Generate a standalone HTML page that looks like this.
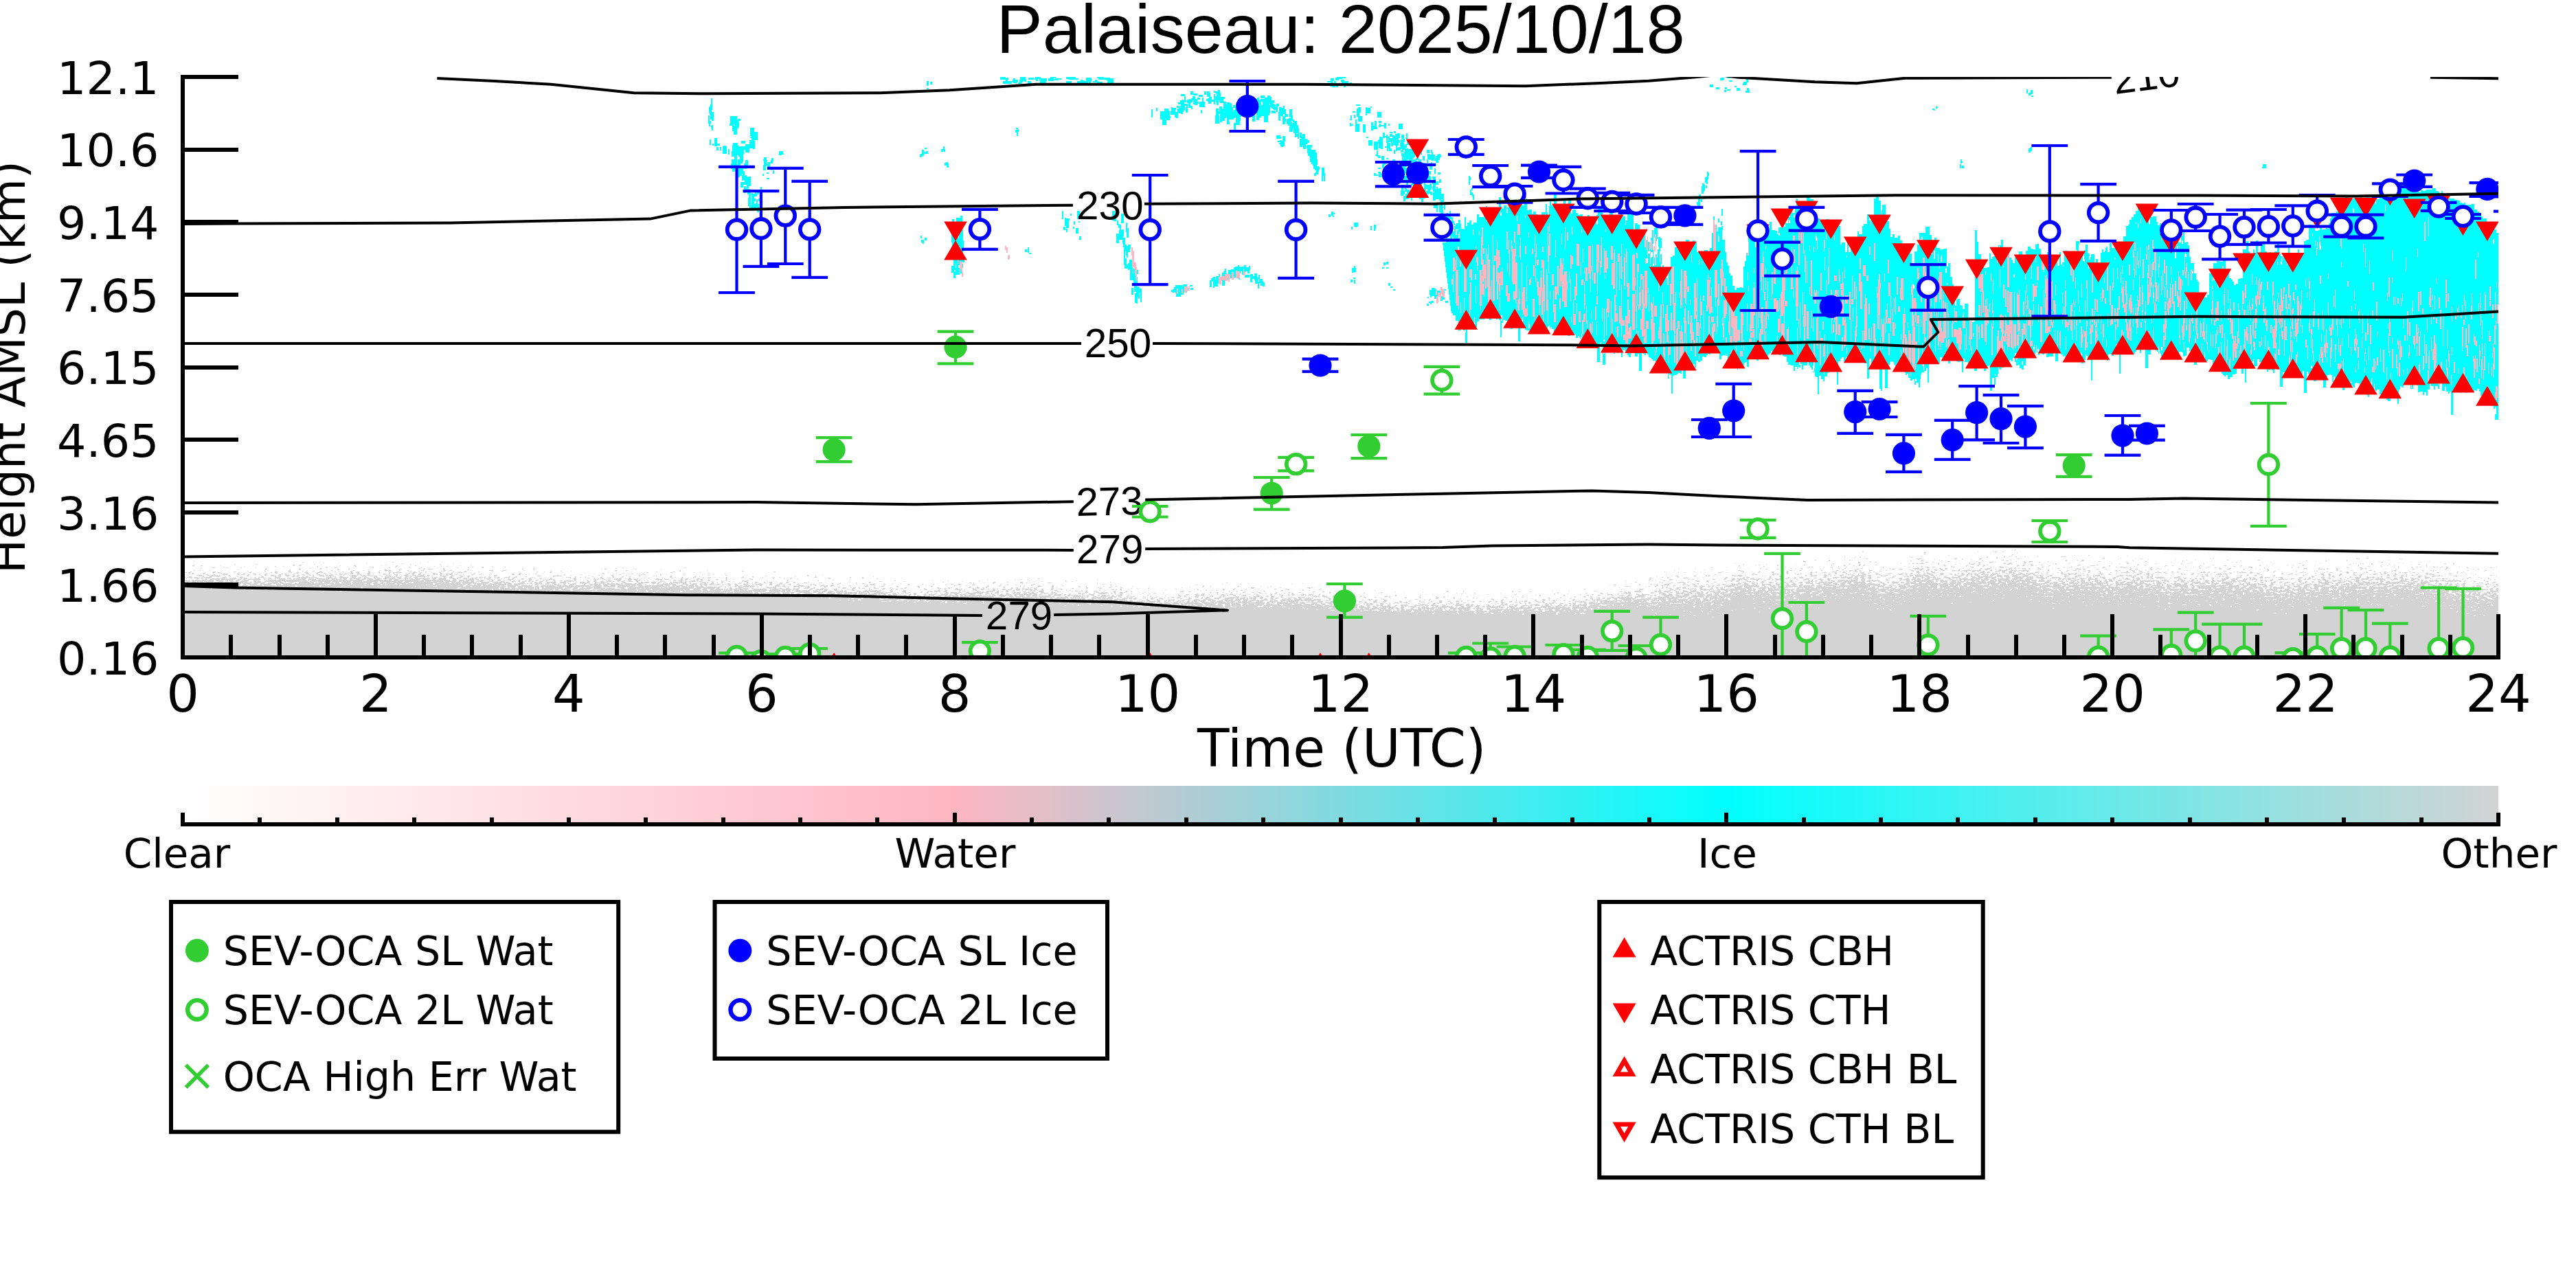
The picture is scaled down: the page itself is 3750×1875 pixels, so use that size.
<!DOCTYPE html><html><head><meta charset="utf-8"><title>Palaiseau: 2025/10/18</title>
<style>html,body{margin:0;padding:0;background:#fff}svg{display:block}text{font-family:"DejaVu Sans","Liberation Sans",sans-serif;fill:#000}.lib{font-family:"Liberation Sans","DejaVu Sans",sans-serif}</style></head><body>
<svg width="3750" height="1875" viewBox="0 0 3750 1875">
<defs>
<clipPath id="pc"><rect x="266" y="112" width="3371" height="845"/></clipPath>
<linearGradient id="cb" x1="0" x2="1" y1="0" y2="0"><stop offset="0" stop-color="#ffffff"/><stop offset="0.3333" stop-color="#ffb6c1"/><stop offset="0.6667" stop-color="#00ffff"/><stop offset="1" stop-color="#d3d3d3"/></linearGradient>
<filter id="gn" x="0" y="0" width="100%" height="100%" filterUnits="objectBoundingBox" color-interpolation-filters="sRGB"><feGaussianBlur in="SourceAlpha" stdDeviation="0 19" result="b0"/><feComponentTransfer in="b0" result="b"><feFuncA type="gamma" amplitude="1" exponent="0.6" offset="0"/></feComponentTransfer><feTurbulence type="fractalNoise" baseFrequency="0.2 0.4" numOctaves="2" seed="5" result="t"/><feColorMatrix in="t" type="matrix" values="0 0 0 0 0 0 0 0 0 0 0 0 0 0 0 2 0 0 0 -0.5" result="n0"/><feComponentTransfer in="n0" result="n"><feFuncA type="linear" slope="0.94" intercept="0"/></feComponentTransfer><feComposite in="b" in2="n" operator="arithmetic" k1="0" k2="1" k3="1" k4="-0.95" result="s"/><feComponentTransfer in="s" result="a"><feFuncA type="linear" slope="80" intercept="0"/></feComponentTransfer><feFlood flood-color="#d3d3d3"/><feComposite in2="a" operator="in"/></filter>
<filter id="gnL" x="0" y="0" width="100%" height="100%" filterUnits="objectBoundingBox" color-interpolation-filters="sRGB"><feGaussianBlur in="SourceAlpha" stdDeviation="0 12" result="b0"/><feComponentTransfer in="b0" result="b"><feFuncA type="gamma" amplitude="1" exponent="0.6" offset="0"/></feComponentTransfer><feTurbulence type="fractalNoise" baseFrequency="0.2 0.4" numOctaves="2" seed="9" result="t"/><feColorMatrix in="t" type="matrix" values="0 0 0 0 0 0 0 0 0 0 0 0 0 0 0 2 0 0 0 -0.5" result="n0"/><feComponentTransfer in="n0" result="n"><feFuncA type="linear" slope="0.94" intercept="0"/></feComponentTransfer><feComposite in="b" in2="n" operator="arithmetic" k1="0" k2="1" k3="1" k4="-0.95" result="s"/><feComponentTransfer in="s" result="a"><feFuncA type="linear" slope="80" intercept="0"/></feComponentTransfer><feFlood flood-color="#d3d3d3"/><feComposite in2="a" operator="in"/></filter>
<clipPath id="cc"><path d="M2100.1,353.2 2105.1,353.2 2105.1,334.5 2107.1,334.5 2107.1,347.3 2111.1,347.3 2111.1,338.9 2114.1,338.9 2114.1,336.7 2117.1,336.7 2117.1,328.8 2119.1,328.8 2119.1,338.5 2121.1,338.5 2121.1,335.3 2123.1,335.3 2123.1,320.1 2126.1,320.1 2126.1,336.1 2130.1,336.1 2130.1,334.8 2132.1,334.8 2132.1,315.6 2134.1,315.6 2134.1,329.1 2136.1,329.1 2136.1,323.9 2139.1,323.9 2139.1,320.7 2142.1,320.7 2142.1,326.9 2145.1,326.9 2145.1,324.2 2150.1,324.2 2150.1,311.6 2153.1,311.6 2153.1,316.3 2158.1,316.3 2158.1,316.2 2160.1,316.2 2160.1,301.5 2163.1,301.5 2163.1,299.5 2165.1,299.5 2165.1,305.2 2169.1,305.2 2169.1,309.9 2172.1,309.9 2172.1,308.1 2175.1,308.1 2175.1,303.2 2177.1,303.2 2177.1,302.2 2182.1,302.2 2182.1,286.7 2185.1,286.7 2185.1,301.6 2188.1,301.6 2188.1,299 2193.1,299 2193.1,301.5 2196.1,301.5 2196.1,287.6 2198.1,287.6 2198.1,285 2203.1,285 2203.1,282.3 2206.1,282.3 2206.1,281.3 2210.1,281.3 2210.1,294.4 2213.1,294.4 2213.1,293.5 2216.1,293.5 2216.1,298.6 2219.1,298.6 2219.1,296.3 2221.1,296.3 2221.1,288.5 2223.1,288.5 2223.1,306.3 2226.1,306.3 2226.1,304.8 2230.1,304.8 2230.1,310.8 2232.1,310.8 2232.1,307.7 2236.1,307.7 2236.1,312.2 2239.1,312.2 2239.1,314.5 2244.1,314.5 2244.1,308.6 2247.1,308.6 2247.1,309.3 2250.1,309.3 2250.1,296.7 2252.1,296.7 2252.1,299.7 2256.1,299.7 2256.1,291.2 2258.1,291.2 2258.1,299.2 2262.1,299.2 2262.1,282 2266.1,282 2266.1,302.5 2269.1,302.5 2269.1,297.9 2271.1,297.9 2271.1,302.5 2274.1,302.5 2274.1,301.7 2276.1,301.7 2276.1,291.6 2279.1,291.6 2279.1,306.7 2283.1,306.7 2283.1,287.8 2287.1,287.8 2287.1,310.7 2289.1,310.7 2289.1,304.6 2294.1,304.6 2294.1,310.2 2297.1,310.2 2297.1,313.2 2300.1,313.2 2300.1,311.5 2304.1,311.5 2304.1,314.7 2306.1,314.7 2306.1,316.3 2311.1,316.3 2311.1,313.4 2314.1,313.4 2314.1,315.8 2316.1,315.8 2316.1,315.1 2318.1,315.1 2318.1,318.7 2321.1,318.7 2321.1,316.4 2324.1,316.4 2324.1,313.2 2326.1,313.2 2326.1,304.4 2329.1,304.4 2329.1,302.1 2333.1,302.1 2333.1,313.9 2338.1,313.9 2338.1,319.9 2343.1,319.9 2343.1,306.7 2348.1,306.7 2348.1,315.9 2350.1,315.9 2350.1,321.4 2352.1,321.4 2352.1,320.4 2355.1,320.4 2355.1,322.9 2357.1,322.9 2357.1,314.6 2359.1,314.6 2359.1,306.4 2362.1,306.4 2362.1,315.1 2366.1,315.1 2366.1,320.5 2369.1,320.5 2369.1,310.4 2371.1,310.4 2371.1,306.6 2376.1,306.6 2376.1,312.2 2378.1,312.2 2378.1,335.2 2380.1,335.2 2380.1,324.8 2384.1,324.8 2384.1,327 2387.1,327 2387.1,346.1 2389.1,346.1 2389.1,345.9 2392.1,345.9 2392.1,355.1 2396.1,355.1 2396.1,382.5 2400.1,382.5 2400.1,376.4 2404.1,376.4 2404.1,374.3 2406.1,374.3 2406.1,386.6 2408.1,386.6 2408.1,375.4 2413.1,375.4 2413.1,382.1 2418.1,382.1 2418.1,389.2 2420.1,389.2 2420.1,385.9 2422.1,385.9 2422.1,396.4 2426.1,396.4 2426.1,390.7 2428.1,390.7 2428.1,393.2 2432.1,393.2 2432.1,373.9 2435.1,373.9 2435.1,371.5 2438.1,371.5 2438.1,359.7 2442.1,359.7 2442.1,362.9 2445.1,362.9 2445.1,360.8 2447.1,360.8 2447.1,353.6 2449.1,353.6 2449.1,357.9 2454.1,357.9 2454.1,349.4 2459.1,349.4 2459.1,360.3 2461.1,360.3 2461.1,362.4 2464.1,362.4 2464.1,349.7 2467.1,349.7 2467.1,351.8 2470.1,351.8 2470.1,366.9 2475.1,366.9 2475.1,367.9 2478.1,367.9 2478.1,370.5 2481.1,370.5 2481.1,363.9 2486.1,363.9 2486.1,371.3 2489.1,371.3 2489.1,361.1 2492.1,361.1 2492.1,332.7 2494.1,332.7 2494.1,314.9 2496.1,314.9 2496.1,326.7 2499.1,326.7 2499.1,337.1 2501.1,337.1 2501.1,330.9 2504.1,330.9 2504.1,331.3 2507.1,331.3 2507.1,349 2511.1,349 2511.1,367.1 2513.1,367.1 2513.1,382.3 2515.1,382.3 2515.1,386.9 2517.1,386.9 2517.1,397.8 2519.1,397.8 2519.1,401.4 2522.1,401.4 2522.1,415.6 2525.1,415.6 2525.1,422.4 2528.1,422.4 2528.1,419.4 2533.1,419.4 2533.1,417.7 2535.1,417.7 2535.1,418.8 2538.1,418.8 2538.1,387.6 2540.1,387.6 2540.1,375.9 2542.1,375.9 2542.1,368.3 2545.1,368.3 2545.1,342.7 2549.1,342.7 2549.1,336.4 2552.1,336.4 2552.1,326.9 2557.1,326.9 2557.1,331.2 2560.1,331.2 2560.1,333.4 2564.1,333.4 2564.1,333.9 2566.1,333.9 2566.1,339.8 2571.1,339.8 2571.1,332.6 2574.1,332.6 2574.1,339.6 2576.1,339.6 2576.1,323.2 2579.1,323.2 2579.1,335.3 2584.1,335.3 2584.1,335.8 2589.1,335.8 2589.1,331.3 2594.1,331.3 2594.1,331.5 2596.1,331.5 2596.1,325.4 2599.1,325.4 2599.1,324.8 2603.1,324.8 2603.1,315.5 2606.1,315.5 2606.1,304.7 2609.1,304.7 2609.1,310.4 2613.1,310.4 2613.1,302.9 2615.1,302.9 2615.1,288.8 2617.1,288.8 2617.1,300.6 2619.1,300.6 2619.1,303 2621.1,303 2621.1,295.8 2623.1,295.8 2623.1,295 2627.1,295 2627.1,295 2630.1,295 2630.1,284 2635.1,284 2635.1,290 2640.1,290 2640.1,312.2 2645.1,312.2 2645.1,318.4 2649.1,318.4 2649.1,321.7 2651.1,321.7 2651.1,322.3 2656.1,322.3 2656.1,324.4 2658.1,324.4 2658.1,318.9 2663.1,318.9 2663.1,325.4 2666.1,325.4 2666.1,327.1 2671.1,327.1 2671.1,334.3 2674.1,334.3 2674.1,328.9 2679.1,328.9 2679.1,356 2681.1,356 2681.1,353.4 2686.1,353.4 2686.1,367 2689.1,367 2689.1,349.3 2691.1,349.3 2691.1,367.4 2694.1,367.4 2694.1,359.4 2699.1,359.4 2699.1,351.9 2704.1,351.9 2704.1,336.9 2706.1,336.9 2706.1,341 2711.1,341 2711.1,329.1 2713.1,329.1 2713.1,325.9 2718.1,325.9 2718.1,312.1 2721.1,312.1 2721.1,320.8 2724.1,320.8 2724.1,320.8 2728.1,320.8 2728.1,289.4 2731.1,289.4 2731.1,284.7 2735.1,284.7 2735.1,292.2 2738.1,292.2 2738.1,305.9 2740.1,305.9 2740.1,297.5 2745.1,297.5 2745.1,317.2 2747.1,317.2 2747.1,321.6 2750.1,321.6 2750.1,332.7 2752.1,332.7 2752.1,345.1 2755.1,345.1 2755.1,340.8 2758.1,340.8 2758.1,346.4 2763.1,346.4 2763.1,342.8 2766.1,342.8 2766.1,349.7 2769.1,349.7 2769.1,367.1 2771.1,367.1 2771.1,366.5 2773.1,366.5 2773.1,371.3 2776.1,371.3 2776.1,369.1 2780.1,369.1 2780.1,369 2783.1,369 2783.1,387.2 2785.1,387.2 2785.1,382.6 2787.1,382.6 2787.1,365.7 2791.1,365.7 2791.1,356 2794.1,356 2794.1,338.7 2799.1,338.7 2799.1,338.8 2803.1,338.8 2803.1,330 2805.1,330 2805.1,329.9 2809.1,329.9 2809.1,341.6 2812.1,341.6 2812.1,355 2816.1,355 2816.1,345.6 2819.1,345.6 2819.1,360.8 2824.1,360.8 2824.1,362.7 2829.1,362.7 2829.1,362.1 2834.1,362.1 2834.1,388.2 2836.1,388.2 2836.1,383.3 2839.1,383.3 2839.1,403.4 2842.1,403.4 2842.1,413.9 2844.1,413.9 2844.1,419.2 2846.1,419.2 2846.1,426.5 2848.1,426.5 2848.1,435.8 2850.1,435.8 2850.1,434.9 2853.1,434.9 2853.1,444.3 2855.1,444.3 2855.1,444.7 2857.1,444.7 2857.1,450.3 2860.1,450.3 2860.1,441.7 2865.1,441.7 2865.1,464.5 2867.1,464.5 2867.1,466.9 2870.1,466.9 2870.1,468.9 2873.1,468.9 2873.1,468.3 2875.1,468.3 2875.1,334.9 2878.1,334.9 2878.1,352.3 2880.1,352.3 2880.1,369.8 2884.1,369.8 2884.1,393.4 2886.1,393.4 2886.1,387.3 2888.1,387.3 2888.1,390 2893.1,390 2893.1,388.8 2896.1,388.8 2896.1,368.6 2898.1,368.6 2898.1,376.8 2900.1,376.8 2900.1,374.3 2902.1,374.3 2902.1,373.1 2905.1,373.1 2905.1,362.7 2907.1,362.7 2907.1,368 2909.1,368 2909.1,356.9 2913.1,356.9 2913.1,349.3 2916.1,349.3 2916.1,366.2 2918.1,366.2 2918.1,368.1 2920.1,368.1 2920.1,359.9 2925.1,359.9 2925.1,375.3 2928.1,375.3 2928.1,378.4 2930.1,378.4 2930.1,383.4 2933.1,383.4 2933.1,374.8 2936.1,374.8 2936.1,379.4 2939.1,379.4 2939.1,366.4 2944.1,366.4 2944.1,372.3 2947.1,372.3 2947.1,371.7 2949.1,371.7 2949.1,365 2952.1,365 2952.1,358.7 2956.1,358.7 2956.1,361.6 2959.1,361.6 2959.1,363.3 2963.1,363.3 2963.1,356.2 2965.1,356.2 2965.1,354.5 2968.1,354.5 2968.1,362.4 2971.1,362.4 2971.1,374.4 2974.1,374.4 2974.1,373.7 2976.1,373.7 2976.1,371.6 2980.1,371.6 2980.1,367.2 2985.1,367.2 2985.1,375.1 2988.1,375.1 2988.1,375.7 2990.1,375.7 2990.1,379.2 2992.1,379.2 2992.1,380.1 2995.1,380.1 2995.1,387 2998.1,387 2998.1,367 3000.1,367 3000.1,385.2 3002.1,385.2 3002.1,382.2 3005.1,382.2 3005.1,364.9 3010.1,364.9 3010.1,366.7 3012.1,366.7 3012.1,375.7 3014.1,375.7 3014.1,374.1 3018.1,374.1 3018.1,368 3022.1,368 3022.1,350.6 3027.1,350.6 3027.1,366.3 3029.1,366.3 3029.1,365.8 3034.1,365.8 3034.1,364.1 3036.1,364.1 3036.1,356 3039.1,356 3039.1,369.2 3042.1,369.2 3042.1,374.1 3044.1,374.1 3044.1,370 3049.1,370 3049.1,381.9 3051.1,381.9 3051.1,377.4 3054.1,377.4 3054.1,388.7 3058.1,388.7 3058.1,367.7 3060.1,367.7 3060.1,363.4 3062.1,363.4 3062.1,366.5 3064.1,366.5 3064.1,361 3066.1,361 3066.1,358.9 3068.1,358.9 3068.1,366.5 3071.1,366.5 3071.1,353.5 3074.1,353.5 3074.1,361 3079.1,361 3079.1,361.5 3081.1,361.5 3081.1,356.6 3084.1,356.6 3084.1,355.6 3089.1,355.6 3089.1,357.4 3091.1,357.4 3091.1,344.3 3095.1,344.3 3095.1,329.4 3098.1,329.4 3098.1,326.9 3100.1,326.9 3100.1,320.4 3103.1,320.4 3103.1,315.6 3106.1,315.6 3106.1,311.9 3109.1,311.9 3109.1,306.6 3112.1,306.6 3112.1,303.4 3116.1,303.4 3116.1,305.7 3118.1,305.7 3118.1,311.4 3121.1,311.4 3121.1,307.5 3126.1,307.5 3126.1,303.6 3130.1,303.6 3130.1,311.3 3132.1,311.3 3132.1,316.4 3134.1,316.4 3134.1,314.5 3139.1,314.5 3139.1,323.2 3141.1,323.2 3141.1,327.8 3144.1,327.8 3144.1,325.3 3146.1,325.3 3146.1,326.1 3149.1,326.1 3149.1,335.2 3152.1,335.2 3152.1,340.4 3156.1,340.4 3156.1,339.9 3161.1,339.9 3161.1,357.1 3166.1,357.1 3166.1,357.3 3169.1,357.3 3169.1,350.8 3172.1,350.8 3172.1,352.6 3175.1,352.6 3175.1,342.8 3178.1,342.8 3178.1,338 3180.1,338 3180.1,352.6 3183.1,352.6 3183.1,352.1 3185.1,352.1 3185.1,357.2 3187.1,357.2 3187.1,373.8 3189.1,373.8 3189.1,382.6 3194.1,382.6 3194.1,398 3197.1,398 3197.1,407.2 3199.1,407.2 3199.1,409.8 3201.1,409.8 3201.1,432.8 3203.1,432.8 3203.1,430.2 3205.1,430.2 3205.1,431.4 3207.1,431.4 3207.1,431.3 3209.1,431.3 3209.1,433.2 3213.1,433.2 3213.1,429 3216.1,429 3216.1,397.6 3219.1,397.6 3219.1,392.4 3222.1,392.4 3222.1,382.8 3227.1,382.8 3227.1,379.8 3231.1,379.8 3231.1,380.9 3236.1,380.9 3236.1,377.7 3240.1,377.7 3240.1,392.1 3243.1,392.1 3243.1,391.3 3245.1,391.3 3245.1,405 3248.1,405 3248.1,406.8 3250.1,406.8 3250.1,409.7 3252.1,409.7 3252.1,415.2 3255.1,415.2 3255.1,413.3 3258.1,413.3 3258.1,405.9 3261.1,405.9 3261.1,405.3 3265.1,405.3 3265.1,363.2 3270.1,363.2 3270.1,351.4 3273.1,351.4 3273.1,366.4 3275.1,366.4 3275.1,369.3 3280.1,369.3 3280.1,362.9 3282.1,362.9 3282.1,367.5 3284.1,367.5 3284.1,349.7 3287.1,349.7 3287.1,371.8 3289.1,371.8 3289.1,366.9 3291.1,366.9 3291.1,357.1 3294.1,357.1 3294.1,350.9 3297.1,350.9 3297.1,365.7 3300.1,365.7 3300.1,369.8 3302.1,369.8 3302.1,367.7 3304.1,367.7 3304.1,367.3 3306.1,367.3 3306.1,372.4 3309.1,372.4 3309.1,370.8 3311.1,370.8 3311.1,366.1 3315.1,366.1 3315.1,354.2 3318.1,354.2 3318.1,369.5 3320.1,369.5 3320.1,373.4 3323.1,373.4 3323.1,368.5 3326.1,368.5 3326.1,370.2 3329.1,370.2 3329.1,369.9 3331.1,369.9 3331.1,356 3333.1,356 3333.1,372.9 3336.1,372.9 3336.1,372.2 3340.1,372.2 3340.1,371 3345.1,371 3345.1,362.8 3347.1,362.8 3347.1,372 3350.1,372 3350.1,369.8 3352.1,369.8 3352.1,367.6 3354.1,367.6 3354.1,351.4 3357.1,351.4 3357.1,348.8 3361.1,348.8 3361.1,327.1 3365.1,327.1 3365.1,328.7 3368.1,328.7 3368.1,332.1 3370.1,332.1 3370.1,335.6 3372.1,335.6 3372.1,336.3 3375.1,336.3 3375.1,335.3 3377.1,335.3 3377.1,329.5 3380.1,329.5 3380.1,334.1 3384.1,334.1 3384.1,334 3386.1,334 3386.1,331.6 3388.1,331.6 3388.1,332.5 3390.1,332.5 3390.1,325.4 3392.1,325.4 3392.1,317.6 3394.1,317.6 3394.1,309.6 3398.1,309.6 3398.1,310 3401.1,310 3401.1,307.8 3404.1,307.8 3404.1,303.9 3409.1,303.9 3409.1,299 3411.1,299 3411.1,294.8 3414.1,294.8 3414.1,284.8 3416.1,284.8 3416.1,287 3418.1,287 3418.1,287.8 3423.1,287.8 3423.1,289.9 3426.1,289.9 3426.1,288 3430.1,288 3430.1,289 3434.1,289 3434.1,287.8 3436.1,287.8 3436.1,284.8 3438.1,284.8 3438.1,289 3443.1,289 3443.1,286.1 3446.1,286.1 3446.1,285.1 3450.1,285.1 3450.1,282.8 3455.1,282.8 3455.1,289.2 3459.1,289.2 3459.1,290.1 3464.1,290.1 3464.1,286.1 3469.1,286.1 3469.1,281 3471.1,281 3471.1,286 3475.1,286 3475.1,280 3477.1,280 3477.1,276.5 3479.1,276.5 3479.1,280.3 3481.1,280.3 3481.1,277.5 3486.1,277.5 3486.1,278.7 3491.1,278.7 3491.1,271.9 3494.1,271.9 3494.1,270.7 3498.1,270.7 3498.1,273.8 3503.1,273.8 3503.1,274.8 3505.1,274.8 3505.1,274.7 3510.1,274.7 3510.1,272.7 3515.1,272.7 3515.1,278.2 3517.1,278.2 3517.1,278.2 3520.1,278.2 3520.1,278.8 3522.1,278.8 3522.1,280.1 3524.1,280.1 3524.1,277 3527.1,277 3527.1,277.5 3530.1,277.5 3530.1,277.4 3532.1,277.4 3532.1,275.6 3536.1,275.6 3536.1,276.2 3541.1,276.2 3541.1,273.9 3546.1,273.9 3546.1,277.9 3549.1,277.9 3549.1,278.6 3551.1,278.6 3551.1,282.6 3553.1,282.6 3553.1,277.7 3556.1,277.7 3556.1,283.5 3559.1,283.5 3559.1,285.3 3563.1,285.3 3563.1,288.5 3566.1,288.5 3566.1,288.5 3568.1,288.5 3568.1,288.5 3573.1,288.5 3573.1,290.5 3578.1,290.5 3578.1,291.7 3581.1,291.7 3581.1,295.1 3584.1,295.1 3584.1,295.9 3587.1,295.9 3587.1,295 3589.1,295 3589.1,298.4 3593.1,298.4 3593.1,298.4 3598.1,298.4 3598.1,297.4 3602.1,297.4 3602.1,304.6 3606.1,304.6 3606.1,307.6 3609.1,307.6 3609.1,312.1 3612.1,312.1 3612.1,314.7 3614.1,314.7 3614.1,318 3617.1,318 3617.1,318.1 3620.1,318.1 3620.1,322.9 3624.1,322.9 3624.1,324 3629.1,324 3629.1,334 3634.1,334 3634.1,338.8 3637.1,338.8 3640,338.8 3640,611.4 3635.9,611.4 3631.9,611.4 3631.9,594.6 3629.9,594.6 3629.9,590.7 3626.9,590.7 3626.9,587 3623.9,587 3623.9,585.6 3620.9,585.6 3620.9,581.9 3616.9,581.9 3616.9,582.1 3614.9,582.1 3614.9,579.9 3612.9,579.9 3612.9,575.7 3610.9,575.7 3610.9,570.2 3608.9,570.2 3608.9,566 3605.9,566 3605.9,568.8 3603.9,568.8 3603.9,567.8 3601.9,567.8 3601.9,569.6 3599.9,569.6 3599.9,566.2 3596.9,566.2 3596.9,569 3594.9,569 3594.9,567.2 3592.9,567.2 3592.9,567.9 3590.9,567.9 3590.9,571.6 3588.9,571.6 3588.9,568.8 3584.9,568.8 3584.9,568 3582.9,568 3582.9,571.8 3580.9,571.8 3580.9,569.1 3578.9,569.1 3578.9,566.1 3574.9,566.1 3574.9,567.3 3572.9,567.3 3572.9,566.9 3570.9,566.9 3570.9,603.9 3567.9,603.9 3567.9,570.3 3565.9,570.3 3565.9,572.7 3563.9,572.7 3563.9,569.7 3560.9,569.7 3560.9,562.7 3558.9,562.7 3558.9,568.6 3554.9,568.6 3554.9,557.4 3550.9,557.4 3550.9,565.5 3548.9,565.5 3548.9,561.7 3544.9,561.7 3544.9,566.5 3542.9,566.5 3542.9,561.8 3538.9,561.8 3538.9,559.3 3536.9,559.3 3536.9,567.3 3533.9,567.3 3533.9,576.1 3531.9,576.1 3531.9,571.3 3528.9,571.3 3528.9,575.1 3526.9,575.1 3526.9,569.8 3522.9,569.8 3522.9,571.2 3519.9,571.2 3519.9,561 3517.9,561 3517.9,559 3515.9,559 3515.9,559.9 3512.9,559.9 3512.9,566.4 3508.9,566.4 3508.9,560 3506.9,560 3506.9,559.6 3504.9,559.6 3504.9,560.1 3502.9,560.1 3502.9,559.1 3500.9,559.1 3500.9,559.8 3498.9,559.8 3498.9,563.7 3495.9,563.7 3495.9,562 3493.9,562 3493.9,566.6 3491.9,566.6 3491.9,587.8 3489.9,587.8 3489.9,570.1 3486.9,570.1 3486.9,575.6 3482.9,575.6 3482.9,580 3479.9,580 3479.9,583.5 3475.9,583.5 3475.9,581.7 3473.9,581.7 3473.9,575.1 3470.9,575.1 3470.9,573.8 3467.9,573.8 3467.9,573.8 3463.9,573.8 3463.9,566.9 3459.9,566.9 3459.9,568.7 3457.9,568.7 3457.9,567.5 3454.9,567.5 3454.9,570.8 3452.9,570.8 3452.9,568.7 3450.9,568.7 3450.9,572.8 3448.9,572.8 3448.9,578.3 3446.9,578.3 3446.9,574.7 3444.9,574.7 3444.9,567.7 3442.9,567.7 3442.9,568 3439.9,568 3439.9,566 3436.9,566 3436.9,565.2 3434.9,565.2 3434.9,558.2 3431.9,558.2 3431.9,556.9 3429.9,556.9 3429.9,558.2 3427.9,558.2 3427.9,563.6 3424.9,563.6 3424.9,560.6 3421.9,560.6 3421.9,559.9 3419.9,559.9 3419.9,564.4 3416.9,564.4 3416.9,563.5 3412.9,563.5 3412.9,567.7 3409.9,567.7 3409.9,559.9 3405.9,559.9 3405.9,556.5 3402.9,556.5 3402.9,550.5 3398.9,550.5 3398.9,548 3396.9,548 3396.9,556 3394.9,556 3394.9,545.5 3392.9,545.5 3392.9,545.1 3390.9,545.1 3390.9,546.1 3387.9,546.1 3387.9,548.6 3385.9,548.6 3385.9,564.2 3381.9,564.2 3381.9,550.1 3377.9,550.1 3377.9,551.5 3375.9,551.5 3375.9,550.7 3373.9,550.7 3373.9,551 3371.9,551 3371.9,554.9 3367.9,554.9 3367.9,549.2 3364.9,549.2 3364.9,547.7 3362.9,547.7 3362.9,543.7 3359.9,543.7 3359.9,540.6 3357.9,540.6 3357.9,571.6 3353.9,571.6 3353.9,540.1 3351.9,540.1 3351.9,545 3349.9,545 3349.9,543.3 3347.9,543.3 3347.9,547 3345.9,547 3345.9,547.6 3342.9,547.6 3342.9,544.1 3339.9,544.1 3339.9,547.5 3337.9,547.5 3337.9,545.8 3335.9,545.8 3335.9,542.7 3332.9,542.7 3332.9,544.3 3330.9,544.3 3330.9,543.7 3328.9,543.7 3328.9,543.2 3325.9,543.2 3325.9,541.8 3322.9,541.8 3322.9,562.7 3318.9,562.7 3318.9,536.4 3316.9,536.4 3316.9,537.9 3314.9,537.9 3314.9,536.5 3312.9,536.5 3312.9,536.1 3310.9,536.1 3310.9,543.2 3308.9,543.2 3308.9,539.2 3306.9,539.2 3306.9,539.1 3303.9,539.1 3303.9,537.7 3301.9,537.7 3301.9,540.8 3299.9,540.8 3299.9,531.5 3297.9,531.5 3297.9,531.1 3293.9,531.1 3293.9,528.2 3291.9,528.2 3291.9,527 3288.9,527 3288.9,522.7 3285.9,522.7 3285.9,532.7 3281.9,532.7 3281.9,532.9 3278.9,532.9 3278.9,527.3 3276.9,527.3 3276.9,535.7 3273.9,535.7 3273.9,536.1 3271.9,536.1 3271.9,537.1 3269.9,537.1 3269.9,557.2 3267.9,557.2 3267.9,533 3265.9,533 3265.9,543.9 3262.9,543.9 3262.9,535 3258.9,535 3258.9,535.4 3255.9,535.4 3255.9,543.5 3253.9,543.5 3253.9,545.1 3249.9,545.1 3249.9,548.6 3245.9,548.6 3245.9,551.7 3242.9,551.7 3242.9,545.6 3239.9,545.6 3239.9,547.8 3237.9,547.8 3237.9,546.3 3235.9,546.3 3235.9,544.1 3233.9,544.1 3233.9,539.7 3229.9,539.7 3229.9,535.2 3227.9,535.2 3227.9,528.1 3223.9,528.1 3223.9,529.5 3220.9,529.5 3220.9,524.4 3217.9,524.4 3217.9,522.6 3213.9,522.6 3213.9,525.5 3209.9,525.5 3209.9,523.3 3206.9,523.3 3206.9,522.5 3203.9,522.5 3203.9,527 3201.9,527 3201.9,526 3197.9,526 3197.9,530.7 3193.9,530.7 3193.9,517.8 3191.9,517.8 3191.9,515.2 3189.9,515.2 3189.9,511.2 3186.9,511.2 3186.9,505.6 3182.9,505.6 3182.9,518.3 3179.9,518.3 3179.9,519.2 3177.9,519.2 3177.9,512.8 3175.9,512.8 3175.9,511.5 3171.9,511.5 3171.9,516.5 3168.9,516.5 3168.9,514.9 3165.9,514.9 3165.9,516.5 3163.9,516.5 3163.9,515.4 3160.9,515.4 3160.9,518.5 3158.9,518.5 3158.9,517.7 3155.9,517.7 3155.9,518.4 3151.9,518.4 3151.9,523 3149.9,523 3149.9,517.5 3147.9,517.5 3147.9,519.1 3145.9,519.1 3145.9,515.1 3141.9,515.1 3141.9,511.5 3139.9,511.5 3139.9,509.9 3137.9,509.9 3137.9,508.6 3133.9,508.6 3133.9,508.8 3130.9,508.8 3130.9,516.4 3128.9,516.4 3128.9,515.6 3126.9,515.6 3126.9,535.9 3122.9,535.9 3122.9,508 3120.9,508 3120.9,508.9 3118.9,508.9 3118.9,504.6 3116.9,504.6 3116.9,514.1 3114.9,514.1 3114.9,505.9 3111.9,505.9 3111.9,505.8 3109.9,505.8 3109.9,512.2 3107.9,512.2 3107.9,514.6 3103.9,514.6 3103.9,516.4 3100.9,516.4 3100.9,510.7 3097.9,510.7 3097.9,515.6 3093.9,515.6 3093.9,514.3 3091.9,514.3 3091.9,514.8 3088.9,514.8 3088.9,510.9 3086.9,510.9 3086.9,543.9 3084.9,543.9 3084.9,516.4 3080.9,516.4 3080.9,514.2 3078.9,514.2 3078.9,513.8 3076.9,513.8 3076.9,517.9 3073.9,517.9 3073.9,515.3 3070.9,515.3 3070.9,516 3068.9,516 3068.9,525.4 3066.9,525.4 3066.9,521.7 3063.9,521.7 3063.9,521.3 3061.9,521.3 3061.9,520.5 3057.9,520.5 3057.9,523.2 3055.9,523.2 3055.9,519.2 3051.9,519.2 3051.9,522 3048.9,522 3048.9,523.4 3045.9,523.4 3045.9,554 3043.9,554 3043.9,523.9 3041.9,523.9 3041.9,522.8 3038.9,522.8 3038.9,517.7 3035.9,517.7 3035.9,524.3 3032.9,524.3 3032.9,529.3 3029.9,529.3 3029.9,520.1 3025.9,520.1 3025.9,524.7 3023.9,524.7 3023.9,525.3 3020.9,525.3 3020.9,526.2 3018.9,526.2 3018.9,523.1 3015.9,523.1 3015.9,525.1 3013.9,525.1 3013.9,526.5 3010.9,526.5 3010.9,520.1 3008.9,520.1 3008.9,520 3006.9,520 3006.9,518.8 3002.9,518.8 3002.9,515.5 2999.9,515.5 2999.9,514.4 2997.9,514.4 2997.9,513.2 2995.9,513.2 2995.9,526.1 2991.9,526.1 2991.9,511.5 2988.9,511.5 2988.9,518.5 2984.9,518.5 2984.9,518.7 2981.9,518.7 2981.9,520.3 2978.9,520.3 2978.9,513 2975.9,513 2975.9,515.8 2972.9,515.8 2972.9,511.7 2970.9,511.7 2970.9,513 2968.9,513 2968.9,516.8 2966.9,516.8 2966.9,513.1 2964.9,513.1 2964.9,516 2961.9,516 2961.9,515 2958.9,515 2958.9,516.4 2956.9,516.4 2956.9,517.9 2952.9,517.9 2952.9,519 2950.9,519 2950.9,519.5 2948.9,519.5 2948.9,532.3 2945.9,532.3 2945.9,537.7 2942.9,537.7 2942.9,535.9 2939.9,535.9 2939.9,530.7 2937.9,530.7 2937.9,532.4 2934.9,532.4 2934.9,527.4 2932.9,527.4 2932.9,521 2929.9,521 2929.9,526.1 2927.9,526.1 2927.9,523.7 2925.9,523.7 2925.9,525.1 2922.9,525.1 2922.9,528 2919.9,528 2919.9,532.8 2916.9,532.8 2916.9,534.7 2912.9,534.7 2912.9,538.4 2909.9,538.4 2909.9,544.4 2907.9,544.4 2907.9,549.4 2904.9,549.4 2904.9,559.5 2902.9,559.5 2902.9,550.3 2899.9,550.3 2899.9,568.5 2896.9,568.5 2896.9,532.4 2894.9,532.4 2894.9,532.7 2890.9,532.7 2890.9,539.5 2887.9,539.5 2887.9,531.5 2884.9,531.5 2884.9,534.3 2881.9,534.3 2881.9,533.4 2877.9,533.4 2877.9,539.5 2873.9,539.5 2873.9,531.7 2870.9,531.7 2870.9,528.6 2867.9,528.6 2867.9,534.1 2864.9,534.1 2864.9,527.4 2861.9,527.4 2861.9,527.1 2859.9,527.1 2859.9,522.1 2857.9,522.1 2857.9,541.7 2855.9,541.7 2855.9,525.6 2852.9,525.6 2852.9,526.6 2849.9,526.6 2849.9,525.5 2847.9,525.5 2847.9,524.4 2844.9,524.4 2844.9,524.7 2842.9,524.7 2842.9,524.6 2838.9,524.6 2838.9,529.1 2835.9,529.1 2835.9,522 2831.9,522 2831.9,525.4 2828.9,525.4 2828.9,520.7 2826.9,520.7 2826.9,520 2823.9,520 2823.9,528 2820.9,528 2820.9,527.5 2818.9,527.5 2818.9,527.1 2816.9,527.1 2816.9,528.1 2814.9,528.1 2814.9,529.4 2811.9,529.4 2811.9,529.5 2807.9,529.5 2807.9,557.4 2805.9,557.4 2805.9,535.9 2803.9,535.9 2803.9,540.3 2800.9,540.3 2800.9,541.6 2797.9,541.6 2797.9,552.4 2794.9,552.4 2794.9,564 2792.9,564 2792.9,556.9 2788.9,556.9 2788.9,559.5 2786.9,559.5 2786.9,552 2783.9,552 2783.9,553.8 2780.9,553.8 2780.9,550 2777.9,550 2777.9,544.1 2775.9,544.1 2775.9,546 2773.9,546 2773.9,541.7 2771.9,541.7 2771.9,538.3 2768.9,538.3 2768.9,540.2 2766.9,540.2 2766.9,540.2 2762.9,540.2 2762.9,531.8 2760.9,531.8 2760.9,534.8 2758.9,534.8 2758.9,531.2 2756.9,531.2 2756.9,526.6 2754.9,526.6 2754.9,525.5 2752.9,525.5 2752.9,527 2750.9,527 2750.9,531.1 2747.9,531.1 2747.9,564.7 2743.9,564.7 2743.9,534.6 2741.9,534.6 2741.9,532 2739.9,532 2739.9,569.4 2737.9,569.4 2737.9,566.2 2735.9,566.2 2735.9,533.8 2732.9,533.8 2732.9,529.8 2730.9,529.8 2730.9,532.5 2727.9,532.5 2727.9,535.2 2725.9,535.2 2725.9,530.3 2723.9,530.3 2723.9,522.4 2720.9,522.4 2720.9,551.1 2717.9,551.1 2717.9,529.4 2715.9,529.4 2715.9,529 2713.9,529 2713.9,528.3 2710.9,528.3 2710.9,527 2707.9,527 2707.9,524.5 2705.9,524.5 2705.9,528 2703.9,528 2703.9,527.8 2699.9,527.8 2699.9,520.5 2697.9,520.5 2697.9,522 2693.9,522 2693.9,517.4 2691.9,517.4 2691.9,519.3 2688.9,519.3 2688.9,519.6 2686.9,519.6 2686.9,526.9 2683.9,526.9 2683.9,519.7 2680.9,519.7 2680.9,521.8 2678.9,521.8 2678.9,526.4 2675.9,526.4 2675.9,559.9 2673.9,559.9 2673.9,532.9 2669.9,532.9 2669.9,538.5 2665.9,538.5 2665.9,539.6 2663.9,539.6 2663.9,541.8 2661.9,541.8 2661.9,542.7 2659.9,542.7 2659.9,547.6 2657.9,547.6 2657.9,547.9 2655.9,547.9 2655.9,554.6 2653.9,554.6 2653.9,552.3 2650.9,552.3 2650.9,546.5 2647.9,546.5 2647.9,573.7 2645.9,573.7 2645.9,549.1 2643.9,549.1 2643.9,548 2641.9,548 2641.9,542.2 2638.9,542.2 2638.9,538 2636.9,538 2636.9,534.5 2634.9,534.5 2634.9,531.8 2632.9,531.8 2632.9,527.4 2630.9,527.4 2630.9,532.3 2628.9,532.3 2628.9,531.8 2624.9,531.8 2624.9,537.6 2622.9,537.6 2622.9,529.7 2620.9,529.7 2620.9,535.1 2617.9,535.1 2617.9,537 2615.9,537 2615.9,534 2612.9,534 2612.9,539.5 2610.9,539.5 2610.9,532.4 2606.9,532.4 2606.9,531 2604.9,531 2604.9,530.9 2602.9,530.9 2602.9,527.1 2600.9,527.1 2600.9,518.6 2596.9,518.6 2596.9,517.7 2594.9,517.7 2594.9,512.2 2591.9,512.2 2591.9,516.9 2589.9,516.9 2589.9,512.5 2585.9,512.5 2585.9,512 2583.9,512 2583.9,514.2 2579.9,514.2 2579.9,510.6 2577.9,510.6 2577.9,514 2575.9,514 2575.9,516.4 2573.9,516.4 2573.9,518.1 2570.9,518.1 2570.9,514.1 2568.9,514.1 2568.9,517.1 2566.9,517.1 2566.9,521.9 2564.9,521.9 2564.9,523.4 2561.9,523.4 2561.9,520.1 2559.9,520.1 2559.9,525 2556.9,525 2556.9,520.8 2554.9,520.8 2554.9,523 2551.9,523 2551.9,521.9 2549.9,521.9 2549.9,523 2545.9,523 2545.9,533.5 2542.9,533.5 2542.9,526.6 2540.9,526.6 2540.9,527.5 2538.9,527.5 2538.9,531.9 2534.9,531.9 2534.9,527.9 2532.9,527.9 2532.9,531.2 2529.9,531.2 2529.9,537.5 2527.9,537.5 2527.9,532 2525.9,532 2525.9,533.6 2523.9,533.6 2523.9,535.3 2521.9,535.3 2521.9,531.9 2517.9,531.9 2517.9,522.6 2514.9,522.6 2514.9,518.1 2510.9,518.1 2510.9,516.9 2507.9,516.9 2507.9,517.6 2505.9,517.6 2505.9,522.6 2502.9,522.6 2502.9,512.2 2499.9,512.2 2499.9,512.1 2497.9,512.1 2497.9,510.9 2495.9,510.9 2495.9,511.9 2492.9,511.9 2492.9,514.2 2489.9,514.2 2489.9,516.1 2487.9,516.1 2487.9,515.3 2485.9,515.3 2485.9,516.8 2483.9,516.8 2483.9,519.6 2480.9,519.6 2480.9,519.3 2477.9,519.3 2477.9,524.5 2474.9,524.5 2474.9,526.6 2471.9,526.6 2471.9,525.1 2468.9,525.1 2468.9,535.4 2466.9,535.4 2466.9,529.8 2464.9,529.8 2464.9,536.4 2461.9,536.4 2461.9,536.3 2458.9,536.3 2458.9,537.1 2456.9,537.1 2456.9,538.6 2453.9,538.6 2453.9,551 2449.9,551 2449.9,537.7 2447.9,537.7 2447.9,543.8 2445.9,543.8 2445.9,542.7 2442.9,542.7 2442.9,544.4 2440.9,544.4 2440.9,546 2436.9,546 2436.9,546.8 2434.9,546.8 2434.9,573.2 2432.9,573.2 2432.9,546.4 2429.9,546.4 2429.9,550.6 2427.9,550.6 2427.9,538.2 2423.9,538.2 2423.9,543.2 2421.9,543.2 2421.9,536.6 2418.9,536.6 2418.9,536.4 2415.9,536.4 2415.9,532.5 2411.9,532.5 2411.9,529.3 2409.9,529.3 2409.9,524.6 2405.9,524.6 2405.9,522.9 2403.9,522.9 2403.9,521.3 2401.9,521.3 2401.9,520.3 2399.9,520.3 2399.9,515.7 2397.9,515.7 2397.9,514.4 2395.9,514.4 2395.9,517 2393.9,517 2393.9,515.1 2391.9,515.1 2391.9,512.6 2389.9,512.6 2389.9,540.1 2385.9,540.1 2385.9,514.5 2383.9,514.5 2383.9,518.9 2379.9,518.9 2379.9,513.6 2376.9,513.6 2376.9,513.8 2373.9,513.8 2373.9,519.8 2370.9,519.8 2370.9,516.7 2368.9,516.7 2368.9,512.3 2365.9,512.3 2365.9,509.8 2361.9,509.8 2361.9,520.1 2359.9,520.1 2359.9,510.9 2357.9,510.9 2357.9,512.7 2355.9,512.7 2355.9,513.7 2353.9,513.7 2353.9,510.5 2350.9,510.5 2350.9,514.6 2348.9,514.6 2348.9,509.6 2345.9,509.6 2345.9,511.5 2343.9,511.5 2343.9,507.2 2340.9,507.2 2340.9,507.8 2336.9,507.8 2336.9,531.3 2332.9,531.3 2332.9,501.9 2330.9,501.9 2330.9,504.2 2328.9,504.2 2328.9,526.9 2324.9,526.9 2324.9,505.4 2320.9,505.4 2320.9,504 2318.9,504 2318.9,501 2315.9,501 2315.9,501.6 2311.9,501.6 2311.9,497.3 2309.9,497.3 2309.9,501.1 2306.9,501.1 2306.9,493.9 2303.9,493.9 2303.9,494.3 2300.9,494.3 2300.9,491 2298.9,491 2298.9,488.9 2296.9,488.9 2296.9,492 2293.9,492 2293.9,486.9 2289.9,486.9 2289.9,488.3 2285.9,488.3 2285.9,488.9 2281.9,488.9 2281.9,484.5 2277.9,484.5 2277.9,483.7 2274.9,483.7 2274.9,483 2271.9,483 2271.9,481.9 2269.9,481.9 2269.9,486.1 2267.9,486.1 2267.9,480.2 2265.9,480.2 2265.9,479.6 2263.9,479.6 2263.9,484.8 2261.9,484.8 2261.9,478.6 2258.9,478.6 2258.9,476.3 2256.9,476.3 2256.9,482.5 2253.9,482.5 2253.9,481.8 2249.9,481.8 2249.9,482.5 2245.9,482.5 2245.9,483.7 2242.9,483.7 2242.9,484.7 2240.9,484.7 2240.9,483.5 2237.9,483.5 2237.9,479.8 2234.9,479.8 2234.9,481.1 2231.9,481.1 2231.9,481 2229.9,481 2229.9,479.7 2226.9,479.7 2226.9,481.1 2224.9,481.1 2224.9,480.5 2221.9,480.5 2221.9,480.2 2219.9,480.2 2219.9,475.3 2215.9,475.3 2215.9,477.6 2212.9,477.6 2212.9,497.3 2209.9,497.3 2209.9,475.2 2207.9,475.2 2207.9,474.8 2205.9,474.8 2205.9,476.7 2201.9,476.7 2201.9,478.8 2198.9,478.8 2198.9,470.9 2195.9,470.9 2195.9,471.3 2193.9,471.3 2193.9,467.4 2190.9,467.4 2190.9,465.6 2187.9,465.6 2187.9,470 2185.9,470 2185.9,490.6 2183.9,490.6 2183.9,465.8 2181.9,465.8 2181.9,464.1 2179.9,464.1 2179.9,465.4 2177.9,465.4 2177.9,460.5 2174.9,460.5 2174.9,460.8 2171.9,460.8 2171.9,466.3 2167.9,466.3 2167.9,463.5 2164.9,463.5 2164.9,462.3 2162.9,462.3 2162.9,461.2 2160.9,461.2 2160.9,465 2156.9,465 2156.9,464.9 2152.9,464.9 2152.9,467.5 2149.9,467.5 2149.9,476.2 2145.9,476.2 2145.9,471.6 2141.9,471.6 2141.9,470.8 2139.9,470.8 2139.9,476.8 2135.9,476.8 2135.9,498.9 2132.9,498.9 2132.9,481.3 2129.9,481.3 2129.9,477.1 2127.9,477.1 2127.9,481.6 2124.9,481.6 2124.9,481.3 2122.9,481.3 2122.9,467 2118.9,467 2118.9,459.1 2114.9,459.1 2114.9,456.1 2112.9,456.1Z"/></clipPath>
</defs>
<rect width="3750" height="1875" fill="#fff"/>
<g clip-path="url(#pc)" shape-rendering="crispEdges">
<g filter="url(#gnL)"><path d="M266,1010 L266,850.6 L278,850.5 L290,848.6 L302,847.2 L314,847.6 L326,848.8 L338,849.8 L350,850.8 L362,851 L374,850.4 L386,851.3 L398,849.8 L410,848 L422,848.2 L434,846.6 L446,846.8 L458,846.6 L470,846.7 L482,847.7 L494,847.3 L506,847.6 L518,845.8 L530,847.3 L542,847 L554,848.7 L566,845 L578,845.3 L590,847.1 L602,844.4 L614,845.5 L626,847.2 L638,848.5 L650,847.2 L662,848.8 L674,850 L686,849.2 L698,851.4 L710,851.9 L722,852.4 L734,852.2 L746,853.5 L758,854 L770,856 L782,856.6 L794,855.4 L806,855.1 L818,856.7 L830,856 L842,856.6 L854,857.3 L866,856.8 L878,853 L890,853.9 L902,854.7 L914,855.3 L926,854.3 L938,856.7 L950,856.6 L962,855.7 L974,854.8 L986,855.9 L998,854.4 L1010,853.4 L1022,857.4 L1034,859.6 L1046,861 L1058,862.6 L1070,862.8 L1082,859.3 L1094,861.1 L1106,862.9 L1118,863.5 L1130,860.2 L1142,862.7 L1154,865.1 L1166,864.2 L1178,864.5 L1190,866 L1202,865.9 L1214,867.9 L1226,868 L1238,869.1 L1250,869.2 L1262,866.6 L1274,865.2 L1286,870.8 L1298,870.8 L1310,872.6 L1322,873.7 L1334,875.7 L1346,875.5 L1358,873.5 L1370,873 L1382,869.4 L1394,869.4 L1406,871.1 L1418,867.7 L1430,868.7 L1442,870.6 L1454,873 L1466,871.5 L1478,870.6 L1490,868.1 L1502,867.4 L1514,869.3 L1526,873.3 L1538,871.6 L1550,874.2 L1562,874.8 L1574,874 L1586,877.6 L1598,873 L1610,873.2 L1622,873.9 L1634,877.6 L1646,880.1 L1658,883 L1670,881.9 L1682,882.4 L1694,883.5 L1706,883.1 L1718,882.6 L1730,881.3 L1742,879.9 L1754,877.5 L1766,880.6 L1778,879.4 L1790,875.8 L1802,876.7 L1814,877 L1826,877.6 L1838,880.7 L1850,880.3 L1862,879.7 L1874,878.5 L1886,878.7 L1898,878.2 L1910,878.9 L1922,884.2 L1934,884.2 L1946,882.2 L1958,885.2 L1970,886.1 L1982,886.8 L1994,887.3 L2006,888 L2018,888.3 L2030,889.9 L2042,890.6 L2054,891.8 L2066,889.9 L2078,889.2 L2090,887.6 L2102,888.9 L2114,889.6 L2126,888.1 L2138,888.6 L2150,892.2 L2162,893 L2174,889.9 L2186,889 L2198,889.4 L2210,888.7 L2222,888.8 L2234,890.2 L2246,890 L2258,887.5 L2270,888.4 L2282,887.9 L2294,887.7 L2306,886.1 L2318,883 L2330,880.4 L2342,879.7 L2354,877.7 L2366,873.3 L2378,875.8 L2390,873.9 L2400,879 L2400,1010Z" fill="#d3d3d3"/><rect x="266" y="700" width="1" height="1" fill="#d3d3d3" fill-opacity="0"/></g>
<g filter="url(#gn)"><path d="M2400,1010 L2400,879.7 L2412,880.6 L2424,871.7 L2436,876.2 L2448,872.9 L2460,874.6 L2472,872.1 L2484,872.4 L2496,871.7 L2508,870.7 L2520,863.7 L2532,859.1 L2544,859.7 L2556,864.7 L2568,862.4 L2580,863.7 L2592,863.4 L2604,864 L2616,866 L2628,859.4 L2640,859.6 L2652,858.2 L2664,857.3 L2676,854.7 L2688,852.9 L2700,850.6 L2712,848.4 L2724,858.3 L2736,863.7 L2748,862.8 L2760,864.3 L2772,860 L2784,850.7 L2796,846.1 L2808,848.7 L2820,854.9 L2832,855.3 L2844,852.5 L2856,852.6 L2868,850.3 L2880,847.1 L2892,848.2 L2904,848.5 L2916,847.5 L2928,846.3 L2940,845.3 L2952,848.1 L2964,854.2 L2976,854 L2988,861.7 L3000,855.6 L3012,856.9 L3024,853.4 L3036,853.7 L3048,854.9 L3060,857.3 L3072,861.2 L3084,859 L3096,855 L3108,855.2 L3120,856.8 L3132,855.1 L3144,858.8 L3156,864.4 L3168,859 L3180,860.4 L3192,863.6 L3204,856.9 L3216,858.2 L3228,857.9 L3240,853.9 L3252,859.4 L3264,860.5 L3276,859.1 L3288,861 L3300,863.2 L3312,865.5 L3324,866.9 L3336,867.5 L3348,863 L3360,861.8 L3372,862.6 L3384,854 L3396,862.8 L3408,861.9 L3420,859.1 L3432,854.4 L3444,857.2 L3456,858.9 L3468,858.3 L3480,858.5 L3492,857.1 L3504,856.5 L3516,858.1 L3528,857.8 L3540,861.8 L3552,862.5 L3564,864 L3576,866.2 L3588,870.8 L3600,872.4 L3612,872.7 L3624,871.7 L3636,868.8 L3640,869 L3640,1010Z" fill="#d3d3d3"/><rect x="2400" y="700" width="1" height="1" fill="#d3d3d3" fill-opacity="0"/></g>
<path d="M266,1010 L266,859 L700,863 L1100,867 L1250,875 L1500,881 L1953,889 L2100,894 L2300,895 L2400,889 L2400,1010Z" fill="#d3d3d3"/>
<path d="M2100.1,353.2 2105.1,353.2 2105.1,334.5 2107.1,334.5 2107.1,347.3 2111.1,347.3 2111.1,338.9 2114.1,338.9 2114.1,336.7 2117.1,336.7 2117.1,328.8 2119.1,328.8 2119.1,338.5 2121.1,338.5 2121.1,335.3 2123.1,335.3 2123.1,320.1 2126.1,320.1 2126.1,336.1 2130.1,336.1 2130.1,334.8 2132.1,334.8 2132.1,315.6 2134.1,315.6 2134.1,329.1 2136.1,329.1 2136.1,323.9 2139.1,323.9 2139.1,320.7 2142.1,320.7 2142.1,326.9 2145.1,326.9 2145.1,324.2 2150.1,324.2 2150.1,311.6 2153.1,311.6 2153.1,316.3 2158.1,316.3 2158.1,316.2 2160.1,316.2 2160.1,301.5 2163.1,301.5 2163.1,299.5 2165.1,299.5 2165.1,305.2 2169.1,305.2 2169.1,309.9 2172.1,309.9 2172.1,308.1 2175.1,308.1 2175.1,303.2 2177.1,303.2 2177.1,302.2 2182.1,302.2 2182.1,286.7 2185.1,286.7 2185.1,301.6 2188.1,301.6 2188.1,299 2193.1,299 2193.1,301.5 2196.1,301.5 2196.1,287.6 2198.1,287.6 2198.1,285 2203.1,285 2203.1,282.3 2206.1,282.3 2206.1,281.3 2210.1,281.3 2210.1,294.4 2213.1,294.4 2213.1,293.5 2216.1,293.5 2216.1,298.6 2219.1,298.6 2219.1,296.3 2221.1,296.3 2221.1,288.5 2223.1,288.5 2223.1,306.3 2226.1,306.3 2226.1,304.8 2230.1,304.8 2230.1,310.8 2232.1,310.8 2232.1,307.7 2236.1,307.7 2236.1,312.2 2239.1,312.2 2239.1,314.5 2244.1,314.5 2244.1,308.6 2247.1,308.6 2247.1,309.3 2250.1,309.3 2250.1,296.7 2252.1,296.7 2252.1,299.7 2256.1,299.7 2256.1,291.2 2258.1,291.2 2258.1,299.2 2262.1,299.2 2262.1,282 2266.1,282 2266.1,302.5 2269.1,302.5 2269.1,297.9 2271.1,297.9 2271.1,302.5 2274.1,302.5 2274.1,301.7 2276.1,301.7 2276.1,291.6 2279.1,291.6 2279.1,306.7 2283.1,306.7 2283.1,287.8 2287.1,287.8 2287.1,310.7 2289.1,310.7 2289.1,304.6 2294.1,304.6 2294.1,310.2 2297.1,310.2 2297.1,313.2 2300.1,313.2 2300.1,311.5 2304.1,311.5 2304.1,314.7 2306.1,314.7 2306.1,316.3 2311.1,316.3 2311.1,313.4 2314.1,313.4 2314.1,315.8 2316.1,315.8 2316.1,315.1 2318.1,315.1 2318.1,318.7 2321.1,318.7 2321.1,316.4 2324.1,316.4 2324.1,313.2 2326.1,313.2 2326.1,304.4 2329.1,304.4 2329.1,302.1 2333.1,302.1 2333.1,313.9 2338.1,313.9 2338.1,319.9 2343.1,319.9 2343.1,306.7 2348.1,306.7 2348.1,315.9 2350.1,315.9 2350.1,321.4 2352.1,321.4 2352.1,320.4 2355.1,320.4 2355.1,322.9 2357.1,322.9 2357.1,314.6 2359.1,314.6 2359.1,306.4 2362.1,306.4 2362.1,315.1 2366.1,315.1 2366.1,320.5 2369.1,320.5 2369.1,310.4 2371.1,310.4 2371.1,306.6 2376.1,306.6 2376.1,312.2 2378.1,312.2 2378.1,335.2 2380.1,335.2 2380.1,324.8 2384.1,324.8 2384.1,327 2387.1,327 2387.1,346.1 2389.1,346.1 2389.1,345.9 2392.1,345.9 2392.1,355.1 2396.1,355.1 2396.1,382.5 2400.1,382.5 2400.1,376.4 2404.1,376.4 2404.1,374.3 2406.1,374.3 2406.1,386.6 2408.1,386.6 2408.1,375.4 2413.1,375.4 2413.1,382.1 2418.1,382.1 2418.1,389.2 2420.1,389.2 2420.1,385.9 2422.1,385.9 2422.1,396.4 2426.1,396.4 2426.1,390.7 2428.1,390.7 2428.1,393.2 2432.1,393.2 2432.1,373.9 2435.1,373.9 2435.1,371.5 2438.1,371.5 2438.1,359.7 2442.1,359.7 2442.1,362.9 2445.1,362.9 2445.1,360.8 2447.1,360.8 2447.1,353.6 2449.1,353.6 2449.1,357.9 2454.1,357.9 2454.1,349.4 2459.1,349.4 2459.1,360.3 2461.1,360.3 2461.1,362.4 2464.1,362.4 2464.1,349.7 2467.1,349.7 2467.1,351.8 2470.1,351.8 2470.1,366.9 2475.1,366.9 2475.1,367.9 2478.1,367.9 2478.1,370.5 2481.1,370.5 2481.1,363.9 2486.1,363.9 2486.1,371.3 2489.1,371.3 2489.1,361.1 2492.1,361.1 2492.1,332.7 2494.1,332.7 2494.1,314.9 2496.1,314.9 2496.1,326.7 2499.1,326.7 2499.1,337.1 2501.1,337.1 2501.1,330.9 2504.1,330.9 2504.1,331.3 2507.1,331.3 2507.1,349 2511.1,349 2511.1,367.1 2513.1,367.1 2513.1,382.3 2515.1,382.3 2515.1,386.9 2517.1,386.9 2517.1,397.8 2519.1,397.8 2519.1,401.4 2522.1,401.4 2522.1,415.6 2525.1,415.6 2525.1,422.4 2528.1,422.4 2528.1,419.4 2533.1,419.4 2533.1,417.7 2535.1,417.7 2535.1,418.8 2538.1,418.8 2538.1,387.6 2540.1,387.6 2540.1,375.9 2542.1,375.9 2542.1,368.3 2545.1,368.3 2545.1,342.7 2549.1,342.7 2549.1,336.4 2552.1,336.4 2552.1,326.9 2557.1,326.9 2557.1,331.2 2560.1,331.2 2560.1,333.4 2564.1,333.4 2564.1,333.9 2566.1,333.9 2566.1,339.8 2571.1,339.8 2571.1,332.6 2574.1,332.6 2574.1,339.6 2576.1,339.6 2576.1,323.2 2579.1,323.2 2579.1,335.3 2584.1,335.3 2584.1,335.8 2589.1,335.8 2589.1,331.3 2594.1,331.3 2594.1,331.5 2596.1,331.5 2596.1,325.4 2599.1,325.4 2599.1,324.8 2603.1,324.8 2603.1,315.5 2606.1,315.5 2606.1,304.7 2609.1,304.7 2609.1,310.4 2613.1,310.4 2613.1,302.9 2615.1,302.9 2615.1,288.8 2617.1,288.8 2617.1,300.6 2619.1,300.6 2619.1,303 2621.1,303 2621.1,295.8 2623.1,295.8 2623.1,295 2627.1,295 2627.1,295 2630.1,295 2630.1,284 2635.1,284 2635.1,290 2640.1,290 2640.1,312.2 2645.1,312.2 2645.1,318.4 2649.1,318.4 2649.1,321.7 2651.1,321.7 2651.1,322.3 2656.1,322.3 2656.1,324.4 2658.1,324.4 2658.1,318.9 2663.1,318.9 2663.1,325.4 2666.1,325.4 2666.1,327.1 2671.1,327.1 2671.1,334.3 2674.1,334.3 2674.1,328.9 2679.1,328.9 2679.1,356 2681.1,356 2681.1,353.4 2686.1,353.4 2686.1,367 2689.1,367 2689.1,349.3 2691.1,349.3 2691.1,367.4 2694.1,367.4 2694.1,359.4 2699.1,359.4 2699.1,351.9 2704.1,351.9 2704.1,336.9 2706.1,336.9 2706.1,341 2711.1,341 2711.1,329.1 2713.1,329.1 2713.1,325.9 2718.1,325.9 2718.1,312.1 2721.1,312.1 2721.1,320.8 2724.1,320.8 2724.1,320.8 2728.1,320.8 2728.1,289.4 2731.1,289.4 2731.1,284.7 2735.1,284.7 2735.1,292.2 2738.1,292.2 2738.1,305.9 2740.1,305.9 2740.1,297.5 2745.1,297.5 2745.1,317.2 2747.1,317.2 2747.1,321.6 2750.1,321.6 2750.1,332.7 2752.1,332.7 2752.1,345.1 2755.1,345.1 2755.1,340.8 2758.1,340.8 2758.1,346.4 2763.1,346.4 2763.1,342.8 2766.1,342.8 2766.1,349.7 2769.1,349.7 2769.1,367.1 2771.1,367.1 2771.1,366.5 2773.1,366.5 2773.1,371.3 2776.1,371.3 2776.1,369.1 2780.1,369.1 2780.1,369 2783.1,369 2783.1,387.2 2785.1,387.2 2785.1,382.6 2787.1,382.6 2787.1,365.7 2791.1,365.7 2791.1,356 2794.1,356 2794.1,338.7 2799.1,338.7 2799.1,338.8 2803.1,338.8 2803.1,330 2805.1,330 2805.1,329.9 2809.1,329.9 2809.1,341.6 2812.1,341.6 2812.1,355 2816.1,355 2816.1,345.6 2819.1,345.6 2819.1,360.8 2824.1,360.8 2824.1,362.7 2829.1,362.7 2829.1,362.1 2834.1,362.1 2834.1,388.2 2836.1,388.2 2836.1,383.3 2839.1,383.3 2839.1,403.4 2842.1,403.4 2842.1,413.9 2844.1,413.9 2844.1,419.2 2846.1,419.2 2846.1,426.5 2848.1,426.5 2848.1,435.8 2850.1,435.8 2850.1,434.9 2853.1,434.9 2853.1,444.3 2855.1,444.3 2855.1,444.7 2857.1,444.7 2857.1,450.3 2860.1,450.3 2860.1,441.7 2865.1,441.7 2865.1,464.5 2867.1,464.5 2867.1,466.9 2870.1,466.9 2870.1,468.9 2873.1,468.9 2873.1,468.3 2875.1,468.3 2875.1,334.9 2878.1,334.9 2878.1,352.3 2880.1,352.3 2880.1,369.8 2884.1,369.8 2884.1,393.4 2886.1,393.4 2886.1,387.3 2888.1,387.3 2888.1,390 2893.1,390 2893.1,388.8 2896.1,388.8 2896.1,368.6 2898.1,368.6 2898.1,376.8 2900.1,376.8 2900.1,374.3 2902.1,374.3 2902.1,373.1 2905.1,373.1 2905.1,362.7 2907.1,362.7 2907.1,368 2909.1,368 2909.1,356.9 2913.1,356.9 2913.1,349.3 2916.1,349.3 2916.1,366.2 2918.1,366.2 2918.1,368.1 2920.1,368.1 2920.1,359.9 2925.1,359.9 2925.1,375.3 2928.1,375.3 2928.1,378.4 2930.1,378.4 2930.1,383.4 2933.1,383.4 2933.1,374.8 2936.1,374.8 2936.1,379.4 2939.1,379.4 2939.1,366.4 2944.1,366.4 2944.1,372.3 2947.1,372.3 2947.1,371.7 2949.1,371.7 2949.1,365 2952.1,365 2952.1,358.7 2956.1,358.7 2956.1,361.6 2959.1,361.6 2959.1,363.3 2963.1,363.3 2963.1,356.2 2965.1,356.2 2965.1,354.5 2968.1,354.5 2968.1,362.4 2971.1,362.4 2971.1,374.4 2974.1,374.4 2974.1,373.7 2976.1,373.7 2976.1,371.6 2980.1,371.6 2980.1,367.2 2985.1,367.2 2985.1,375.1 2988.1,375.1 2988.1,375.7 2990.1,375.7 2990.1,379.2 2992.1,379.2 2992.1,380.1 2995.1,380.1 2995.1,387 2998.1,387 2998.1,367 3000.1,367 3000.1,385.2 3002.1,385.2 3002.1,382.2 3005.1,382.2 3005.1,364.9 3010.1,364.9 3010.1,366.7 3012.1,366.7 3012.1,375.7 3014.1,375.7 3014.1,374.1 3018.1,374.1 3018.1,368 3022.1,368 3022.1,350.6 3027.1,350.6 3027.1,366.3 3029.1,366.3 3029.1,365.8 3034.1,365.8 3034.1,364.1 3036.1,364.1 3036.1,356 3039.1,356 3039.1,369.2 3042.1,369.2 3042.1,374.1 3044.1,374.1 3044.1,370 3049.1,370 3049.1,381.9 3051.1,381.9 3051.1,377.4 3054.1,377.4 3054.1,388.7 3058.1,388.7 3058.1,367.7 3060.1,367.7 3060.1,363.4 3062.1,363.4 3062.1,366.5 3064.1,366.5 3064.1,361 3066.1,361 3066.1,358.9 3068.1,358.9 3068.1,366.5 3071.1,366.5 3071.1,353.5 3074.1,353.5 3074.1,361 3079.1,361 3079.1,361.5 3081.1,361.5 3081.1,356.6 3084.1,356.6 3084.1,355.6 3089.1,355.6 3089.1,357.4 3091.1,357.4 3091.1,344.3 3095.1,344.3 3095.1,329.4 3098.1,329.4 3098.1,326.9 3100.1,326.9 3100.1,320.4 3103.1,320.4 3103.1,315.6 3106.1,315.6 3106.1,311.9 3109.1,311.9 3109.1,306.6 3112.1,306.6 3112.1,303.4 3116.1,303.4 3116.1,305.7 3118.1,305.7 3118.1,311.4 3121.1,311.4 3121.1,307.5 3126.1,307.5 3126.1,303.6 3130.1,303.6 3130.1,311.3 3132.1,311.3 3132.1,316.4 3134.1,316.4 3134.1,314.5 3139.1,314.5 3139.1,323.2 3141.1,323.2 3141.1,327.8 3144.1,327.8 3144.1,325.3 3146.1,325.3 3146.1,326.1 3149.1,326.1 3149.1,335.2 3152.1,335.2 3152.1,340.4 3156.1,340.4 3156.1,339.9 3161.1,339.9 3161.1,357.1 3166.1,357.1 3166.1,357.3 3169.1,357.3 3169.1,350.8 3172.1,350.8 3172.1,352.6 3175.1,352.6 3175.1,342.8 3178.1,342.8 3178.1,338 3180.1,338 3180.1,352.6 3183.1,352.6 3183.1,352.1 3185.1,352.1 3185.1,357.2 3187.1,357.2 3187.1,373.8 3189.1,373.8 3189.1,382.6 3194.1,382.6 3194.1,398 3197.1,398 3197.1,407.2 3199.1,407.2 3199.1,409.8 3201.1,409.8 3201.1,432.8 3203.1,432.8 3203.1,430.2 3205.1,430.2 3205.1,431.4 3207.1,431.4 3207.1,431.3 3209.1,431.3 3209.1,433.2 3213.1,433.2 3213.1,429 3216.1,429 3216.1,397.6 3219.1,397.6 3219.1,392.4 3222.1,392.4 3222.1,382.8 3227.1,382.8 3227.1,379.8 3231.1,379.8 3231.1,380.9 3236.1,380.9 3236.1,377.7 3240.1,377.7 3240.1,392.1 3243.1,392.1 3243.1,391.3 3245.1,391.3 3245.1,405 3248.1,405 3248.1,406.8 3250.1,406.8 3250.1,409.7 3252.1,409.7 3252.1,415.2 3255.1,415.2 3255.1,413.3 3258.1,413.3 3258.1,405.9 3261.1,405.9 3261.1,405.3 3265.1,405.3 3265.1,363.2 3270.1,363.2 3270.1,351.4 3273.1,351.4 3273.1,366.4 3275.1,366.4 3275.1,369.3 3280.1,369.3 3280.1,362.9 3282.1,362.9 3282.1,367.5 3284.1,367.5 3284.1,349.7 3287.1,349.7 3287.1,371.8 3289.1,371.8 3289.1,366.9 3291.1,366.9 3291.1,357.1 3294.1,357.1 3294.1,350.9 3297.1,350.9 3297.1,365.7 3300.1,365.7 3300.1,369.8 3302.1,369.8 3302.1,367.7 3304.1,367.7 3304.1,367.3 3306.1,367.3 3306.1,372.4 3309.1,372.4 3309.1,370.8 3311.1,370.8 3311.1,366.1 3315.1,366.1 3315.1,354.2 3318.1,354.2 3318.1,369.5 3320.1,369.5 3320.1,373.4 3323.1,373.4 3323.1,368.5 3326.1,368.5 3326.1,370.2 3329.1,370.2 3329.1,369.9 3331.1,369.9 3331.1,356 3333.1,356 3333.1,372.9 3336.1,372.9 3336.1,372.2 3340.1,372.2 3340.1,371 3345.1,371 3345.1,362.8 3347.1,362.8 3347.1,372 3350.1,372 3350.1,369.8 3352.1,369.8 3352.1,367.6 3354.1,367.6 3354.1,351.4 3357.1,351.4 3357.1,348.8 3361.1,348.8 3361.1,327.1 3365.1,327.1 3365.1,328.7 3368.1,328.7 3368.1,332.1 3370.1,332.1 3370.1,335.6 3372.1,335.6 3372.1,336.3 3375.1,336.3 3375.1,335.3 3377.1,335.3 3377.1,329.5 3380.1,329.5 3380.1,334.1 3384.1,334.1 3384.1,334 3386.1,334 3386.1,331.6 3388.1,331.6 3388.1,332.5 3390.1,332.5 3390.1,325.4 3392.1,325.4 3392.1,317.6 3394.1,317.6 3394.1,309.6 3398.1,309.6 3398.1,310 3401.1,310 3401.1,307.8 3404.1,307.8 3404.1,303.9 3409.1,303.9 3409.1,299 3411.1,299 3411.1,294.8 3414.1,294.8 3414.1,284.8 3416.1,284.8 3416.1,287 3418.1,287 3418.1,287.8 3423.1,287.8 3423.1,289.9 3426.1,289.9 3426.1,288 3430.1,288 3430.1,289 3434.1,289 3434.1,287.8 3436.1,287.8 3436.1,284.8 3438.1,284.8 3438.1,289 3443.1,289 3443.1,286.1 3446.1,286.1 3446.1,285.1 3450.1,285.1 3450.1,282.8 3455.1,282.8 3455.1,289.2 3459.1,289.2 3459.1,290.1 3464.1,290.1 3464.1,286.1 3469.1,286.1 3469.1,281 3471.1,281 3471.1,286 3475.1,286 3475.1,280 3477.1,280 3477.1,276.5 3479.1,276.5 3479.1,280.3 3481.1,280.3 3481.1,277.5 3486.1,277.5 3486.1,278.7 3491.1,278.7 3491.1,271.9 3494.1,271.9 3494.1,270.7 3498.1,270.7 3498.1,273.8 3503.1,273.8 3503.1,274.8 3505.1,274.8 3505.1,274.7 3510.1,274.7 3510.1,272.7 3515.1,272.7 3515.1,278.2 3517.1,278.2 3517.1,278.2 3520.1,278.2 3520.1,278.8 3522.1,278.8 3522.1,280.1 3524.1,280.1 3524.1,277 3527.1,277 3527.1,277.5 3530.1,277.5 3530.1,277.4 3532.1,277.4 3532.1,275.6 3536.1,275.6 3536.1,276.2 3541.1,276.2 3541.1,273.9 3546.1,273.9 3546.1,277.9 3549.1,277.9 3549.1,278.6 3551.1,278.6 3551.1,282.6 3553.1,282.6 3553.1,277.7 3556.1,277.7 3556.1,283.5 3559.1,283.5 3559.1,285.3 3563.1,285.3 3563.1,288.5 3566.1,288.5 3566.1,288.5 3568.1,288.5 3568.1,288.5 3573.1,288.5 3573.1,290.5 3578.1,290.5 3578.1,291.7 3581.1,291.7 3581.1,295.1 3584.1,295.1 3584.1,295.9 3587.1,295.9 3587.1,295 3589.1,295 3589.1,298.4 3593.1,298.4 3593.1,298.4 3598.1,298.4 3598.1,297.4 3602.1,297.4 3602.1,304.6 3606.1,304.6 3606.1,307.6 3609.1,307.6 3609.1,312.1 3612.1,312.1 3612.1,314.7 3614.1,314.7 3614.1,318 3617.1,318 3617.1,318.1 3620.1,318.1 3620.1,322.9 3624.1,322.9 3624.1,324 3629.1,324 3629.1,334 3634.1,334 3634.1,338.8 3637.1,338.8 3640,338.8 3640,611.4 3635.9,611.4 3631.9,611.4 3631.9,594.6 3629.9,594.6 3629.9,590.7 3626.9,590.7 3626.9,587 3623.9,587 3623.9,585.6 3620.9,585.6 3620.9,581.9 3616.9,581.9 3616.9,582.1 3614.9,582.1 3614.9,579.9 3612.9,579.9 3612.9,575.7 3610.9,575.7 3610.9,570.2 3608.9,570.2 3608.9,566 3605.9,566 3605.9,568.8 3603.9,568.8 3603.9,567.8 3601.9,567.8 3601.9,569.6 3599.9,569.6 3599.9,566.2 3596.9,566.2 3596.9,569 3594.9,569 3594.9,567.2 3592.9,567.2 3592.9,567.9 3590.9,567.9 3590.9,571.6 3588.9,571.6 3588.9,568.8 3584.9,568.8 3584.9,568 3582.9,568 3582.9,571.8 3580.9,571.8 3580.9,569.1 3578.9,569.1 3578.9,566.1 3574.9,566.1 3574.9,567.3 3572.9,567.3 3572.9,566.9 3570.9,566.9 3570.9,603.9 3567.9,603.9 3567.9,570.3 3565.9,570.3 3565.9,572.7 3563.9,572.7 3563.9,569.7 3560.9,569.7 3560.9,562.7 3558.9,562.7 3558.9,568.6 3554.9,568.6 3554.9,557.4 3550.9,557.4 3550.9,565.5 3548.9,565.5 3548.9,561.7 3544.9,561.7 3544.9,566.5 3542.9,566.5 3542.9,561.8 3538.9,561.8 3538.9,559.3 3536.9,559.3 3536.9,567.3 3533.9,567.3 3533.9,576.1 3531.9,576.1 3531.9,571.3 3528.9,571.3 3528.9,575.1 3526.9,575.1 3526.9,569.8 3522.9,569.8 3522.9,571.2 3519.9,571.2 3519.9,561 3517.9,561 3517.9,559 3515.9,559 3515.9,559.9 3512.9,559.9 3512.9,566.4 3508.9,566.4 3508.9,560 3506.9,560 3506.9,559.6 3504.9,559.6 3504.9,560.1 3502.9,560.1 3502.9,559.1 3500.9,559.1 3500.9,559.8 3498.9,559.8 3498.9,563.7 3495.9,563.7 3495.9,562 3493.9,562 3493.9,566.6 3491.9,566.6 3491.9,587.8 3489.9,587.8 3489.9,570.1 3486.9,570.1 3486.9,575.6 3482.9,575.6 3482.9,580 3479.9,580 3479.9,583.5 3475.9,583.5 3475.9,581.7 3473.9,581.7 3473.9,575.1 3470.9,575.1 3470.9,573.8 3467.9,573.8 3467.9,573.8 3463.9,573.8 3463.9,566.9 3459.9,566.9 3459.9,568.7 3457.9,568.7 3457.9,567.5 3454.9,567.5 3454.9,570.8 3452.9,570.8 3452.9,568.7 3450.9,568.7 3450.9,572.8 3448.9,572.8 3448.9,578.3 3446.9,578.3 3446.9,574.7 3444.9,574.7 3444.9,567.7 3442.9,567.7 3442.9,568 3439.9,568 3439.9,566 3436.9,566 3436.9,565.2 3434.9,565.2 3434.9,558.2 3431.9,558.2 3431.9,556.9 3429.9,556.9 3429.9,558.2 3427.9,558.2 3427.9,563.6 3424.9,563.6 3424.9,560.6 3421.9,560.6 3421.9,559.9 3419.9,559.9 3419.9,564.4 3416.9,564.4 3416.9,563.5 3412.9,563.5 3412.9,567.7 3409.9,567.7 3409.9,559.9 3405.9,559.9 3405.9,556.5 3402.9,556.5 3402.9,550.5 3398.9,550.5 3398.9,548 3396.9,548 3396.9,556 3394.9,556 3394.9,545.5 3392.9,545.5 3392.9,545.1 3390.9,545.1 3390.9,546.1 3387.9,546.1 3387.9,548.6 3385.9,548.6 3385.9,564.2 3381.9,564.2 3381.9,550.1 3377.9,550.1 3377.9,551.5 3375.9,551.5 3375.9,550.7 3373.9,550.7 3373.9,551 3371.9,551 3371.9,554.9 3367.9,554.9 3367.9,549.2 3364.9,549.2 3364.9,547.7 3362.9,547.7 3362.9,543.7 3359.9,543.7 3359.9,540.6 3357.9,540.6 3357.9,571.6 3353.9,571.6 3353.9,540.1 3351.9,540.1 3351.9,545 3349.9,545 3349.9,543.3 3347.9,543.3 3347.9,547 3345.9,547 3345.9,547.6 3342.9,547.6 3342.9,544.1 3339.9,544.1 3339.9,547.5 3337.9,547.5 3337.9,545.8 3335.9,545.8 3335.9,542.7 3332.9,542.7 3332.9,544.3 3330.9,544.3 3330.9,543.7 3328.9,543.7 3328.9,543.2 3325.9,543.2 3325.9,541.8 3322.9,541.8 3322.9,562.7 3318.9,562.7 3318.9,536.4 3316.9,536.4 3316.9,537.9 3314.9,537.9 3314.9,536.5 3312.9,536.5 3312.9,536.1 3310.9,536.1 3310.9,543.2 3308.9,543.2 3308.9,539.2 3306.9,539.2 3306.9,539.1 3303.9,539.1 3303.9,537.7 3301.9,537.7 3301.9,540.8 3299.9,540.8 3299.9,531.5 3297.9,531.5 3297.9,531.1 3293.9,531.1 3293.9,528.2 3291.9,528.2 3291.9,527 3288.9,527 3288.9,522.7 3285.9,522.7 3285.9,532.7 3281.9,532.7 3281.9,532.9 3278.9,532.9 3278.9,527.3 3276.9,527.3 3276.9,535.7 3273.9,535.7 3273.9,536.1 3271.9,536.1 3271.9,537.1 3269.9,537.1 3269.9,557.2 3267.9,557.2 3267.9,533 3265.9,533 3265.9,543.9 3262.9,543.9 3262.9,535 3258.9,535 3258.9,535.4 3255.9,535.4 3255.9,543.5 3253.9,543.5 3253.9,545.1 3249.9,545.1 3249.9,548.6 3245.9,548.6 3245.9,551.7 3242.9,551.7 3242.9,545.6 3239.9,545.6 3239.9,547.8 3237.9,547.8 3237.9,546.3 3235.9,546.3 3235.9,544.1 3233.9,544.1 3233.9,539.7 3229.9,539.7 3229.9,535.2 3227.9,535.2 3227.9,528.1 3223.9,528.1 3223.9,529.5 3220.9,529.5 3220.9,524.4 3217.9,524.4 3217.9,522.6 3213.9,522.6 3213.9,525.5 3209.9,525.5 3209.9,523.3 3206.9,523.3 3206.9,522.5 3203.9,522.5 3203.9,527 3201.9,527 3201.9,526 3197.9,526 3197.9,530.7 3193.9,530.7 3193.9,517.8 3191.9,517.8 3191.9,515.2 3189.9,515.2 3189.9,511.2 3186.9,511.2 3186.9,505.6 3182.9,505.6 3182.9,518.3 3179.9,518.3 3179.9,519.2 3177.9,519.2 3177.9,512.8 3175.9,512.8 3175.9,511.5 3171.9,511.5 3171.9,516.5 3168.9,516.5 3168.9,514.9 3165.9,514.9 3165.9,516.5 3163.9,516.5 3163.9,515.4 3160.9,515.4 3160.9,518.5 3158.9,518.5 3158.9,517.7 3155.9,517.7 3155.9,518.4 3151.9,518.4 3151.9,523 3149.9,523 3149.9,517.5 3147.9,517.5 3147.9,519.1 3145.9,519.1 3145.9,515.1 3141.9,515.1 3141.9,511.5 3139.9,511.5 3139.9,509.9 3137.9,509.9 3137.9,508.6 3133.9,508.6 3133.9,508.8 3130.9,508.8 3130.9,516.4 3128.9,516.4 3128.9,515.6 3126.9,515.6 3126.9,535.9 3122.9,535.9 3122.9,508 3120.9,508 3120.9,508.9 3118.9,508.9 3118.9,504.6 3116.9,504.6 3116.9,514.1 3114.9,514.1 3114.9,505.9 3111.9,505.9 3111.9,505.8 3109.9,505.8 3109.9,512.2 3107.9,512.2 3107.9,514.6 3103.9,514.6 3103.9,516.4 3100.9,516.4 3100.9,510.7 3097.9,510.7 3097.9,515.6 3093.9,515.6 3093.9,514.3 3091.9,514.3 3091.9,514.8 3088.9,514.8 3088.9,510.9 3086.9,510.9 3086.9,543.9 3084.9,543.9 3084.9,516.4 3080.9,516.4 3080.9,514.2 3078.9,514.2 3078.9,513.8 3076.9,513.8 3076.9,517.9 3073.9,517.9 3073.9,515.3 3070.9,515.3 3070.9,516 3068.9,516 3068.9,525.4 3066.9,525.4 3066.9,521.7 3063.9,521.7 3063.9,521.3 3061.9,521.3 3061.9,520.5 3057.9,520.5 3057.9,523.2 3055.9,523.2 3055.9,519.2 3051.9,519.2 3051.9,522 3048.9,522 3048.9,523.4 3045.9,523.4 3045.9,554 3043.9,554 3043.9,523.9 3041.9,523.9 3041.9,522.8 3038.9,522.8 3038.9,517.7 3035.9,517.7 3035.9,524.3 3032.9,524.3 3032.9,529.3 3029.9,529.3 3029.9,520.1 3025.9,520.1 3025.9,524.7 3023.9,524.7 3023.9,525.3 3020.9,525.3 3020.9,526.2 3018.9,526.2 3018.9,523.1 3015.9,523.1 3015.9,525.1 3013.9,525.1 3013.9,526.5 3010.9,526.5 3010.9,520.1 3008.9,520.1 3008.9,520 3006.9,520 3006.9,518.8 3002.9,518.8 3002.9,515.5 2999.9,515.5 2999.9,514.4 2997.9,514.4 2997.9,513.2 2995.9,513.2 2995.9,526.1 2991.9,526.1 2991.9,511.5 2988.9,511.5 2988.9,518.5 2984.9,518.5 2984.9,518.7 2981.9,518.7 2981.9,520.3 2978.9,520.3 2978.9,513 2975.9,513 2975.9,515.8 2972.9,515.8 2972.9,511.7 2970.9,511.7 2970.9,513 2968.9,513 2968.9,516.8 2966.9,516.8 2966.9,513.1 2964.9,513.1 2964.9,516 2961.9,516 2961.9,515 2958.9,515 2958.9,516.4 2956.9,516.4 2956.9,517.9 2952.9,517.9 2952.9,519 2950.9,519 2950.9,519.5 2948.9,519.5 2948.9,532.3 2945.9,532.3 2945.9,537.7 2942.9,537.7 2942.9,535.9 2939.9,535.9 2939.9,530.7 2937.9,530.7 2937.9,532.4 2934.9,532.4 2934.9,527.4 2932.9,527.4 2932.9,521 2929.9,521 2929.9,526.1 2927.9,526.1 2927.9,523.7 2925.9,523.7 2925.9,525.1 2922.9,525.1 2922.9,528 2919.9,528 2919.9,532.8 2916.9,532.8 2916.9,534.7 2912.9,534.7 2912.9,538.4 2909.9,538.4 2909.9,544.4 2907.9,544.4 2907.9,549.4 2904.9,549.4 2904.9,559.5 2902.9,559.5 2902.9,550.3 2899.9,550.3 2899.9,568.5 2896.9,568.5 2896.9,532.4 2894.9,532.4 2894.9,532.7 2890.9,532.7 2890.9,539.5 2887.9,539.5 2887.9,531.5 2884.9,531.5 2884.9,534.3 2881.9,534.3 2881.9,533.4 2877.9,533.4 2877.9,539.5 2873.9,539.5 2873.9,531.7 2870.9,531.7 2870.9,528.6 2867.9,528.6 2867.9,534.1 2864.9,534.1 2864.9,527.4 2861.9,527.4 2861.9,527.1 2859.9,527.1 2859.9,522.1 2857.9,522.1 2857.9,541.7 2855.9,541.7 2855.9,525.6 2852.9,525.6 2852.9,526.6 2849.9,526.6 2849.9,525.5 2847.9,525.5 2847.9,524.4 2844.9,524.4 2844.9,524.7 2842.9,524.7 2842.9,524.6 2838.9,524.6 2838.9,529.1 2835.9,529.1 2835.9,522 2831.9,522 2831.9,525.4 2828.9,525.4 2828.9,520.7 2826.9,520.7 2826.9,520 2823.9,520 2823.9,528 2820.9,528 2820.9,527.5 2818.9,527.5 2818.9,527.1 2816.9,527.1 2816.9,528.1 2814.9,528.1 2814.9,529.4 2811.9,529.4 2811.9,529.5 2807.9,529.5 2807.9,557.4 2805.9,557.4 2805.9,535.9 2803.9,535.9 2803.9,540.3 2800.9,540.3 2800.9,541.6 2797.9,541.6 2797.9,552.4 2794.9,552.4 2794.9,564 2792.9,564 2792.9,556.9 2788.9,556.9 2788.9,559.5 2786.9,559.5 2786.9,552 2783.9,552 2783.9,553.8 2780.9,553.8 2780.9,550 2777.9,550 2777.9,544.1 2775.9,544.1 2775.9,546 2773.9,546 2773.9,541.7 2771.9,541.7 2771.9,538.3 2768.9,538.3 2768.9,540.2 2766.9,540.2 2766.9,540.2 2762.9,540.2 2762.9,531.8 2760.9,531.8 2760.9,534.8 2758.9,534.8 2758.9,531.2 2756.9,531.2 2756.9,526.6 2754.9,526.6 2754.9,525.5 2752.9,525.5 2752.9,527 2750.9,527 2750.9,531.1 2747.9,531.1 2747.9,564.7 2743.9,564.7 2743.9,534.6 2741.9,534.6 2741.9,532 2739.9,532 2739.9,569.4 2737.9,569.4 2737.9,566.2 2735.9,566.2 2735.9,533.8 2732.9,533.8 2732.9,529.8 2730.9,529.8 2730.9,532.5 2727.9,532.5 2727.9,535.2 2725.9,535.2 2725.9,530.3 2723.9,530.3 2723.9,522.4 2720.9,522.4 2720.9,551.1 2717.9,551.1 2717.9,529.4 2715.9,529.4 2715.9,529 2713.9,529 2713.9,528.3 2710.9,528.3 2710.9,527 2707.9,527 2707.9,524.5 2705.9,524.5 2705.9,528 2703.9,528 2703.9,527.8 2699.9,527.8 2699.9,520.5 2697.9,520.5 2697.9,522 2693.9,522 2693.9,517.4 2691.9,517.4 2691.9,519.3 2688.9,519.3 2688.9,519.6 2686.9,519.6 2686.9,526.9 2683.9,526.9 2683.9,519.7 2680.9,519.7 2680.9,521.8 2678.9,521.8 2678.9,526.4 2675.9,526.4 2675.9,559.9 2673.9,559.9 2673.9,532.9 2669.9,532.9 2669.9,538.5 2665.9,538.5 2665.9,539.6 2663.9,539.6 2663.9,541.8 2661.9,541.8 2661.9,542.7 2659.9,542.7 2659.9,547.6 2657.9,547.6 2657.9,547.9 2655.9,547.9 2655.9,554.6 2653.9,554.6 2653.9,552.3 2650.9,552.3 2650.9,546.5 2647.9,546.5 2647.9,573.7 2645.9,573.7 2645.9,549.1 2643.9,549.1 2643.9,548 2641.9,548 2641.9,542.2 2638.9,542.2 2638.9,538 2636.9,538 2636.9,534.5 2634.9,534.5 2634.9,531.8 2632.9,531.8 2632.9,527.4 2630.9,527.4 2630.9,532.3 2628.9,532.3 2628.9,531.8 2624.9,531.8 2624.9,537.6 2622.9,537.6 2622.9,529.7 2620.9,529.7 2620.9,535.1 2617.9,535.1 2617.9,537 2615.9,537 2615.9,534 2612.9,534 2612.9,539.5 2610.9,539.5 2610.9,532.4 2606.9,532.4 2606.9,531 2604.9,531 2604.9,530.9 2602.9,530.9 2602.9,527.1 2600.9,527.1 2600.9,518.6 2596.9,518.6 2596.9,517.7 2594.9,517.7 2594.9,512.2 2591.9,512.2 2591.9,516.9 2589.9,516.9 2589.9,512.5 2585.9,512.5 2585.9,512 2583.9,512 2583.9,514.2 2579.9,514.2 2579.9,510.6 2577.9,510.6 2577.9,514 2575.9,514 2575.9,516.4 2573.9,516.4 2573.9,518.1 2570.9,518.1 2570.9,514.1 2568.9,514.1 2568.9,517.1 2566.9,517.1 2566.9,521.9 2564.9,521.9 2564.9,523.4 2561.9,523.4 2561.9,520.1 2559.9,520.1 2559.9,525 2556.9,525 2556.9,520.8 2554.9,520.8 2554.9,523 2551.9,523 2551.9,521.9 2549.9,521.9 2549.9,523 2545.9,523 2545.9,533.5 2542.9,533.5 2542.9,526.6 2540.9,526.6 2540.9,527.5 2538.9,527.5 2538.9,531.9 2534.9,531.9 2534.9,527.9 2532.9,527.9 2532.9,531.2 2529.9,531.2 2529.9,537.5 2527.9,537.5 2527.9,532 2525.9,532 2525.9,533.6 2523.9,533.6 2523.9,535.3 2521.9,535.3 2521.9,531.9 2517.9,531.9 2517.9,522.6 2514.9,522.6 2514.9,518.1 2510.9,518.1 2510.9,516.9 2507.9,516.9 2507.9,517.6 2505.9,517.6 2505.9,522.6 2502.9,522.6 2502.9,512.2 2499.9,512.2 2499.9,512.1 2497.9,512.1 2497.9,510.9 2495.9,510.9 2495.9,511.9 2492.9,511.9 2492.9,514.2 2489.9,514.2 2489.9,516.1 2487.9,516.1 2487.9,515.3 2485.9,515.3 2485.9,516.8 2483.9,516.8 2483.9,519.6 2480.9,519.6 2480.9,519.3 2477.9,519.3 2477.9,524.5 2474.9,524.5 2474.9,526.6 2471.9,526.6 2471.9,525.1 2468.9,525.1 2468.9,535.4 2466.9,535.4 2466.9,529.8 2464.9,529.8 2464.9,536.4 2461.9,536.4 2461.9,536.3 2458.9,536.3 2458.9,537.1 2456.9,537.1 2456.9,538.6 2453.9,538.6 2453.9,551 2449.9,551 2449.9,537.7 2447.9,537.7 2447.9,543.8 2445.9,543.8 2445.9,542.7 2442.9,542.7 2442.9,544.4 2440.9,544.4 2440.9,546 2436.9,546 2436.9,546.8 2434.9,546.8 2434.9,573.2 2432.9,573.2 2432.9,546.4 2429.9,546.4 2429.9,550.6 2427.9,550.6 2427.9,538.2 2423.9,538.2 2423.9,543.2 2421.9,543.2 2421.9,536.6 2418.9,536.6 2418.9,536.4 2415.9,536.4 2415.9,532.5 2411.9,532.5 2411.9,529.3 2409.9,529.3 2409.9,524.6 2405.9,524.6 2405.9,522.9 2403.9,522.9 2403.9,521.3 2401.9,521.3 2401.9,520.3 2399.9,520.3 2399.9,515.7 2397.9,515.7 2397.9,514.4 2395.9,514.4 2395.9,517 2393.9,517 2393.9,515.1 2391.9,515.1 2391.9,512.6 2389.9,512.6 2389.9,540.1 2385.9,540.1 2385.9,514.5 2383.9,514.5 2383.9,518.9 2379.9,518.9 2379.9,513.6 2376.9,513.6 2376.9,513.8 2373.9,513.8 2373.9,519.8 2370.9,519.8 2370.9,516.7 2368.9,516.7 2368.9,512.3 2365.9,512.3 2365.9,509.8 2361.9,509.8 2361.9,520.1 2359.9,520.1 2359.9,510.9 2357.9,510.9 2357.9,512.7 2355.9,512.7 2355.9,513.7 2353.9,513.7 2353.9,510.5 2350.9,510.5 2350.9,514.6 2348.9,514.6 2348.9,509.6 2345.9,509.6 2345.9,511.5 2343.9,511.5 2343.9,507.2 2340.9,507.2 2340.9,507.8 2336.9,507.8 2336.9,531.3 2332.9,531.3 2332.9,501.9 2330.9,501.9 2330.9,504.2 2328.9,504.2 2328.9,526.9 2324.9,526.9 2324.9,505.4 2320.9,505.4 2320.9,504 2318.9,504 2318.9,501 2315.9,501 2315.9,501.6 2311.9,501.6 2311.9,497.3 2309.9,497.3 2309.9,501.1 2306.9,501.1 2306.9,493.9 2303.9,493.9 2303.9,494.3 2300.9,494.3 2300.9,491 2298.9,491 2298.9,488.9 2296.9,488.9 2296.9,492 2293.9,492 2293.9,486.9 2289.9,486.9 2289.9,488.3 2285.9,488.3 2285.9,488.9 2281.9,488.9 2281.9,484.5 2277.9,484.5 2277.9,483.7 2274.9,483.7 2274.9,483 2271.9,483 2271.9,481.9 2269.9,481.9 2269.9,486.1 2267.9,486.1 2267.9,480.2 2265.9,480.2 2265.9,479.6 2263.9,479.6 2263.9,484.8 2261.9,484.8 2261.9,478.6 2258.9,478.6 2258.9,476.3 2256.9,476.3 2256.9,482.5 2253.9,482.5 2253.9,481.8 2249.9,481.8 2249.9,482.5 2245.9,482.5 2245.9,483.7 2242.9,483.7 2242.9,484.7 2240.9,484.7 2240.9,483.5 2237.9,483.5 2237.9,479.8 2234.9,479.8 2234.9,481.1 2231.9,481.1 2231.9,481 2229.9,481 2229.9,479.7 2226.9,479.7 2226.9,481.1 2224.9,481.1 2224.9,480.5 2221.9,480.5 2221.9,480.2 2219.9,480.2 2219.9,475.3 2215.9,475.3 2215.9,477.6 2212.9,477.6 2212.9,497.3 2209.9,497.3 2209.9,475.2 2207.9,475.2 2207.9,474.8 2205.9,474.8 2205.9,476.7 2201.9,476.7 2201.9,478.8 2198.9,478.8 2198.9,470.9 2195.9,470.9 2195.9,471.3 2193.9,471.3 2193.9,467.4 2190.9,467.4 2190.9,465.6 2187.9,465.6 2187.9,470 2185.9,470 2185.9,490.6 2183.9,490.6 2183.9,465.8 2181.9,465.8 2181.9,464.1 2179.9,464.1 2179.9,465.4 2177.9,465.4 2177.9,460.5 2174.9,460.5 2174.9,460.8 2171.9,460.8 2171.9,466.3 2167.9,466.3 2167.9,463.5 2164.9,463.5 2164.9,462.3 2162.9,462.3 2162.9,461.2 2160.9,461.2 2160.9,465 2156.9,465 2156.9,464.9 2152.9,464.9 2152.9,467.5 2149.9,467.5 2149.9,476.2 2145.9,476.2 2145.9,471.6 2141.9,471.6 2141.9,470.8 2139.9,470.8 2139.9,476.8 2135.9,476.8 2135.9,498.9 2132.9,498.9 2132.9,481.3 2129.9,481.3 2129.9,477.1 2127.9,477.1 2127.9,481.6 2124.9,481.6 2124.9,481.3 2122.9,481.3 2122.9,467 2118.9,467 2118.9,459.1 2114.9,459.1 2114.9,456.1 2112.9,456.1Z" fill="#00ffff"/>
<path clip-path="url(#cc)" d="M2598,370.1v52h1v-52zM2546.4,492.8v8h4v-8zM3346.2,439v28h1v-28zM2672.3,468.7v32h1v-32zM3088.3,480.1v20h2v-20zM2114.6,374.6v20h3v-20zM2218.6,448.7v12h4v-12zM3257.8,492.4v8h2v-8zM2945.9,496.6v16h3v-16zM3440.2,354.9v12h1v-12zM2522.2,446.1v32h3v-32zM3420.1,458.2v20h1v-20zM3332.6,521.4v12h1v-12zM2925.1,425.4v52h4v-52zM3186.5,464v28h2v-28zM2724,475.9v20h1v-20zM2766.6,486.1v8h1v-8zM3137.4,389.6v28h1v-28zM2255,325.3v12h1v-12zM3112.7,379v12h1v-12zM3325.3,490.2v28h1v-28zM2547.4,472.4v12h1v-12zM3219.3,464.1v8h1v-8zM3110.6,365.7v20h1v-20zM2997.5,483.2v20h1v-20zM3280.1,496.6v8h2v-8zM2480.2,484v16h1v-16zM2348,413.9v8h1v-8zM2990.3,443.4v16h3v-16zM2642.4,425.5v16h2v-16zM3547.2,404.7v8h1v-8zM2279.9,409.6v12h2v-12zM2535.7,481.5v16h1v-16zM2922,423.2v12h1v-12zM2182.5,431.8v20h1v-20zM2363.3,487.4v8h3v-8zM2896.3,442v12h1v-12zM2434.5,431.1v8h1v-8zM2618.4,334.9v20h1v-20zM3143.3,372.6v16h1v-16zM3189.1,392.2v16h2v-16zM3255,500.1v8h2v-8zM2498.6,460.3v26h1v-26zM3379.5,511.5v16h2v-16zM3249.7,499.6v12h1v-12zM2469,468.7v20h4v-20zM3534.4,538.5v16h2v-16zM3369.2,435.8v28h1v-28zM3489.7,434.4v8h2v-8zM3561.7,534.5v20h1v-20zM2324.1,431.2v12h2v-12zM2640.3,496.6v40h2v-40zM3569,460.3v8h1v-8zM3613.2,517.6v20h1v-20zM2865.6,491v8h1v-8zM3511,447.6v12h1v-12zM2547.5,441.6v40h3v-40zM3337.1,497.1v16h1v-16zM2633.7,356.7v8h1v-8zM3294.4,440.9v12h2v-12zM3523,482v8h1v-8zM2523.3,456.7v40h2v-40zM2286.1,406v8h1v-8zM3173,403.8v28h1v-28zM2355,369.1v12h3v-12zM3545.3,499v16h1v-16zM3429.5,493.3v12h1v-12zM2427.5,487.6v40h1v-40zM3409.4,492.2v12h1v-12zM2332.3,447.6v20h1v-20zM3481.5,507.7v28h2v-28zM3477.6,510.8v8h1v-8zM2652.9,468.3v12h2v-12zM2313.3,387.3v8h4v-8zM3015.5,373.5v16h1v-16zM2915.7,413.9v20h2v-20zM3343,469.5v28h1v-28zM2512,433.6v26h1v-26zM2715,427.8v40h1v-40zM2984.7,424.9v52h1v-52zM2391.9,426.2v26h1v-26zM3427.3,494v16h2v-16zM3623.9,437.6v8h2v-8zM3336.5,463.7v16h1v-16zM3295,458v12h2v-12zM3406.4,464.9v8h1v-8zM2413.5,481.1v12h2v-12zM2960.1,443.2v20h1v-20zM3163.7,438.7v20h2v-20zM2196.4,348.8v20h1v-20zM3311.2,512.6v8h1v-8zM2954.9,450.5v40h2v-40zM2819.2,451.6v12h1v-12zM3340.5,414.3v8h2v-8zM3045.4,449.2v20h2v-20zM2521.1,451.8v26h1v-26zM2985.7,428.6v20h1v-20zM2166.9,416.7v20h3v-20zM3386.8,499.4v8h2v-8zM2488.3,414.5v32h1v-32zM2245.6,381.1v52h2v-52zM2483.9,445.2v8h2v-8zM3321.3,468.6v20h1v-20zM3063.7,434.2v8h2v-8zM3099,437.4v16h1v-16zM2773.2,491.2v26h3v-26zM3238.1,419.1v8h1v-8zM2273.5,400.3v26h4v-26zM2253.8,357.6v40h1v-40zM2377.6,369.4v12h1v-12zM3102.5,439.4v16h1v-16zM3233,452.3v16h1v-16zM2193.3,336.5v26h2v-26zM2467.5,439.3v8h1v-8zM2186,389.7v32h1v-32zM2833.7,441.4v52h1v-52zM2796.3,419.5v20h2v-20zM3096.6,477.3v8h1v-8zM2201.2,357.5v52h1v-52zM2801.8,387.2v32h1v-32zM2627.4,467.3v8h2v-8zM2466.5,502.8v16h2v-16zM2830.2,453v40h1v-40zM3359.4,503v20h1v-20zM2208.4,435.8v16h1v-16zM2913.7,509.4v12h4v-12zM3111.5,437.4v16h2v-16zM2976.6,400.8v26h1v-26zM3329,366v20h1v-20zM3307.6,414.9v28h1v-28zM3182.7,430v20h1v-20zM2922.1,484.1v26h1v-26zM2366.2,466.3v8h1v-8zM2507.5,471.1v20h1v-20zM2636.3,378.6v52h2v-52zM3389.4,440.1v20h1v-20zM2244.8,419v20h4v-20zM3316.2,425.7v8h1v-8zM2396.2,467.1v12h4v-12zM2497.4,415.4v32h1v-32zM2447.8,497.7v26h3v-26zM2369.4,450.6v20h4v-20zM2592.7,470.8v32h4v-32zM2889.3,444.9v52h3v-52zM2671.3,433.1v32h1v-32zM2800.5,470.5v26h1v-26zM3608,551.4v8h2v-8zM3172,463.5v28h1v-28zM3275.7,446.8v20h1v-20zM3266.2,450.9v8h2v-8zM3433.2,452.7v12h2v-12zM3600.5,485.6v12h1v-12zM2563.5,446.8v40h3v-40zM3349.6,428.5v12h1v-12zM2468.6,490.8v8h2v-8zM2365.4,398.6v16h1v-16zM2654.7,349.4v12h2v-12zM2139.3,391.9v12h4v-12zM2405,446.1v40h2v-40zM2262.7,417.4v12h4v-12zM2382.5,394.5v32h1v-32zM3244.8,523v12h2v-12zM2685,466.1v40h1v-40zM3624.1,488.7v8h2v-8zM3127.4,356.2v8h2v-8zM3533.4,463.8v20h1v-20zM2309.4,445.1v26h1v-26zM2888.8,467.4v12h1v-12zM2752.3,431.4v52h1v-52zM2348.9,377.7v12h1v-12zM2585.4,437.5v16h3v-16zM2824.6,408.1v16h1v-16zM2640.7,427v12h3v-12zM3228.2,439v28h2v-28zM3405.7,502v16h2v-16zM2340.5,454.3v8h1v-8zM3141.9,412.4v28h1v-28zM2948.3,470.8v26h1v-26zM3037.1,467.1v8h2v-8zM2542.6,441.9v40h1v-40zM2422.3,504.4v16h1v-16zM3441.7,513.2v12h1v-12zM2403.5,441.5v20h2v-20zM3417.2,408.7v8h2v-8zM3184.9,395.8v20h1v-20zM2914.9,489v8h4v-8zM3118.6,393.1v12h2v-12zM3264.4,423.4v20h2v-20zM3563.3,535.9v12h1v-12zM3534.6,315.8v28h1v-28zM2779,503.6v26h1v-26zM2416.1,461.3v40h2v-40zM3427.3,422v16h1v-16zM2678.7,413v8h4v-8zM2233.5,459.2v8h1v-8zM2820.9,476.9v26h2v-26zM2444,426.1v8h1v-8zM3631.9,442.6v12h2v-12zM2456.6,451.9v20h2v-20zM3151.1,451.7v20h2v-20zM3005.9,408.4v12h1v-12zM3284.2,429.5v16h2v-16zM3074.5,453.7v16h1v-16zM2550.5,479.2v12h3v-12zM2950.2,414.4v12h1v-12zM2120.1,373.3v16h1v-16zM3172.3,432.9v8h1v-8zM2349.9,362.6v12h1v-12zM3252.8,507.6v12h1v-12zM2609.7,342.9v12h3v-12zM3002.3,455.9v16h1v-16zM2173.4,395.5v20h3v-20zM3129.2,418v8h2v-8zM3178.4,467.3v16h2v-16zM3627.6,442.6v20h2v-20zM3158.1,436.5v12h2v-12zM3535.4,517.8v20h2v-20zM2295.3,440.9v16h1v-16zM3168.9,424v12h2v-12zM2240.6,439.4v20h1v-20zM2165,370.3v26h2v-26zM3251.1,488.9v20h1v-20zM2743.7,469.1v16h1v-16zM3375.7,344v20h1v-20zM3190.1,455.8v12h1v-12zM3611.4,445.6v28h1v-28zM2906.6,488.5v26h1v-26zM2825.8,483.4v16h4v-16zM3404.7,529.6v12h1v-12zM2882.7,399v26h4v-26zM2275.3,376.1v16h1v-16zM3407.1,343.2v16h2v-16zM2749.2,411.3v20h3v-20zM2898.8,474.5v26h2v-26zM3197.4,474.9v12h2v-12zM3020.7,403.9v16h1v-16zM3266.2,501v8h1v-8zM2360.1,413.9v52h1v-52zM3612.8,499.9v16h1v-16zM3118.2,451.6v12h1v-12zM3314.2,458.8v16h1v-16zM3148.7,472v12h2v-12zM2203.7,337.3v16h2v-16zM2921.1,490.3v12h1v-12zM2562.7,383.3v20h4v-20zM2591.5,357v32h4v-32zM3363.7,478.7v28h1v-28zM3177.8,461.7v28h2v-28zM3323.2,431.6v16h1v-16zM2438.8,424.8v20h1v-20zM2665.9,434.4v52h1v-52zM3277.3,495.9v20h1v-20zM3225.4,485.6v20h1v-20zM3511.8,436.8v16h1v-16zM2286.3,370.7v20h2v-20zM3327.6,427.7v16h1v-16zM3133.2,348.5v12h2v-12zM2253.3,435.6v20h1v-20zM2926.5,434.6v52h1v-52zM3101.2,428.8v28h2v-28zM3249.8,504.7v20h2v-20zM2120.4,427v16h1v-16zM2301.3,380.8v20h1v-20zM3109.4,443v28h1v-28zM3017.9,436.2v8h1v-8zM3315.2,434.7v16h1v-16zM2138.7,428.4v32h1v-32zM3078.6,475.8v20h1v-20zM3586.7,428.5v16h1v-16zM2954.8,496.2v8h4v-8zM2328.5,379.7v20h1v-20zM2776,511.6v12h1v-12zM2949.6,470.2v12h1v-12zM3589.2,437.2v28h1v-28zM2979.4,406.6v26h4v-26zM2307.4,427.8v16h1v-16zM3331.2,412.8v20h2v-20zM3153.1,386.6v28h2v-28zM3542.6,512.9v28h1v-28zM2666.3,501.8v16h1v-16zM2339.3,434.5v20h4v-20zM2811.4,424.6v16h1v-16zM3612.1,522.5v28h1v-28zM3540.7,507.7v16h2v-16zM3514,489.5v12h1v-12zM3631.9,477.3v12h1v-12zM2465.5,411.5v52h3v-52zM3092.3,443.4v12h2v-12zM3411.4,521.7v28h1v-28zM2681.8,411.1v40h2v-40zM3573.6,457.3v8h2v-8zM2865.5,495v8h1v-8zM2821.8,482.9v26h1v-26zM2747.5,463v8h4v-8zM2480.4,452.4v40h1v-40zM3270,476.1v20h2v-20zM3504.1,453v28h2v-28zM3588.9,489.4v8h2v-8zM2147.5,415.9v26h1v-26zM3386.8,502.2v12h1v-12zM2368.9,436.3v26h2v-26zM2516.1,467.8v12h1v-12zM3384,488.3v20h1v-20zM2305.6,389.7v8h1v-8zM3544.1,517.7v8h1v-8zM3150.5,466.8v28h2v-28zM2382,446v32h1v-32zM3171.6,464.1v16h1v-16zM2596.5,456.2v52h1v-52zM2242.7,394.3v16h1v-16zM2743.4,397.6v12h1v-12zM2783,414.1v52h2v-52zM3543.8,429.6v20h1v-20zM2258.5,399.4v16h3v-16zM3452.9,534.1v8h2v-8zM3519,483.8v16h1v-16zM2785.5,457.7v52h1v-52zM2490.3,447v8h3v-8zM3326.8,429.3v20h1v-20zM3256.6,482v8h1v-8zM3117.5,454.9v12h1v-12zM2205.8,382.1v52h3v-52zM2976.7,464.5v20h3v-20zM2965.4,411v8h1v-8zM3483.7,431.6v12h1v-12zM3159.2,426.7v16h2v-16zM3105.7,372.5v20h1v-20zM3061.4,422.2v12h2v-12zM2344.9,460.9v32h1v-32zM3105.3,407.4v16h1v-16zM2918.4,480.8v12h2v-12zM3052.1,436.2v16h2v-16zM2563.4,389.9v20h2v-20zM3073.8,460v8h2v-8zM3305.1,473.3v12h2v-12zM2601.3,479.2v26h2v-26zM3274.5,472.8v28h2v-28zM2247.4,380.4v20h1v-20zM2607.4,400.8v20h3v-20zM2626,469.6v26h2v-26zM2376.2,370.8v52h4v-52zM2908.4,508.8v8h2v-8zM3057.6,427v12h1v-12zM3461.1,483v8h1v-8zM2402.9,463.8v16h4v-16zM2294.5,355.3v32h4v-32zM2835.7,494.1v20h2v-20zM2855.3,481.4v20h1v-20zM2330,356.8v32h2v-32zM2562.9,451.6v8h1v-8zM3520,425v28h2v-28zM3237,427.7v16h2v-16zM2301.6,406.8v8h3v-8zM3392.9,492v20h2v-20zM2368.9,462.7v40h1v-40zM3407.8,462v16h1v-16zM2455.6,416.5v8h3v-8zM2242.3,404.2v20h3v-20zM3220.6,423.2v28h1v-28zM3366.9,510.6v16h1v-16zM3096.1,478.5v8h2v-8zM2557.2,441.4v52h1v-52zM2275.3,406.2v16h1v-16zM2695.5,401.4v32h1v-32zM3356.4,494.2v12h2v-12zM3004.6,445.8v16h2v-16zM3398.9,500.8v8h2v-8zM2270.3,390.6v16h2v-16zM2788.5,440.2v20h1v-20zM3151,439v12h2v-12zM3358.2,425v8h1v-8zM2907.5,481.4v40h2v-40zM2206,353.1v20h1v-20zM2945.4,438.6v20h2v-20zM3310,491.4v12h1v-12zM2851.3,477.2v32h4v-32zM2254.9,339.9v32h2v-32zM3037.7,410.2v28h1v-28zM2387,426.4v26h1v-26zM2367.6,365.8v52h1v-52zM3099.4,480.5v16h1v-16zM2552.4,498.6v12h1v-12zM2728,353.9v26h2v-26zM2790.2,459.1v16h1v-16zM2308.3,388.9v20h3v-20zM3312.1,463.1v28h2v-28zM3310.5,475.1v16h1v-16zM2595,422.2v12h1v-12zM3540.3,428.6v8h1v-8zM2671.1,422v16h4v-16zM3348.2,442.4v16h1v-16zM3193.2,474v8h1v-8zM3331,441.5v8h2v-8zM2956.6,385.7v20h1v-20zM2779.5,499.5v8h1v-8zM2116.4,377.6v16h3v-16zM3284,403.3v12h1v-12zM3145.8,400.8v28h1v-28zM2792.6,465.7v32h1v-32zM3591.2,503v16h2v-16zM3095.3,426.6v16h2v-16zM3123.9,369.8v8h1v-8zM2716.8,400.5v8h3v-8zM3135.6,440.2v16h2v-16zM2667.5,472v12h2v-12zM2643,422.1v12h2v-12zM3402.9,528.5v8h2v-8zM2431.5,454.5v26h2v-26zM3264.1,443.7v8h1v-8zM3240.7,508.1v28h1v-28zM3051.9,462.7v28h1v-28zM2925.5,470.1v16h4v-16zM2727.5,493.4v26h3v-26zM3148.6,492.3v12h2v-12zM2505,395.1v12h4v-12zM2215.3,431.1v12h1v-12zM3324,418v8h2v-8zM2212.6,346.3v32h1v-32zM3139.2,416.4v20h2v-20zM3629,499.5v12h1v-12zM3102.4,487v8h1v-8zM2209.2,326v16h4v-16zM3529.1,487.3v28h1v-28zM2600.1,378.1v20h2v-20zM3384.4,499v20h2v-20zM3428.2,442v8h1v-8zM3313.3,498.7v28h1v-28zM3374.5,463.5v16h1v-16zM3033.9,482.4v8h1v-8zM3279.2,434v16h1v-16zM2163.1,361.6v40h1v-40zM2174.9,427v8h1v-8zM2364.5,369.3v52h1v-52zM2435,417.9v26h2v-26zM3227.9,475.9v12h1v-12zM2504.6,408v16h1v-16zM2574.4,456.6v8h1v-8zM2825.1,457.4v52h1v-52zM2870.1,504.4v12h1v-12zM3050.2,473.6v28h1v-28zM3429.2,533.9v8h1v-8zM2499.7,435.7v40h1v-40zM2731.6,417v16h1v-16zM2527.2,495.8v16h1v-16zM2590.8,459v20h1v-20zM3537.4,418.7v28h2v-28zM3268.1,414.4v20h2v-20zM2439.9,479.2v52h3v-52zM2512.4,417.4v40h2v-40zM3427.5,492.5v8h2v-8zM3104.5,366.6v8h2v-8zM2620,439.5v52h1v-52zM2232.2,385.7v16h2v-16zM2593,425.3v8h1v-8zM2416.9,443.1v40h2v-40zM3584.3,444v12h1v-12zM2921.3,473.2v12h2v-12zM3088.3,414.5v12h1v-12zM2844.7,447.7v12h1v-12zM3622.5,481.3v16h1v-16zM2856.5,466.3v12h4v-12zM3013.9,373.4v28h2v-28zM2791.6,420.2v12h1v-12zM3307.6,409.9v20h2v-20zM2246,431.5v40h1v-40zM3448.7,378.9v20h1v-20zM2900.6,405.2v8h1v-8zM2250.6,399.6v52h2v-52zM3014.4,461.2v20h1v-20zM2981.9,413.1v12h1v-12zM3478.3,469.3v20h2v-20zM3285,462.4v8h1v-8zM3238.1,436v28h1v-28zM3617.3,498.7v28h1v-28zM2827.5,487.2v8h2v-8zM3020.7,498.5v12h1v-12zM2883.9,472.1v20h3v-20zM2867.8,483.8v26h1v-26zM2504.5,390.5v40h2v-40zM2237.1,404.6v12h1v-12zM2494.3,320.3v52h4v-52zM2820.7,450.3v26h1v-26zM3539.9,445.4v8h1v-8zM3058.4,461.9v8h1v-8zM2701.5,417.2v40h1v-40zM3521.3,530.5v16h2v-16zM3136.5,365.6v28h2v-28zM3504.2,536v8h1v-8zM3308.4,476.1v16h1v-16zM3182.2,389.3v16h1v-16zM3191,458.6v12h2v-12zM2346.4,383.3v32h3v-32zM3560.4,435.1v12h2v-12zM3119.1,376.9v28h2v-28zM3108.3,455.9v8h2v-8zM3104.9,362.8v12h1v-12zM3029.8,487.2v12h2v-12zM2491.2,418.4v32h1v-32zM2978.4,407.4v40h4v-40zM2650,492.2v8h4v-8zM3392.4,506.3v16h2v-16zM2525.1,486.9v12h1v-12zM2214.6,382.2v52h1v-52zM3561.8,480.4v28h1v-28zM3310.2,437.9v28h2v-28zM2121.7,420.8v20h1v-20zM2889.8,471.5v16h2v-16zM2949.9,456v52h1v-52zM3492,527.8v20h2v-20zM2266.8,386.5v40h2v-40zM2900.4,436.4v20h1v-20zM3518.6,362.2v12h1v-12zM2561.3,421.3v32h1v-32zM3129.2,404.1v28h2v-28zM2644.2,463.4v40h3v-40zM2272.5,339.7v16h1v-16zM3258.6,451.3v12h2v-12zM3176.9,474.9v20h2v-20zM3432,504.5v16h2v-16zM2671.8,447.4v26h1v-26zM3443,483.8v12h2v-12zM3126.2,416.3v28h2v-28zM2994.7,480.7v26h1v-26zM2421.2,485.4v32h1v-32zM2848.1,479.8v20h3v-20zM2569.5,481.5v20h1v-20zM2183,421.7v8h1v-8zM2350.1,443.5v8h3v-8zM2352.3,455.9v12h3v-12zM2165.4,377.7v40h4v-40zM3474.1,535v8h1v-8zM3560,407v20h2v-20zM2470,472.6v16h1v-16zM3227.7,410.4v8h1v-8zM3298.2,447.2v28h1v-28zM2241.9,415.5v16h2v-16zM3340.6,461.5v28h2v-28zM3117.7,414.7v28h1v-28zM2544.1,395.7v12h1v-12zM2335.1,476.9v16h1v-16zM3340.4,434.7v8h1v-8zM3171,394.7v16h1v-16zM2781.8,416.8v12h1v-12zM2199.7,350v16h1v-16zM2289.7,436.2v32h1v-32zM3279.9,462v28h1v-28zM2562.2,483.2v8h1v-8zM2938.3,484.3v32h1v-32zM2832.9,492.7v12h1v-12zM3005.7,422.5v16h2v-16zM3576.8,449.2v12h2v-12zM2567.8,459.4v40h1v-40zM2980.9,474.6v8h4v-8zM2771.5,448.2v8h1v-8zM2798.7,375v26h3v-26zM3609.6,426.5v20h1v-20zM2262.5,446.7v20h1v-20zM3161.5,414.4v28h2v-28zM2791.4,390v16h2v-16zM3321.4,437.1v16h2v-16zM3469.2,509.1v28h2v-28zM3577.5,536.1v8h1v-8zM2926.8,453.5v52h2v-52zM3482,492.4v8h1v-8zM3489.7,535.3v12h1v-12zM2165.6,431.3v20h2v-20zM2716.4,434.1v12h2v-12zM3506.8,501.6v16h1v-16zM3133.5,381v12h2v-12zM2947.9,422.6v20h1v-20zM2701.6,474.3v16h1v-16zM3181.9,473v8h2v-8zM2812.9,403.1v26h2v-26zM3404.2,492.4v20h1v-20zM3269.4,451.3v12h1v-12zM2408.4,444.7v16h4v-16zM3195.9,488.8v16h1v-16zM2484,444.1v8h1v-8zM2179.3,349.3v40h1v-40zM3090.5,482.9v8h1v-8zM2160.4,405.6v12h1v-12zM2203,423.8v12h3v-12zM2564,495.7v8h2v-8zM2405.6,432.1v20h1v-20zM2165.9,395.6v52h1v-52zM3327.3,475.4v20h2v-20zM3281.7,457.9v12h2v-12zM2615.1,413.6v20h2v-20zM2431.2,495.7v20h1v-20zM2432.8,387.9v40h4v-40zM3036.5,471.9v20h1v-20zM2567.7,425.3v12h2v-12zM2120.4,428.8v12h2v-12zM3126.7,482.3v16h2v-16zM2909.8,506.4v16h1v-16zM2319.6,396.8v16h3v-16zM2560.7,442.9v20h1v-20zM2394.6,409.9v8h1v-8zM2681.9,461.8v12h3v-12zM2262.2,442.5v26h3v-26zM2686,476.1v20h1v-20zM2124.5,371.9v16h2v-16zM3234.5,387.2v8h2v-8zM2788.4,530.2v8h1v-8zM3096.2,472v20h2v-20zM3032,480.4v12h1v-12zM2460.2,469.8v16h4v-16zM3445.6,470.7v16h2v-16zM3516.9,478v8h2v-8zM2656.4,505v26h1v-26zM2460.3,435.6v8h1v-8zM3627.9,446.2v16h2v-16zM2119.9,393.2v52h3v-52zM2210.7,420.3v32h1v-32zM3536,431.9v12h1v-12zM3316,507.7v8h1v-8zM2177.7,390.2v20h1v-20zM2473.6,486.8v16h1v-16zM3603.2,378.2v28h2v-28zM3408.3,381v8h1v-8zM2263.1,420.4v16h3v-16zM3334.3,437.8v28h1v-28zM2959.3,412.6v26h2v-26zM3050.3,490v12h2v-12zM2649.4,492.4v40h2v-40zM3128,364.8v20h1v-20zM3629.3,529.4v20h1v-20zM3603.9,495.6v8h2v-8zM2709.4,501.2v8h1v-8zM2829,437.7v52h1v-52zM2951.4,429.7v20h1v-20zM2440.9,477.7v32h1v-32zM2625.8,443.3v32h3v-32zM3048.4,452.2v20h1v-20zM2206.4,426v16h1v-16zM3253,489v28h2v-28zM2270.1,397.4v20h2v-20zM2988.5,437.3v16h3v-16zM3629.9,525.5v12h2v-12zM2318.2,356.3v52h1v-52zM3088.6,386.9v12h1v-12zM2244.1,432.3v26h2v-26zM2748.7,484.5v32h2v-32zM3185.6,484.5v12h1v-12zM3377.7,505.3v16h2v-16zM2830.9,439.9v52h2v-52zM2423.4,486.2v40h1v-40zM3545,500.6v28h2v-28zM3448.3,504.4v20h1v-20zM3336.8,461.6v12h1v-12zM3285.4,439v16h1v-16zM3386.6,520.4v8h1v-8zM2700.1,481.2v20h2v-20zM3124.9,358v20h1v-20zM3488.3,516v20h2v-20zM3225.1,489.3v12h1v-12zM2392.2,463.1v20h1v-20zM2217.3,417.9v40h3v-40zM3588.7,477.9v28h2v-28zM3311.8,515.2v8h1v-8zM2157.4,330.5v26h2v-26zM2364.3,384.3v32h1v-32zM2643.8,485.4v16h2v-16zM2991,479.7v16h1v-16zM2615.7,387.9v16h1v-16zM3527.4,517.9v20h2v-20zM2474.4,470.8v20h1v-20zM3141.7,383.6v20h1v-20zM3531.3,500.9v28h2v-28zM2390,450.4v40h4v-40zM2503.9,396.5v8h1v-8zM2655.4,354.2v12h1v-12zM2593.9,443.6v12h4v-12zM3529,323v28h2v-28zM2453.7,403.5v16h1v-16zM2955.3,479.5v20h1v-20zM3512.9,489v12h1v-12zM3421.8,504.7v12h1v-12zM3022.3,466.1v8h2v-8zM2148.2,358.1v16h1v-16zM3243.2,449.9v16h2v-16zM3016.3,466.8v28h1v-28zM3121.6,453.8v16h1v-16zM2358.9,447.9v26h2v-26zM3014,443.8v28h2v-28zM3088.6,420.4v20h1v-20zM2877.1,384.4v12h1v-12zM3203.1,467.3v20h1v-20zM3151.9,452.9v12h2v-12zM2662.4,361v52h1v-52zM2936.2,445.6v8h1v-8zM3269.1,483v8h2v-8zM3005.9,457.1v20h2v-20zM3196.2,464.1v16h2v-16zM2402.8,439.6v12h2v-12zM2972.1,377.3v16h4v-16zM2913,508.9v12h3v-12zM3261,502.5v12h2v-12zM2900.5,412.1v16h1v-16zM2173.1,386v52h3v-52zM3131.5,459v12h1v-12zM2951.6,437.2v12h1v-12zM2527.2,460.6v26h1v-26zM3017.2,389.8v20h2v-20zM2740.2,472.1v26h2v-26zM2246,413.8v20h3v-20zM2410.1,500v8h2v-8zM3450.1,472.5v28h2v-28zM2466.2,417.5v40h2v-40zM3217.8,483.2v20h1v-20zM3165.8,410.7v20h2v-20zM3455.2,521.6v20h2v-20zM2516.7,435.7v52h2v-52zM2263.5,348.6v26h1v-26zM3059.5,418.6v20h1v-20zM2510.4,404.9v20h2v-20zM2700.6,475.2v8h1v-8zM2273.3,384.6v32h2v-32zM2630.1,452.9v40h3v-40zM2460.7,458.8v52h2v-52zM2624.3,439.3v20h1v-20zM2667.2,453.3v12h1v-12zM3568.4,545.3v16h1v-16zM3014,449.2v20h1v-20zM3034.5,438.2v8h1v-8zM2784.1,462.6v52h2v-52zM2243.9,377.9v12h3v-12zM2821.8,404.1v8h1v-8zM3071.8,465.8v8h2v-8zM2228.3,404v8h1v-8zM2733.7,406.9v52h3v-52zM2126.1,440.4v16h1v-16zM3176.2,471.6v12h1v-12zM3224.9,447.8v20h2v-20zM2469.9,448.4v20h1v-20zM2172.5,407.7v12h1v-12zM2194.2,426.8v12h4v-12zM2426.1,443.7v20h2v-20zM2520.9,449.6v52h1v-52zM3159,419.3v28h2v-28zM3237.8,484.5v8h1v-8zM3523.3,423.8v20h2v-20zM3477.2,485.2v28h1v-28zM3207.4,468.6v20h1v-20zM2952,466.4v8h4v-8zM3586.2,535.2v16h2v-16zM3282.5,449.6v20h2v-20zM3197,446.3v28h2v-28zM2475.3,429.6v16h1v-16zM2553.3,482.3v16h1v-16zM2454,423.8v20h1v-20zM2393.8,393.6v52h4v-52zM2464.7,494.6v8h3v-8zM2726.9,470.5v26h3v-26zM2427.3,382.8v32h2v-32zM2757.3,434v20h1v-20zM3334.3,500.1v12h1v-12zM3034.5,437.3v28h1v-28zM2771.6,458.7v20h1v-20zM2284.1,396.1v16h1v-16zM2336.9,374.9v16h4v-16zM2611.2,362.9v20h2v-20zM2192.1,414.6v16h3v-16zM3265.9,426.1v16h1v-16zM2365.5,467.7v32h3v-32zM2852,498.8v12h1v-12zM3034.8,482.1v28h2v-28zM2705.6,398.2v26h3v-26zM2931.3,489.9v20h1v-20zM3043.3,472.6v28h2v-28zM3287,407.9v28h1v-28zM3257.8,461.7v28h1v-28zM3309.3,479v28h2v-28zM2146.8,399v8h2v-8zM2242.4,417.8v8h1v-8zM2616.4,390.1v12h1v-12zM3500.2,488.3v8h2v-8zM3315.5,440.9v16h1v-16zM3334.1,474.6v28h1v-28zM2620.6,333.9v20h3v-20zM3051.1,468.3v8h1v-8zM3099.4,465.7v16h2v-16zM2670,455.2v12h1v-12zM2533.6,453v32h3v-32zM3351.3,472.5v12h1v-12zM2237.2,378.2v8h3v-8zM2285.8,412.7v26h1v-26zM2669.6,400.6v8h4v-8zM2588,464v20h4v-20zM2229.9,361.7v8h2v-8zM2323.5,356.2v20h2v-20zM3335.9,450.8v28h1v-28zM3037.3,483.7v16h1v-16zM2841.4,471.1v20h2v-20zM3100.7,475.7v20h2v-20zM3191.4,427.1v8h2v-8zM3137.6,411v28h2v-28zM3521.2,489.8v28h2v-28zM2676.6,392.4v20h1v-20zM2460.6,486.2v20h2v-20zM3430.3,486.5v8h1v-8zM3066.9,410.2v12h2v-12zM2594.1,398.4v40h4v-40zM2536.5,456.6v16h1v-16zM3156,438.2v12h1v-12zM2648.8,481.5v20h1v-20zM3444.2,523.7v8h1v-8zM2450.7,462.1v8h1v-8zM3068.3,457v12h1v-12zM2231,435.2v26h3v-26zM3495.2,503.8v16h2v-16zM3238.3,492.7v28h1v-28zM3029,486.2v20h2v-20zM3007.6,468.2v8h2v-8zM3583.5,502.5v8h1v-8zM3249.1,471.3v20h1v-20zM3266.5,479.4v28h2v-28zM3586.1,464.8v8h2v-8zM2624.7,460.3v16h1v-16zM3459,438.7v28h2v-28zM3427.7,479.2v16h1v-16zM2692.3,425v40h2v-40zM2711.8,385.9v16h4v-16zM3123.4,466.9v20h1v-20zM2809.4,454.3v40h4v-40zM2823.3,423.6v16h1v-16zM3179.4,450.4v12h2v-12zM2447.8,483.4v40h2v-40zM2626.9,364.4v32h1v-32zM3498.4,537.7v8h1v-8zM3335.4,482.5v8h1v-8zM3433.9,449.8v20h1v-20zM2237.7,409.9v20h2v-20zM3519.5,476.8v8h1v-8zM3081.9,390.3v16h1v-16zM2922.6,473.2v32h3v-32zM2892,434.2v40h1v-40zM3535.9,510v28h1v-28zM2783.2,444.5v20h1v-20zM3597.3,445.1v20h2v-20zM3207.5,460.9v28h1v-28zM3133.7,358.7v8h2v-8zM2436.5,470.3v40h1v-40zM2349.8,428.8v40h2v-40zM3206.4,482.2v8h1v-8zM3106.5,391.8v12h1v-12zM3157.2,434v12h2v-12zM2430.7,412.6v32h2v-32zM2913.2,490.2v20h1v-20zM2552.9,389.6v8h1v-8zM2312.4,369.7v16h4v-16zM2222.7,443.5v16h1v-16zM2305.3,456.5v12h2v-12zM2805.5,461.1v32h1v-32zM3136.1,366.3v16h1v-16zM3052.3,446.4v8h2v-8zM2607.6,360.3v52h1v-52zM3076.4,390.6v28h1v-28zM3227.2,437.8v28h1v-28zM3562.7,427.3v12h2v-12zM2404.9,474.5v32h1v-32zM2914.1,460.4v26h3v-26zM3607.4,366.8v8h1v-8zM3041.5,477.9v8h1v-8zM3393,496.2v20h1v-20zM3245.7,448.9v20h2v-20zM2762.6,446.2v8h3v-8zM3338.3,425v12h2v-12zM3173.3,488.4v8h1v-8zM2760.7,402.6v26h2v-26zM3288.7,414.1v20h2v-20zM3168.6,357.5v8h2v-8zM2487.3,430.6v16h4v-16zM2315,471.2v16h2v-16zM3616.2,519.1v20h2v-20zM3344.3,511.5v8h1v-8zM3608.5,510.5v8h2v-8zM3106.7,353.4v12h2v-12zM2394.7,433v16h2v-16zM2210.3,435.7v16h2v-16zM2310.4,466.3v12h1v-12zM3497.5,462.4v16h1v-16zM2280.6,337.9v12h2v-12zM3015.1,454v28h1v-28zM2270.8,382.5v26h3v-26zM2115.1,399.4v26h1v-26zM3101.4,430.7v12h1v-12zM2675.9,422.4v20h1v-20zM2330.7,345.3v20h1v-20zM3048.8,435.1v16h2v-16zM3111.3,448.6v28h2v-28zM3391.8,476.9v12h2v-12zM3543,488.2v28h2v-28zM2366.4,459.5v12h3v-12zM2984.6,452.6v20h2v-20zM2570.2,389.5v32h1v-32zM2565.5,365.8v16h1v-16zM3037.4,407.9v12h2v-12zM2791.9,396.6v8h2v-8zM2517.4,440.3v12h3v-12zM2657.9,408.2v20h1v-20zM2519.5,449.2v26h2v-26zM3607.6,441.1v16h1v-16zM2113.1,406.3v8h3v-8zM3318.1,443.6v28h2v-28zM2235.4,390.4v20h1v-20zM2557.9,501.5v12h3v-12zM3269.1,507.4v16h1v-16zM2735.6,427.9v52h1v-52zM2659.6,498.5v26h1v-26zM3148.1,394.2v28h1v-28zM2912.8,471.4v12h4v-12zM2419.8,425.3v20h1v-20zM3074.5,411.2v12h1v-12zM2835.9,456v20h1v-20zM2594.9,429.6v20h2v-20zM3010.7,460.9v12h2v-12zM2734.9,410.4v16h1v-16zM2405.4,469.8v26h4v-26zM2165.1,387.8v16h1v-16zM3324.7,483.2v12h2v-12zM3139.2,443.1v12h1v-12zM3334.5,494.7v28h1v-28zM3221.2,486.5v20h1v-20zM2983.1,451.4v16h2v-16zM2123.1,431.4v20h1v-20zM2970.4,455v16h2v-16zM2552.7,410.7v16h1v-16zM2641.9,514.9v12h1v-12zM3274.3,435.6v16h1v-16zM3539.4,459.7v12h1v-12zM2387.6,464v16h3v-16zM2618.1,346v40h2v-40zM2645.3,347.4v16h1v-16zM2638.9,463.2v20h1v-20zM2414.5,475.7v8h3v-8zM2878.2,381.3v16h1v-16zM2656.3,434.1v20h3v-20zM2493.1,471v12h4v-12zM3241.2,503.5v20h2v-20zM2551.8,418.8v40h3v-40zM2800.1,396.1v16h4v-16zM2118.6,388.5v52h1v-52zM2347.2,464v26h1v-26zM2598.3,411.3v12h1v-12zM2438.1,473.6v12h1v-12zM2444.8,504.7v26h4v-26zM3342.1,516.3v12h2v-12zM3251.7,495.7v16h1v-16zM3549.9,432.9v16h2v-16zM3312.9,449.3v20h1v-20zM2881.3,474.2v20h1v-20zM2336.4,397.8v8h1v-8zM2862.3,476.6v32h1v-32zM3134.4,476.2v16h1v-16zM3632.7,466.5v12h1v-12zM2153.9,392.6v52h3v-52zM3323,456.7v8h1v-8zM2957.8,452.4v16h1v-16zM2788.2,453.1v16h1v-16zM2841.8,462.7v8h2v-8zM3494.6,434.4v12h1v-12zM3203.1,470.5v20h2v-20zM3179.4,437.5v20h2v-20zM2596.3,360.2v16h2v-16zM2334.5,361.1v32h1v-32zM2630.1,457.7v20h1v-20zM3159.2,413.2v20h1v-20zM3476.5,404.1v28h2v-28zM3134.1,413.8v28h1v-28zM2461.6,369.9v12h1v-12zM3319.1,450.2v12h2v-12zM3027.2,445.9v8h1v-8zM3283.3,431.2v12h2v-12zM2713.6,442.7v52h4v-52zM3176.9,407.9v8h1v-8zM3376.7,401v12h2v-12zM3496.7,427.4v12h1v-12zM2598.2,437.9v8h4v-8zM2559.1,451.7v26h1v-26zM3464.8,506.9v20h1v-20zM2672.9,447.1v40h2v-40zM2178.5,395.5v40h2v-40zM3079.2,472.4v8h2v-8zM2447.7,395.9v52h1v-52zM2660.6,388.9v26h1v-26zM2360.3,469.7v20h1v-20zM2776.9,469.4v8h1v-8zM2504.1,391.4v12h1v-12zM2587.4,487.8v8h1v-8zM2880.2,400.3v20h4v-20zM3546,462.9v8h2v-8zM3006,430.1v16h2v-16zM3356.1,405.2v12h1v-12zM3392.3,507.2v28h1v-28zM3182.8,382.5v12h1v-12zM2922,423v32h2v-32zM3093.9,409.3v20h2v-20zM2492.1,475.5v26h3v-26zM2442.2,466.7v12h3v-12zM3282.5,465.8v12h2v-12zM2335.3,365.1v32h4v-32zM2867.3,454.3v40h4v-40zM2370,480.5v12h3v-12zM3408.2,350v12h1v-12zM3207.4,478.3v16h2v-16zM3620.8,562.4v8h1v-8zM2640.9,421.7v20h1v-20zM2372.8,474.9v16h2v-16zM2602.3,501.1v12h1v-12zM2324.9,392.6v32h1v-32zM2159.6,385v20h4v-20zM2452.4,448.8v40h1v-40zM2428.5,504.7v12h2v-12zM3139.8,421v8h1v-8zM3099.6,433.7v16h2v-16zM2348.7,368v52h2v-52zM3278.6,467.9v20h1v-20zM3561.3,523.3v16h1v-16zM2758.5,471.1v8h1v-8zM2219.9,358v12h2v-12zM2594.7,408.2v8h1v-8zM3438.7,456.9v28h1v-28zM3258.4,440.8v12h1v-12zM3181.2,396.4v8h1v-8zM2315.7,451.8v12h1v-12zM2172.6,373.6v32h1v-32zM3198,484.6v8h2v-8zM3301.4,496.2v16h1v-16zM2939.8,470.2v20h1v-20zM3016.1,440.9v12h1v-12zM3186.2,471.5v16h1v-16zM3280.4,464.2v28h1v-28zM2468.6,458.2v40h1v-40zM2722,491.8v20h1v-20zM3178.8,498.1v12h1v-12zM3602,490.3v12h2v-12zM3089.8,435.9v12h2v-12zM2741.8,460.4v26h1v-26zM3052.6,486.7v8h1v-8zM3227.8,446.6v12h2v-12zM2815.7,434.5v26h1v-26zM3127.3,384.9v20h2v-20zM2653.6,502.8v16h3v-16zM2910.1,499.3v8h1v-8zM3612.5,465.8v28h1v-28zM3166.3,409.1v12h2v-12zM2491.1,460.9v8h4v-8zM2179.6,396.5v8h4v-8zM2317.9,468.1v16h1v-16zM2518.2,489v12h4v-12zM2381.6,478.8v12h1v-12zM3482,364.2v16h1v-16zM3481.7,403.8v8h1v-8zM3302,505.2v8h2v-8zM2445.5,408.9v40h1v-40zM2324.3,376.5v20h3v-20zM2675.9,472v16h3v-16zM2778.1,480.8v52h2v-52zM2436.8,487.8v40h2v-40zM3253.8,508.5v12h2v-12zM2592.4,495.2v8h1v-8zM3405.6,528.3v8h1v-8zM2278.1,330.6v32h1v-32zM3468.9,520.8v20h2v-20zM3076.1,408.6v8h1v-8zM2815,485.9v8h2v-8zM2716.3,470.4v12h1v-12zM3110.6,429.5v8h1v-8zM2150.1,374v20h1v-20zM3130.6,383.6v28h1v-28zM2720.2,441.8v16h2v-16zM2911,458.3v20h4v-20zM2294.2,398.1v32h2v-32zM2238.1,458.6v12h4v-12zM2806,429.7v26h3v-26zM3123.3,437.9v20h1v-20zM2392.6,442.2v32h1v-32zM2359.2,373v32h1v-32zM2784.6,434v20h4v-20zM2674.7,450.6v8h1v-8zM2469.9,405.2v32h1v-32zM2563.1,451.2v20h4v-20zM3007.4,488.8v20h1v-20zM2313.6,389.5v16h1v-16zM3592.7,472.1v28h2v-28zM3620.2,561.4v16h1v-16zM2685.5,462.8v26h1v-26zM3322.2,481.9v12h2v-12zM2397.3,431v12h1v-12zM2253.2,328.5v52h1v-52zM3633.9,563.1v16h2v-16zM2151.2,375.1v12h1v-12zM3322.7,436.2v16h1v-16zM3506.8,468.8v20h2v-20zM2140.6,392.2v16h2v-16zM3323.7,423.3v12h1v-12zM2545.3,415.7v8h1v-8zM2366.7,361.6v20h1v-20zM2980.8,443.7v8h2v-8zM2826.1,420.5v32h1v-32zM3560.2,427.5v20h2v-20zM2267.8,421.8v8h1v-8zM2910.7,392.4v26h1v-26zM2323.8,468.2v20h1v-20zM3504.1,476v20h1v-20zM2172.9,341.8v40h1v-40zM3150.4,377.9v20h2v-20zM2535.2,480.1v26h1v-26zM2645.7,500.2v8h1v-8zM3272.4,485.3v16h1v-16zM3292.1,490.6v12h1v-12zM3551.6,451.3v28h2v-28zM3126.1,396.8v28h1v-28zM2919.3,421.2v26h2v-26zM3170.9,401.5v20h2v-20zM2736.4,408.5v32h1v-32zM2937,489.4v8h2v-8zM2424.3,457.3v26h3v-26zM2986.8,407.6v26h1v-26zM2537.8,495.3v16h1v-16zM3315.9,453.9v16h1v-16zM2765.9,418.8v16h4v-16zM2393.3,478.6v20h4v-20zM2174.7,371.9v8h4v-8zM3089.5,417.2v28h2v-28zM2447.4,392.1v52h2v-52zM3546.3,530.5v16h1v-16zM3177.3,393v8h2v-8zM2703.1,459.5v16h1v-16zM2684.3,487.8v16h3v-16zM3296.1,449.5v8h2v-8zM2790,458.5v12h4v-12zM2890.7,470.1v32h1v-32zM2693.8,463.6v32h1v-32zM2154.8,438.8v12h1v-12zM2450.6,394v40h4v-40zM2633.5,416.9v12h1v-12zM3173.5,406.4v16h2v-16zM2808.1,463.9v32h1v-32zM2900.7,451.7v26h1v-26zM2421.3,442.9v20h1v-20zM3634.9,442.5v28h2v-28zM2979.4,399.7v20h1v-20zM3627.7,512.6v8h1v-8zM2353.2,380v52h1v-52zM3246.2,519.8v16h1v-16zM2446.7,499.3v12h2v-12zM2656,487.1v26h1v-26zM2388.4,406.3v40h1v-40zM2579.1,405.2v32h1v-32zM2277.1,395.2v52h4v-52zM2233.6,340.6v26h1v-26zM3296.6,487.9v20h1v-20zM2937.2,471.1v12h2v-12zM3622,527.8v16h1v-16zM3019.1,451.6v28h1v-28zM2467,433.3v20h4v-20zM2486.2,398v52h1v-52zM3272.3,444.3v20h1v-20zM3470.2,534.6v8h1v-8zM2792.3,502.4v26h2v-26zM2508.6,443v52h1v-52zM3212.8,497.7v12h1v-12zM2931.7,425.2v32h1v-32zM2322.2,446.3v20h2v-20zM3564.7,514.6v20h1v-20zM3395.2,460.2v20h2v-20zM2239.7,417.6v26h3v-26zM2821.4,464.8v32h4v-32zM2884.1,427.4v40h1v-40zM2708.3,410.1v40h3v-40zM2639.9,359.1v8h1v-8zM3073.9,444.3v28h2v-28zM2634.1,503.7v8h1v-8zM3361.7,409v28h1v-28zM2488.6,403.5v8h1v-8zM2918.8,457.9v40h1v-40zM2948,476.5v32h1v-32zM3406.8,529.6v16h1v-16zM2984.9,410v40h2v-40zM3325,466.2v20h2v-20zM2879.6,444.4v16h3v-16zM3086.6,396.3v16h1v-16zM3632.1,424.5v28h1v-28zM3276.4,508.8v8h1v-8zM2519.7,456.1v20h2v-20zM3149.1,489.3v16h2v-16zM2701.6,438.2v52h1v-52zM2235.5,354.9v20h1v-20zM2256.4,424.2v12h1v-12zM3099,385.2v16h2v-16zM3134.5,456.9v8h1v-8zM3128.2,425.5v16h1v-16zM2618.4,336v26h2v-26zM3021.6,468.2v28h1v-28zM3429.3,505v8h1v-8zM3627.4,535.1v12h1v-12zM3344,431.3v28h2v-28zM3220.4,438v20h1v-20zM3543.7,499.7v8h2v-8zM2180.6,402.2v12h2v-12zM3294.9,430.2v12h1v-12zM3399.4,420.5v28h1v-28zM2352.4,476.1v8h1v-8zM3410.5,459.1v12h1v-12zM3367,455.9v20h2v-20zM2156.2,413.3v16h4v-16zM3160.7,404v8h1v-8zM2742,478.5v20h1v-20zM3258.6,510.3v16h1v-16zM3246.8,464.9v20h2v-20zM2603.2,476.1v32h1v-32zM3373.7,455.6v20h1v-20zM3490.3,493.9v8h1v-8zM3211.5,471.6v28h1v-28zM3460.3,520.1v12h2v-12zM2592.2,428.2v32h4v-32zM3219.3,450v8h2v-8zM2525.3,460.3v40h4v-40zM3097.8,477.8v16h1v-16zM2387.7,399.4v8h3v-8zM2500.8,413.1v32h2v-32zM3062.8,403.7v8h1v-8zM2570.3,438.2v40h2v-40zM2625.2,329.4v40h1v-40zM2979.9,404.9v20h1v-20zM3313.8,460.5v20h1v-20zM2880.3,476v8h1v-8zM3332.5,429.6v8h2v-8zM3125.9,414.2v12h2v-12zM2324.7,356.4v26h3v-26zM2746.8,441.6v20h1v-20zM3549.2,530.5v8h1v-8zM2452.5,401.1v20h3v-20zM3111.4,447.6v12h1v-12zM3230.7,472.7v12h2v-12zM2697,447.8v20h1v-20zM2974.6,421.8v26h1v-26zM2936.2,487.4v16h3v-16zM2624,424.9v16h1v-16zM2650.4,397.2v26h2v-26zM2775.8,496.4v26h1v-26zM2889.8,435.6v52h1v-52zM2771.7,472.1v20h1v-20zM2678.3,401.4v8h1v-8zM3027,462.1v8h2v-8zM2314.4,468.9v12h1v-12zM2212.1,358.2v16h1v-16zM3474.8,426v12h1v-12zM3383.5,507.5v12h2v-12zM3617.5,429.2v28h1v-28zM3068.3,456v20h1v-20zM3457.5,525.5v12h1v-12zM3319.9,456.3v12h1v-12zM3233,497.5v28h1v-28zM3383.3,501.4v12h2v-12zM2977.3,433v52h4v-52zM2739.2,463.5v26h1v-26zM3615.1,537.1v16h1v-16zM2899.1,491.4v26h2v-26zM2171.3,408.1v32h1v-32zM2368.6,412v20h3v-20zM3479.7,542v12h1v-12zM2354.4,474.8v16h2v-16zM2784,499.1v40h3v-40zM2549.3,463.4v8h2v-8zM3568.6,446.3v12h1v-12zM2797.7,520.7v12h2v-12zM2507.4,461.9v12h1v-12zM2399.5,427.6v26h1v-26zM3133.4,382.6v20h1v-20zM2245.6,428.8v8h1v-8zM2681.1,490.7v20h2v-20zM3020.2,438.8v8h1v-8zM2286,373v12h4v-12zM3319.4,469.6v8h1v-8zM2172.2,440.7v8h1v-8zM2686.6,470.6v32h1v-32zM3159.8,388.2v12h1v-12zM2707.4,375.5v16h2v-16zM3556.3,458.7v20h1v-20zM2844.6,453v16h4v-16zM3153.9,415v28h1v-28zM3182.5,460.6v16h1v-16zM2444.6,481.7v32h2v-32zM2786.3,475.5v52h2v-52zM2269.9,433.6v16h2v-16zM2754.8,469.4v20h3v-20zM2799.1,453.7v32h4v-32zM2361.4,463.3v8h1v-8zM2428.3,466.1v16h2v-16zM2991.5,413.9v16h1v-16zM3204.6,499.7v16h1v-16zM2952.6,448.5v8h2v-8zM3113.7,418.4v28h2v-28zM3154.2,422.1v12h2v-12zM3054.1,458.1v12h1v-12zM3243.1,421.2v20h1v-20zM2616,476.7v40h1v-40zM2777.7,516.1v20h2v-20zM2509,436.6v26h3v-26zM3154.6,441.5v12h2v-12zM2212,434.9v8h1v-8zM3390.9,473.8v8h1v-8zM2584.3,374.3v40h1v-40zM2736.1,417.5v52h1v-52zM2998.9,480.5v26h1v-26zM3446.2,457.8v28h1v-28zM3299.6,409.8v12h2v-12zM2893.6,459.3v12h1v-12zM3445,549.1v8h1v-8zM3113.6,400.1v28h1v-28zM2767.1,509.6v12h1v-12zM3288.2,431.3v12h2v-12zM2179.4,382.2v40h1v-40zM3379.3,485.7v12h1v-12zM2533.4,511v8h4v-8zM3152.5,466v12h1v-12zM2453,445.4v40h1v-40zM2843.8,479.1v12h4v-12zM2204.2,382v12h3v-12zM2786.9,497.1v8h4v-8zM3623.7,416.6v20h2v-20zM2533.8,466v12h2v-12zM2969.8,445.8v52h3v-52zM2732.6,446.5v32h2v-32zM2247.9,433.9v20h1v-20zM2914.1,474.5v40h2v-40zM3361.8,457.4v28h1v-28zM2270.5,375.9v12h2v-12zM2861.8,497.2v8h1v-8zM3319.6,420.4v28h2v-28zM2291.9,417.1v20h2v-20zM3065.5,494v12h1v-12zM3344,458v28h2v-28zM2967,443.2v26h1v-26zM2452.5,426.3v16h1v-16zM3225.6,480v20h1v-20zM3029.7,412.9v20h1v-20zM3245.7,434.6v16h1v-16zM3506.4,513.3v8h1v-8zM2357.1,370.5v52h1v-52zM3131.2,396.2v20h1v-20zM3602.9,516.8v20h1v-20zM2398.5,418.6v8h1v-8zM2561.2,484.6v26h2v-26zM3442.5,506.9v8h1v-8zM2806.1,453.6v52h1v-52zM2802.2,414.6v52h3v-52zM2945.3,470.8v16h4v-16zM3454.2,410.5v12h2v-12zM2796.1,463.8v12h1v-12zM2463.1,483v12h3v-12zM3349,445.4v20h1v-20zM3600.9,521.9v28h2v-28zM3310.4,458.3v8h1v-8zM2747.5,378.1v20h2v-20zM3608.9,501.5v8h1v-8zM3096.3,477.3v8h2v-8zM2157.2,400.9v20h1v-20zM2381.9,367.7v8h2v-8zM2770,457v8h4v-8zM3072.7,443.9v28h1v-28zM2344.5,357.7v20h3v-20zM2916.8,503.5v8h1v-8zM3360.6,469.9v12h1v-12zM2659.3,439.5v16h1v-16zM2314.8,392.9v32h1v-32zM3170.2,431.1v16h2v-16zM2940,503.7v8h1v-8zM3318.3,486.7v28h1v-28zM2637.4,451.9v26h1v-26zM3287.9,435.7v8h2v-8zM2435.2,465v16h1v-16zM2148.6,374.1v8h2v-8zM3584.3,476.2v28h2v-28zM3364.2,479.3v8h2v-8zM2822.6,395.6v40h4v-40zM2566.9,374.4v52h1v-52zM2629,506.2v8h4v-8zM3218.3,492.2v12h1v-12zM3544.1,516.9v28h2v-28zM3061.9,471v20h1v-20zM3001.8,426.3v16h1v-16zM2587,437.1v16h2v-16zM2738.2,293.9v32h1v-32zM3083.7,431.4v20h2v-20zM2779.9,486.2v52h2v-52zM2767.1,405v32h4v-32zM2244.8,359.3v8h2v-8zM3380,451.7v28h1v-28zM2694.7,435.1v8h3v-8zM3501.6,375.1v20h1v-20zM2919.8,459.7v32h1v-32zM2655.8,374.2v20h1v-20zM2836.4,465.1v26h1v-26zM3094.8,469.4v12h2v-12zM2337.8,449.2v40h1v-40zM2614.1,394.1v52h4v-52zM3317.3,509.3v8h2v-8zM2184.4,394.9v20h4v-20zM3093.6,440.9v28h2v-28zM2581.7,386.7v26h3v-26zM3104.9,447.8v28h1v-28zM2615.4,427.3v40h2v-40zM2390.6,401.5v52h2v-52zM2159.4,360.5v8h2v-8zM3183.4,436.7v8h1v-8zM2826.1,476.6v16h1v-16zM2131.4,373v52h4v-52zM2166.1,355.5v40h1v-40zM2729,505.3v12h1v-12zM2371.3,476.5v16h4v-16zM2876.5,471.9v52h2v-52zM2381.3,422v32h1v-32zM2162.4,388v32h2v-32zM3038.4,438.3v16h1v-16zM3438.4,491.2v16h1v-16zM3221,447v20h1v-20zM2484.7,407.2v40h4v-40zM2782.7,496v32h1v-32zM3408.8,524.8v8h1v-8zM3257.2,487.7v16h1v-16zM2222,386.8v52h1v-52zM2621.2,341.3v8h3v-8zM3082.4,448.3v28h2v-28zM3070.6,416.3v28h2v-28zM2312.1,357.7v40h4v-40zM2383.6,481.6v20h1v-20zM2473.5,479.2v32h1v-32zM3521.9,528v28h1v-28zM3634,410.7v8h1v-8zM3080.9,455v12h1v-12zM3518.4,502.5v16h1v-16zM3173,431.7v20h2v-20zM2425.7,445.6v52h2v-52zM3121.3,485.7v8h1v-8zM2507.2,404.4v12h2v-12zM2630.4,379.8v32h1v-32zM2958,462.1v12h1v-12zM3478.3,459.4v20h1v-20zM3057.8,457.7v28h1v-28zM2180.1,364.2v26h2v-26zM3473.8,542.8v12h1v-12zM3288.7,497.1v8h2v-8zM2547.5,484.1v8h3v-8zM2649.3,498.5v20h1v-20zM3241.9,495v12h1v-12zM2436.2,440.6v40h3v-40zM3507.5,471v12h1v-12zM2736.5,411.7v8h1v-8zM2226.2,406.9v8h2v-8zM3349.1,464.3v12h1v-12zM2324.7,401.6v26h1v-26zM2543.1,352.3v20h3v-20zM3029.4,474.8v20h2v-20zM2480.4,499.9v8h3v-8zM3133.8,426v8h2v-8zM3195.4,492.7v20h1v-20zM2589.8,433.7v16h1v-16zM2712.5,480.9v26h1v-26zM2833.7,494.8v12h1v-12zM3119.2,425.8v28h1v-28zM2886.1,423v32h2v-32zM3089.9,403.8v12h1v-12zM2698.9,410.2v26h2v-26zM2910.3,496v12h3v-12zM2180.8,364.4v16h2v-16zM2943,479.1v32h2v-32zM3048.6,464.8v8h1v-8zM2827.9,424.9v26h1v-26zM2680.4,439.1v20h4v-20zM2734.9,399.3v12h2v-12zM3401.8,461v28h1v-28zM2610.4,417.5v16h1v-16zM2306,410.1v40h1v-40zM2807.7,475v32h2v-32zM3338.8,481.2v12h1v-12zM2214.7,424.8v26h2v-26zM2488.4,430.5v26h2v-26zM3327.9,430.4v20h1v-20zM2558.4,366v20h2v-20zM2929.4,467.5v40h1v-40zM2382.8,425.7v20h1v-20zM2309.6,470v8h1v-8zM3365.5,493.5v20h1v-20zM2487,460.4v40h2v-40zM2475.4,446.3v32h1v-32zM3115.5,468.7v8h2v-8zM3228.7,505.4v20h2v-20zM2529.3,480.2v16h4v-16zM3505.4,475.2v12h1v-12zM3349.8,422.4v28h1v-28zM3393.9,472.2v16h1v-16zM2745,451v20h2v-20zM2926.2,425.2v26h1v-26zM2361,465.8v8h4v-8zM3400.8,460.8v12h1v-12zM2561.8,479.3v26h2v-26zM3568.7,504.7v12h1v-12zM2732.8,427.2v20h3v-20zM2960.6,416v16h4v-16zM3277.8,399.1v16h1v-16zM3329.2,446.6v12h1v-12zM2937.2,429.3v52h3v-52zM3563.7,509.8v16h1v-16zM2899.2,470.8v32h1v-32zM3108.8,373.3v28h1v-28zM2451.6,476.2v26h1v-26zM3597.5,427.1v20h1v-20zM2375.9,427.5v52h4v-52zM2816.1,419.9v20h4v-20zM3556.1,475.9v28h1v-28zM2810.5,438.4v8h1v-8zM2925.4,426.1v40h1v-40zM3044.7,398.4v28h2v-28zM3389.4,397.8v8h1v-8zM3100.8,461.6v20h1v-20zM3538.8,491.4v20h1v-20zM2769.3,494.4v12h1v-12zM2680.2,421.9v8h2v-8zM2860.2,487.4v26h1v-26zM2564.2,382.9v40h1v-40zM3037,497.9v8h2v-8zM3278.3,442.6v8h1v-8zM3525.8,449.2v8h2v-8zM3452.8,451.6v8h2v-8zM3285.6,423.7v12h2v-12zM2644.7,479.2v12h1v-12zM3151.1,417v16h1v-16zM3616.5,425.3v28h1v-28zM3061.4,472.2v28h1v-28zM2253,456.2v16h1v-16zM3361,404.3v16h1v-16zM3600.4,518v8h1v-8zM2404.3,473.7v26h3v-26zM2921.6,366.1v52h3v-52zM3003.1,446.3v20h1v-20zM3609.4,505.7v28h1v-28zM2409.2,509.7v8h1v-8zM2357,444.6v26h2v-26zM2274.4,412.9v26h4v-26zM3277.4,488.2v8h1v-8zM2964.9,387.8v20h3v-20zM2783.9,481.7v26h2v-26zM2719.5,477.8v16h2v-16zM2234.8,367.6v20h1v-20zM2948.8,444.2v8h1v-8zM3248.9,464.9v28h2v-28zM3631.2,474.2v28h2v-28zM2437.6,465.7v20h1v-20zM3417.7,485.7v20h1v-20zM2979.6,477.2v8h2v-8zM3431.1,493.9v8h1v-8zM2363.7,374.5v12h1v-12zM3042.6,461.1v16h1v-16zM2669.5,428.5v40h1v-40zM3376.4,515.5v20h1v-20zM3067.4,380.9v28h2v-28zM3631.5,570.9v8h1v-8zM3604.9,521.9v20h2v-20zM3493.2,496v28h2v-28zM3369.7,350.1v8h1v-8zM3633,561.6v20h2v-20zM3044.7,472.4v12h2v-12zM2378,403.5v12h3v-12zM3234.3,471.5v20h2v-20zM2817.1,492.1v20h1v-20zM2684.5,388.5v16h1v-16zM3050.6,482.4v12h1v-12zM3331.6,517.3v16h1v-16zM2773,487.4v8h2v-8zM3366.8,452.5v12h2v-12zM3442.6,360.9v28h1v-28zM3291,409.7v12h2v-12zM2139.9,410.9v40h2v-40zM2784.3,507.4v32h1v-32zM2196.5,362.9v40h1v-40zM2582.4,433.7v16h4v-16zM3441.9,534.8v8h1v-8zM3180,369.9v28h1v-28zM3514.7,488.2v20h1v-20zM3581.9,455v8h2v-8zM3155.6,439v20h2v-20zM2664.6,421.6v32h2v-32zM2181.6,373.8v12h2v-12zM3173.9,408.6v28h1v-28zM3179.7,463.2v8h1v-8zM2334.6,448.9v40h1v-40zM2201.5,362.1v52h4v-52zM2478.7,430.4v8h2v-8zM3025,423.2v20h1v-20zM2617.7,464.4v12h1v-12zM3115.3,359.8v28h1v-28zM2453.8,466.5v52h1v-52zM2475.4,439.4v20h3v-20zM2740.4,477.3v32h1v-32zM2130.5,433.1v32h1v-32zM3299.2,466.3v16h2v-16zM3432.9,525.3v12h1v-12zM3109.6,457.5v28h1v-28zM3310.6,473.7v8h1v-8zM2344.5,438.2v32h1v-32zM3051.5,500.2v8h1v-8zM3476.1,471.1v8h1v-8zM3288.7,405.2v20h1v-20zM2511.7,490.7v12h2v-12zM3321.1,460v16h2v-16zM2182.3,412.3v12h2v-12zM3131.8,410.6v8h1v-8zM3337.2,449.4v8h2v-8zM3246.6,467v20h1v-20zM2515.6,476.1v8h1v-8zM2290,457.3v16h4v-16zM3571.6,526.9v16h2v-16zM3280.6,498.2v12h2v-12zM2306.2,455.8v12h2v-12zM2986.7,469.4v8h2v-8zM3386.1,478.8v28h1v-28zM2385.4,443.4v8h1v-8zM3577.7,444.6v8h1v-8zM2710.7,481.2v26h1v-26zM2772.6,461.9v8h1v-8zM3552.9,527.4v16h2v-16zM2403.7,471.9v26h1v-26zM2159.7,400.3v32h1v-32zM2250.9,392.1v26h1v-26zM2988.9,462.4v8h1v-8zM2304.2,361.8v20h1v-20zM3282.4,481v12h2v-12zM2551.3,445.9v32h2v-32zM2936.3,426.3v32h1v-32zM2579.1,395.9v32h2v-32zM2783.5,460v16h2v-16zM3630.1,506.1v20h2v-20zM2177.9,363.1v32h2v-32zM2681.7,396.4v32h1v-32zM3251.4,439.9v12h2v-12zM3223.1,466.2v8h2v-8zM3172.8,492.8v8h1v-8zM3134.1,477.7v20h1v-20zM2225.2,338.3v8h1v-8zM3399.4,506.9v20h1v-20zM2802.3,491.1v12h2v-12zM2389.9,422.4v20h2v-20zM3422.9,444.7v8h1v-8zM2646,423.8v52h1v-52zM2758.6,432.2v26h1v-26zM2361.8,388.3v8h1v-8zM2627.8,371.8v40h1v-40zM2286.7,461.1v8h1v-8zM2798.3,498.5v32h1v-32zM3209,482v16h1v-16zM3077.8,449.2v20h2v-20zM2782.8,458.6v16h4v-16zM2156.4,344.9v40h2v-40zM3491,495.9v12h1v-12zM2837,497.7v12h1v-12zM3009.6,470.2v12h1v-12zM2302.8,465.9v20h2v-20zM3486.4,432.4v12h1v-12zM2496.1,393.1v40h4v-40zM2410.9,505.1v8h1v-8zM2930.7,471.6v32h4v-32zM2769.7,464.5v52h2v-52zM3397.1,431.3v16h1v-16zM2360.4,355.4v52h1v-52zM2386.3,416.5v32h1v-32zM2505.7,378.3v26h2v-26zM2193.9,383.1v12h1v-12zM2592.7,489.2v16h4v-16zM2382.9,383.5v12h3v-12zM2939.2,420.5v52h1v-52zM2260.5,423v32h1v-32zM3211.7,473.3v28h1v-28zM2298.4,453.3v16h3v-16zM2573.1,408.7v52h1v-52zM2413.6,398.4v26h1v-26zM3590.3,547.6v12h1v-12zM3517.3,471.6v28h2v-28zM2737.2,492.2v20h1v-20zM3186.7,484.3v16h1v-16zM3067.3,403.2v20h2v-20zM3542.3,457v8h2v-8zM2686.1,430.4v12h4v-12zM2158.1,378.4v32h2v-32zM2520.4,443.5v20h1v-20zM2893,450.4v20h2v-20zM2553.1,427v16h2v-16zM2446.7,474.3v20h1v-20zM2933.3,491v16h1v-16zM3381.5,462.8v20h1v-20zM2755.2,450.4v16h1v-16zM3310.7,487.1v20h2v-20zM3324.6,466.8v16h2v-16zM2416.6,479v20h2v-20zM3381.1,505.1v8h1v-8zM2721.4,358.8v12h2v-12zM2513.1,494.6v8h1v-8z" fill="#ffb6c1"/>
<path d="M3002.9,385.4v3h1v-3zM2472.9,373.9v12h1v-5zM2951.9,518v12h2v-3zM3079.9,503.6v3h2v-8zM2825,375.8v5h2v-12zM2916.1,387v3h1v-3zM3457.9,292.3v5h1v-12zM2117.2,464.4v3h1v-12zM3549.2,554.7v5h1v-3zM2625.9,291.4v5h1v-5zM3455.8,565v3h1v-12zM3502.6,294.1v5h1v-12zM3454.1,565.5v12h2v-8zM2125.8,475.4v5h2v-5zM2160.8,462.5v12h1v-5zM2255.4,472.9v12h2v-3zM2333.8,503.4v12h2v-3zM2252.6,308.1v5h2v-12zM3449.8,292.6v3h1v-12zM2982.6,381.8v12h1v-12zM2389.5,511.9v12h1v-3zM3191.1,395.3v3h2v-5zM2670,347.3v3h1v-12zM2867.9,521.9v12h1v-12zM2842.9,429.1v5h1v-3zM3063.3,359.6v5h2v-12zM2473.4,518.2v5h1v-8zM3446.5,559.3v12h2v-5zM2208.4,313.9v8h1v-3zM2366.3,323.8v3h1v-12zM2240,333.7v3h1v-5zM3584.2,562.9v3h1v-8zM3146.4,504.8v5h2v-5zM2629.7,522.4v5h1v-3zM2846,437.4v8h2v-12zM3480.5,571.8v12h2v-3zM2570.2,357.6v5h1v-3zM3040.3,387v5h1v-8zM2603.5,321.6v3h2v-5zM3319.6,379.9v5h2v-3zM3302.5,531.4v3h2v-12zM3513.4,293.1v5h2v-3zM2302,483v12h1v-5zM2336.9,333.1v5h1v-5zM2964.2,502.7v12h1v-12zM2301.6,486v5h1v-5zM3404,550v8h1v-12zM3088.7,503.5v3h2v-3zM2516.9,515v8h1v-3zM3142.8,506.9v12h2v-5zM3580.4,317.2v5h1v-5zM2835.2,516.9v8h1v-5zM2425.5,400.3v5h2v-3zM2192.5,297.9v12h2v-5zM2614.4,524.1v3h1v-5zM2143.5,330.4v12h1v-8zM3506.4,291.2v3h1v-12zM2965.7,509.1v3h2v-5zM2353.5,508.6v3h2v-5zM2916.2,371.6v8h2v-5zM2948.3,394.5v12h1v-3zM2832,391.7v5h2v-8zM2301.7,335.8v3h1v-5zM2204.2,294v8h1v-8zM2153.4,335.1v8h1v-3zM2200.3,295.2v3h1v-12zM3048.5,521.9v5h1v-8zM2831.1,513.7v8h2v-5zM2930.8,401.1v3h2v-5zM2881.4,380.4v12h2v-5zM3219.7,404.1v5h1v-5zM3314.8,382.6v3h1v-5zM2236,325.4v5h1v-8zM2788.1,550.4v5h2v-3zM3219.6,416.4v5h1v-5zM3041,373.4v5h2v-5zM2164.1,309.7v12h2v-5zM2555.4,348.4v12h2v-8zM2619,522.9v8h2v-5zM2815.3,364.8v12h2v-12zM3378.3,359.1v5h1v-12zM2811,362v8h2v-5zM3015.7,511.3v3h2v-3zM3548,289v3h1v-3zM2173.2,319.2v5h1v-3zM3111.9,327v5h1v-8zM3443,289.1v3h2v-8zM2978.8,506.8v8h2v-12zM2125.8,473.6v12h2v-5zM3305.4,531.5v8h2v-3zM3307.9,375.9v3h2v-5zM2871.3,519v5h2v-3zM2872.4,484.7v5h1v-3zM2906.9,375.2v8h1v-12zM2549.5,518.6v3h2v-5zM3422.1,553.3v5h1v-5zM2306.5,335.7v3h1v-8zM2597.3,324.5v5h2v-3zM3146.4,347.4v3h1v-8zM2636.3,327.1v8h2v-3zM2797.4,342.9v12h2v-8zM3343.7,542v12h2v-3zM2265.4,299.2v3h2v-12zM2185.2,458.8v8h2v-8zM2586.5,332.9v8h2v-8zM2642.8,338.1v12h2v-5zM2186.9,299.2v5h2v-12zM3632.2,591.2v12h2v-8zM2524.9,527.9v8h2v-5zM2909.2,362.6v5h2v-12zM2334.4,494v3h2v-3zM2661.9,538.5v3h1v-12zM3197.8,422.1v12h2v-3zM3031.5,377.1v3h2v-12zM2428.7,537.1v12h2v-3zM2422.4,391.8v5h1v-5zM3165.6,368.4v8h2v-12zM3306.5,369.7v8h1v-8zM2963.3,370.6v12h1v-8zM2898.4,397.6v12h1v-12zM2589.2,340v3h2v-5zM3623.2,588.1v12h1v-3zM2118.7,339.2v3h2v-3zM2501.1,340.2v12h2v-8zM2364.3,505v12h1v-3zM3025.5,365.4v3h1v-12zM3209,514.2v8h1v-12zM2555.7,348.4v12h1v-8zM3193.4,518.7v3h1v-8zM2549.7,524.9v8h1v-8zM2974.7,384.4v12h1v-8zM3608.7,328.6v5h1v-5zM3313.6,532.9v8h1v-12zM3450.6,559.6v3h2v-12zM3035.8,513.9v8h1v-5zM2616.8,533.4v3h1v-5zM3376.8,357.2v5h1v-12zM2241.5,479.3v3h1v-3zM3081.1,505v5h1v-12zM2779.6,545v3h1v-12zM2133.2,478.8v5h1v-5zM3034.2,377.2v5h1v-5zM2234.6,323.4v8h1v-8zM3133.1,503.1v5h1v-3zM2890.2,396.8v3h1v-8zM2328.7,500.7v5h2v-8zM3115.8,321.5v3h1v-8zM3575,561.8v3h2v-3zM2610.6,313.9v3h2v-5zM2175.2,461.4v12h1v-8zM2279.7,482.4v5h2v-12zM2822.8,379v12h1v-8zM2799.9,534.2v5h1v-12zM3372.2,359.6v12h1v-8zM2122.1,358.8v5h2v-5zM2220.4,313.7v3h1v-5zM3320.9,376v8h1v-8zM2527.8,525.9v12h1v-3zM2821.2,369.8v12h1v-12zM3278.7,527.9v3h2v-8zM2511.6,519.3v3h1v-8zM3300.8,528.5v8h1v-12zM3365.7,338.6v5h1v-3zM2384.1,345.4v12h2v-8zM3372.8,358.6v3h1v-12zM2960,505.8v3h2v-8zM2706.5,514.6v8h2v-12zM3176,347.3v8h2v-3zM2653.4,331.9v3h2v-3zM3552.6,283.6v3h1v-12zM3269.8,530.9v12h2v-5zM2323.5,321.6v5h2v-12zM3214.6,510.1v3h1v-3zM3323.3,371.3v8h1v-3zM2287,477.7v8h1v-5zM2271.6,303.9v3h1v-5zM3045,382.3v12h1v-3zM3078.2,374.9v3h1v-3zM3029.2,512.3v12h2v-8zM2972.6,369.6v5h2v-5zM2795.7,350.2v3h2v-8zM3221.7,396.3v12h2v-3zM3181.1,366.4v8h2v-3zM2190.1,467.1v3h1v-8zM2794.3,353.9v3h2v-12zM2113.7,344.6v5h2v-3zM3093.4,360v3h1v-3zM3207.5,519.9v12h1v-3zM3565.2,289.9v8h2v-5zM2630.7,299.9v8h1v-5zM2123,341.7v5h2v-12zM3533,289.5v8h1v-5zM3628.7,350.3v5h2v-8zM2248.5,317.8v5h1v-12zM2811.1,523.8v12h2v-8zM3509.5,552.6v12h1v-12zM3269.9,368.1v8h2v-5zM2482.4,507.1v3h1v-8zM2723.4,322.6v5h1v-8zM2784.6,412.3v8h2v-5zM2170.9,460.9v5h2v-8zM2624.2,302.6v5h1v-3zM3295.1,523.4v3h2v-5zM2833.5,409.9v5h1v-3zM3064.4,382.7v5h1v-3zM2476.8,380.4v5h1v-5zM3017,388.8v3h2v-5zM2857,459v3h2v-8zM3022.3,363.9v8h2v-8zM2943,526.2v5h2v-5zM2303.7,319.6v8h2v-5zM2492.2,333.8v5h2v-8zM3004.5,509.3v12h1v-3zM3109,322.7v3h1v-3zM2244.5,316.5v12h1v-8zM3127,499.8v8h2v-12zM2225,465.6v12h2v-3zM3227,395.3v12h1v-3zM3425.2,302.2v8h2v-5zM3554.6,288.8v5h2v-3zM2657.6,336.2v12h1v-8zM2214.7,469.9v3h2v-12zM2688.3,507v8h1v-12zM3127.8,318.3v8h2v-12zM2962.6,511.6v5h2v-8zM2303.1,317.2v12h2v-3zM2414.8,531.4v3h2v-5zM2655.1,543.4v3h1v-12zM3013.1,511.7v3h1v-8zM2687.8,370.2v5h1v-3zM2935.9,517.6v5h1v-12zM2518.5,516.9v5h2v-12zM2638.5,535.7v5h2v-12zM2275.8,308.3v8h1v-12zM2253.2,474.9v5h2v-5zM3466.7,563.9v12h1v-3zM2909.3,531.3v12h2v-5zM2183.9,308.8v5h2v-3zM2540.3,371.5v8h2v-5zM2163.3,451.8v5h2v-12zM2430.8,543.8v12h1v-5zM2934.8,516.8v8h1v-3zM2252.3,300.9v8h2v-12zM2560.3,351.4v12h1v-3zM2904,544v3h1v-3zM3141.9,500v12h1v-5zM2356.9,500.8v5h1v-5zM2287.7,329.5v12h1v-12zM3549.5,552v5h2v-12zM3482.6,574.2v3h1v-12zM2932.5,514v8h2v-8zM3363.9,533.3v3h2v-5zM2146.3,460.2v12h1v-3zM2549.6,519.8v12h1v-8zM2401.7,385.7v5h1v-5zM2768.2,527.9v12h2v-3zM2796.2,545.7v8h2v-12zM2283.9,485v3h1v-3zM3471.9,302v5h1v-12z" fill="#fff"/>
<path d="M1032.6,163.1v4h3v-4zM1032.1,175.9v8h2v-8zM1033.5,158.9v12h2v-12zM1031.9,156.4v8h2v-8zM1034.8,143.1v12h2v-12zM1035.8,182v8h2v-8zM1032.7,153.5v4h2v-4zM1034.9,182.8v4h2v-4zM1035.5,163.2v4h3v-4zM1032.2,175.6v4h3v-4zM1031.3,168v12h2v-12zM1034.2,169.9v4h3v-4zM1035.6,163.7v12h3v-12zM1033.9,152.3v8h3v-8zM1066.8,168.6v12h6v-12zM1065.5,183v8h3v-8zM1070.2,177.1v8h6v-8zM1070.1,191v5h3v-5zM1069.5,176.7v2h6v-2zM1074.2,172.5v3h4v-3zM1063.3,168.7v12h6v-12zM1069.4,181.3v12h4v-12zM1061.5,180.4v3h6v-3zM1069.1,181.6v2h2v-2zM1070.3,180.3v5h4v-5zM1072.6,174.5v12h2v-12zM1069.5,185v2h3v-2zM1067.9,188v8h3v-8zM1095.9,204.9v12h3v-12zM1094.7,199.7v8h3v-8zM1094.3,196.2v12h3v-12zM1095.3,201.1v2h4v-2zM1093.4,205.4v8h2v-8zM1096.6,191.9v12h6v-12zM1092.1,199.4v2h3v-2zM1095.9,187.6v5h2v-5zM1091.9,185.7v12h6v-12zM1090.8,203.7v12h6v-12zM1051.8,212.9v8h6v-8zM1053.3,211.5v12h4v-12zM1033.3,202.5v8h2v-8zM1048,214v5h2v-5zM1039.6,201.2v12h4v-12zM1044.1,208.6v3h4v-3zM1036.7,208.5v3h2v-3zM1052.4,215.8v8h6v-8zM1060.3,217.2v8h2v-8zM1042.9,214.1v5h3v-5zM1072.7,240.7v12h6v-12zM1066.9,207.7v8h6v-8zM1070,232.8v8h3v-8zM1066.1,213.7v12h6v-12zM1076.5,215.9v4h6v-4zM1072.1,212.3v8h4v-8zM1083.1,237.6v8h4v-8zM1085.4,233.4v12h4v-12zM1082.5,213.4v4h3v-4zM1066.5,235.6v12h3v-12zM1069.5,211.3v8h4v-8zM1076.4,214.2v12h3v-12zM1071.2,220.8v4h4v-4zM1076.5,226v12h4v-12zM1074.8,233.4v4h4v-4zM1078.1,222.8v12h4v-12zM1069.1,223.9v12h4v-12zM1081.4,213.9v4h6v-4zM1072.9,240v8h3v-8zM1076.6,212.8v12h6v-12zM1067.1,220.1v8h4v-8zM1076,214.5v8h4v-8zM1076.3,241.8v8h6v-8zM1068.6,220.4v4h6v-4zM1074.6,215.9v12h4v-12zM1066,220.4v8h3v-8zM1083.7,242v4h3v-4zM1076.3,240.8v4h3v-4zM1075,235.4v12h3v-12zM1076.8,240.9v4h3v-4zM1065.7,210.6v8h6v-8zM1071.8,213.6v12h4v-12zM1073.9,231.6v8h3v-8zM1065.4,223.5v4h6v-4zM1065.9,236.1v4h3v-4zM1065.9,238.2v12h3v-12zM1084.6,210v8h6v-8zM1064.4,237.6v8h6v-8zM1084.5,218.1v4h6v-4zM1079,205v4h6v-4zM1064.9,219.9v8h6v-8zM1069.6,207.9v12h4v-12zM1064.6,232.3v8h6v-8zM1074.7,221.1v4h4v-4zM1078.5,226.7v8h3v-8zM1088.6,263.1v8h4v-8zM1102.4,297.4v12h3v-12zM1085.9,272.9v4h3v-4zM1087.5,274.8v8h4v-8zM1083.6,256.8v12h4v-12zM1080.6,254.4v4h3v-4zM1094.1,280.7v12h2v-12zM1095.2,285.5v12h2v-12zM1093.7,291.7v4h2v-4zM1080.8,249.2v8h2v-8zM1098,297.3v8h3v-8zM1087.2,262.4v12h3v-12zM1082.8,270.5v4h3v-4zM1083.4,273v8h3v-8zM1094,286.3v8h4v-8zM1082.2,265v4h4v-4zM1083.3,256.3v4h3v-4zM1078,265.3v8h4v-8zM1087.7,258.3v4h4v-4zM1076.1,251.1v4h4v-4zM1100.8,290.4v12h2v-12zM1095.5,281.7v4h4v-4zM1081.8,250.3v12h2v-12zM1089.3,256.5v12h4v-12zM1077.5,241.1v12h3v-12zM1091.4,298.6v4h3v-4zM1089.5,277.4v12h3v-12zM1080.1,255.3v8h2v-8zM1073.9,250v8h3v-8zM1089.2,287.6v12h4v-12zM1084.8,254.9v4h2v-4zM1087,263.6v12h2v-12zM1099.2,296.2v4h4v-4zM1083.4,258.8v4h3v-4zM1093.7,292.9v12h4v-12zM1071.2,247.3v12h4v-12zM1075.7,244.3v12h4v-12zM1095.6,281.7v4h3v-4zM1077.1,243.4v12h3v-12zM1089.9,286v4h3v-4zM1116.5,236.4v8h4v-8zM1114.3,232.5v2h3v-2zM1116,258.9v2h4v-2zM1118.6,236v8h2v-8zM1122.8,230.4v5h3v-5zM1110.8,231.8v2h3v-2zM1121.7,233.3v5h3v-5zM1121.5,245.3v3h2v-3zM1110.9,240.4v8h4v-8zM1110.5,242.3v5h4v-5zM1119.1,236.2v2h3v-2zM1115.7,250.6v2h3v-2zM1124.9,248.2v5h2v-5zM1110.1,252.6v3h2v-3zM1114.5,239.4v2h3v-2zM1112.3,229.3v12h4v-12zM1134,220.1v5h6v-5zM1134.9,222.5v2h6v-2zM1133.6,221.4v5h4v-5zM1106.9,271.9v8h2v-8zM1106.7,280.3v8h3v-8zM1102.1,278.8v4h3v-4zM1107,282.1v8h3v-8zM1099.2,282.1v4h3v-4zM1097.8,289.2v4h2v-4zM1098.8,277.6v4h2v-4zM1104.4,288.9v4h3v-4zM1103.3,304.2v4h2v-4zM1103,278.4v4h2v-4zM1105.6,275.5v8h2v-8zM1098.9,276.8v8h2v-8zM1342.3,217.8v6h3v-6zM1339.2,224.6v4h2v-4zM1339.8,224.1v4h3v-4zM1344.7,221.4v2h2v-2zM1346,222.2v2h3v-2zM1346.1,214.9v2h3v-2zM1348.4,220.3v4h3v-4zM1343.1,221.3v6h2v-6zM1373.2,212.7v6h2v-6zM1369.8,217v4h3v-4zM1370.3,219.2v2h3v-2zM1373.5,217.4v4h2v-4zM1374.7,236.8v4h3v-4zM1377.3,236.3v4h3v-4zM1378,236v4h2v-4zM1378.2,237.9v6h3v-6zM1478.3,188.9v4h3v-4zM1479.4,186v2h3v-2zM1479.8,192.1v6h2v-6zM1480.5,188.4v4h2v-4zM1348.6,118.2v6h3v-6zM1354,119v4h3v-4zM1349.4,128v2h3v-2zM1349,119.4v6h2v-6zM1343,349.1v6h2v-6zM1340.5,348.9v4h3v-4zM1339.8,343.4v4h2v-4zM1345.7,346.3v4h3v-4zM1498.2,367.8v2h3v-2zM1496.2,359.7v6h2v-6zM1492.4,362.8v4h3v-4zM1496.3,363.5v4h2v-4zM1934,311.9v4h3v-4zM1940.4,313.7v2h2v-2zM1938,307.7v6h3v-6zM1940.1,310.3v2h3v-2zM1973.5,324.1v6h3v-6zM1972.7,327.1v4h2v-4zM1971.3,323.8v6h3v-6zM1966.8,330.1v4h2v-4zM1994.7,328.5v6h2v-6zM2000.2,329.8v4h3v-4zM2000.4,327.3v4h3v-4zM1999.8,332.3v4h2v-4zM2018.4,381.4v4h3v-4zM2011.8,388.9v2h3v-2zM2018,389v2h3v-2zM2014.4,381.8v4h3v-4zM1968.4,389.5v2h3v-2zM1968.4,390.6v6h3v-6zM1971,389.8v6h3v-6zM1970.7,387.4v4h2v-4zM1971,409.4v4h2v-4zM1970.1,404.1v2h3v-2zM1971.1,406.8v2h2v-2zM1966.4,407.3v4h3v-4zM2020.7,411.6v4h3v-4zM2028.1,420.6v2h3v-2zM2022,412.6v2h2v-2zM2023.7,416.5v2h3v-2zM2818.2,155.7v2h2v-2zM2818.4,154.7v2h3v-2zM2815.1,158.6v2h2v-2zM2812.8,157.8v2h3v-2zM2957,139.1v2h3v-2zM2950.4,130v6h2v-6zM2955.7,130.7v6h3v-6zM2952.6,135.3v4h3v-4zM2855.5,240.6v4h3v-4zM2853.2,239v6h2v-6zM2854.3,234.8v2h3v-2zM2854.3,232.3v6h2v-6zM2952.5,216.1v6h3v-6zM2955.8,213.5v4h2v-4zM2955.9,213.9v6h2v-6zM2954.5,214.6v4h2v-4zM3295.3,239.7v4h3v-4zM3292.8,243.3v2h2v-2zM3293.9,239.3v6h3v-6zM3297.2,239.4v6h2v-6zM1463.5,114.3v4h3v-4zM1580.7,117v4h3v-4zM1505.9,114.2v2h3v-2zM1474.8,116.6v4h5v-4zM1486,113.4v4h5v-4zM1514.9,115.5v4h8v-4zM1611.9,117.2v4h8v-4zM1552.2,117.9v3h8v-3zM1528.9,112.4v2h8v-2zM1533.6,115.1v2h5v-2zM1573.3,116.2v3h3v-3zM1464.7,113.4v3h3v-3zM1542.4,113.5v2h3v-2zM1484.6,111.6v4h8v-4zM1464.8,117.7v4h8v-4zM1526.1,113.6v4h8v-4zM1481.7,119.6v2h5v-2zM1507.5,114.8v3h3v-3zM1596.8,119.2v2h8v-2zM1507.1,111.1v4h8v-4zM1613,114.1v4h8v-4zM1497.4,113v3h8v-3zM1488,115.3v3h5v-3zM1584.8,117.7v3h3v-3zM1581,113.1v4h8v-4zM1580.7,117.1v2h8v-2zM1474.5,113.7v3h3v-3zM1513.5,117.6v3h8v-3zM1535.7,114.3v3h5v-3zM1474,115.6v4h8v-4zM1518.4,118.7v4h3v-4zM1597.3,112.2v2h8v-2zM1512.8,114.1v4h8v-4zM1509.6,112.9v2h5v-2zM1517.2,113.7v4h3v-4zM1598.6,112.2v4h8v-4zM1567.8,117.6v3h8v-3zM1483.9,116v4h5v-4zM1458,112v4h5v-4zM1495.5,117.9v4h5v-4zM1594.2,116.2v4h3v-4zM1582.3,112.5v2h5v-2zM1455.9,112.4v4h8v-4zM1574.8,118v4h8v-4zM1490.8,115.3v4h3v-4zM1561.5,114v2h8v-2zM1605.3,114.2v2h8v-2zM1590.5,117.6v2h8v-2zM1460,118.2v4h8v-4zM1487.7,116v2h5v-2zM1609.5,114.5v2h3v-2zM1617.8,117.9v4h3v-4zM1575.9,117v3h3v-3zM1528.1,114.5v2h8v-2zM1555.3,111.7v4h8v-4zM1515.6,118.2v4h3v-4zM1521.1,113.9v4h3v-4zM1607.5,112.7v2h8v-2zM1551.6,111.4v4h3v-4zM1557.5,112.1v4h8v-4zM1954.1,112.2v2h5v-2zM1946.1,112.2v2h5v-2zM1935.6,121.6v4h3v-4zM1936.1,121.4v3h3v-3zM1965.1,120.3v2h3v-2zM1958.2,118.3v4h5v-4zM1939,122.5v3h3v-3zM1955.5,124.5v2h3v-2zM1948.8,110.7v4h5v-4zM1944.9,122.9v4h3v-4zM1938,120.4v3h3v-3zM1952.9,117.7v3h5v-3zM1937.3,117.6v3h3v-3zM1960.4,120.6v3h5v-3zM1952,116.1v3h5v-3zM1943.5,113.3v4h5v-4zM1922.1,121.5v2h3v-2zM1952,120.9v4h3v-4zM1936.9,113.6v4h5v-4zM1931.9,117.5v2h5v-2zM1941.9,118.1v3h3v-3zM1939.4,124.7v2h5v-2zM2513.6,129.8v2h5v-2zM2543.9,132.7v2h3v-2zM2537.6,118.5v4h5v-4zM2504.9,112.9v3h5v-3zM2516.9,117.1v2h5v-2zM2524.9,125.4v2h3v-2zM2543.9,131.4v2h3v-2zM2513.5,112.4v2h5v-2zM2498.4,127.3v3h5v-3zM2510.5,127.2v3h3v-3zM2527.9,128v4h5v-4zM2540.7,131.5v3h3v-3zM2541.5,116.4v4h3v-4zM2543,127.8v4h3v-4zM2503.8,114.4v3h5v-3zM2542.2,111.7v4h3v-4zM2526.3,110.3v4h3v-4zM2536.8,120.9v3h5v-3zM2510.3,130.5v3h3v-3zM2489,123.3v4h5v-4zM1386,360.2v14h6v-14zM1398.1,314.3v10h3v-10zM1392.4,316.5v14h6v-14zM1385.7,347.9v14h6v-14zM1385.9,324.1v14h4v-14zM1389.1,340.7v6h4v-6zM1392.1,384.4v6h3v-6zM1392.4,320.6v14h3v-14zM1391.4,345.3v10h4v-10zM1385.7,319.1v6h3v-6zM1385.2,338.6v14h4v-14zM1396,342.8v6h3v-6zM1391,390.4v10h6v-10zM1387.8,379v10h3v-10zM1387.6,374.1v10h6v-10zM1392.6,346.6v10h3v-10zM1392.6,350.8v6h3v-6zM1395.2,332.8v10h4v-10zM1385.8,360.5v14h6v-14zM1390.7,348v10h4v-10zM1385.1,387v10h4v-10zM1394.7,377.5v6h6v-6zM1396.2,334.2v14h6v-14zM1387.8,395v10h3v-10zM1398.1,347.5v14h4v-14zM1388,387.1v6h3v-6zM1394.5,375.5v10h4v-10zM1396.9,355.7v10h6v-10zM1397.9,376.4v6h6v-6zM1387.8,335.4v10h4v-10zM1394.1,347.7v10h3v-10zM1397,362.7v14h3v-14zM1397.9,334.2v6h3v-6zM1397.5,392.3v6h3v-6zM1396.9,350v14h6v-14zM1385.6,389.2v6h3v-6zM1396.6,348.7v6h3v-6zM1398.1,383.9v6h4v-6zM1396.6,352.2v6h6v-6zM1397.8,360.6v10h4v-10zM1552,333.1v5h2v-5zM1550.3,317.6v3h6v-3zM1554.3,317.8v3h3v-3zM1562.1,330.3v3h2v-3zM1568.4,307v12h4v-12zM1547.9,329.7v5h3v-5zM1545.5,306.9v12h2v-12zM1551.6,319.8v12h4v-12zM1570,322.2v2h2v-2zM1563.1,321.6v5h2v-5zM1570.8,344.2v5h3v-5zM1558.3,310.5v3h2v-3zM1550.4,316.7v12h2v-12zM1566,332.3v8h4v-8zM1636.2,376.1v10h4v-10zM1631.6,338.2v10h3v-10zM1639,323.7v14h2v-14zM1652.9,393.2v6h4v-6zM1644.6,398v6h3v-6zM1639.7,365.4v10h2v-10zM1650.5,411.3v14h4v-14zM1635.9,348.6v14h2v-14zM1638.7,384.6v6h3v-6zM1654.9,417.1v14h2v-14zM1638.1,357.7v6h2v-6zM1643.7,377.6v14h4v-14zM1651.3,417.7v6h4v-6zM1641.7,356.1v6h4v-6zM1654,402.7v10h2v-10zM1635.7,366.4v14h2v-14zM1619.2,307.2v14h4v-14zM1650.3,391.9v14h3v-14zM1644.9,398.2v10h4v-10zM1636.2,356v10h4v-10zM1656.5,420.8v14h2v-14zM1654,425v14h2v-14zM1640.8,361v6h4v-6zM1652.4,426.5v14h4v-14zM1647.4,418.5v10h3v-10zM1626.4,320.9v6h2v-6zM1650.4,390.5v14h2v-14zM1645.4,388.4v10h4v-10zM1632.3,310.9v14h4v-14zM1634.1,349.1v6h4v-6zM1634.3,347v6h3v-6zM1633,334.1v10h3v-10zM1635.5,346.1v10h2v-10zM1620.5,312.2v10h4v-10zM1637.4,376.8v14h3v-14zM1650.8,397v6h3v-6zM1642,382.5v10h2v-10zM1631.1,334.7v14h3v-14zM1652.8,404.5v6h2v-6zM1630.1,326.5v14h2v-14zM1626,321.9v6h2v-6zM1647.3,398.2v10h3v-10zM1639.2,357.7v14h3v-14zM1657.5,419.7v6h4v-6zM1655.8,418.3v14h3v-14zM1624.7,339.6v14h4v-14zM1635.2,346.2v14h3v-14zM1642.9,383.4v6h4v-6zM1621.2,310.5v6h3v-6zM1640,331.6v14h3v-14zM1650,402.3v10h4v-10zM1654,436.2v6h2v-6zM1659.8,425.6v14h2v-14zM1627.5,326.3v6h2v-6zM1628.6,334.9v14h4v-14zM1692.2,162.1v12h2v-12zM1696.2,168.2v3h6v-3zM1683.2,156.6v5h2v-5zM1692.3,165.8v5h2v-5zM1697,169.5v5h6v-5zM1691.5,166.1v2h3v-2zM1675.9,158.5v12h2v-12zM1698.8,160.6v12h4v-12zM1692.8,167.1v8h3v-8zM1695.3,161.4v12h4v-12zM1689.9,166v3h4v-3zM1696.7,163.5v3h3v-3zM1689.1,162v12h6v-12zM1697.6,169.2v3h6v-3zM1691.8,174.4v8h6v-8zM1727.5,144.8v5h6v-5zM1718.2,145.8v5h6v-5zM1748.2,148.1v8h6v-8zM1755.6,144v3h2v-3zM1770.3,143.9v5h3v-5zM1773.4,135.2v8h4v-8zM1727.2,152.8v5h2v-5zM1748.3,159.8v5h2v-5zM1707.1,159.2v5h4v-5zM1735.7,140.4v5h2v-5zM1734.2,153.5v5h2v-5zM1767.2,136.6v8h2v-8zM1753.1,133.4v5h3v-5zM1715,148.9v3h6v-3zM1776.7,143.6v3h4v-3zM1746.1,147.5v8h2v-8zM1771.3,141.2v5h6v-5zM1741.1,147.8v3h4v-3zM1732.7,133.1v5h4v-5zM1721.9,152.8v8h3v-8zM1775.2,154.5v8h4v-8zM1785.8,153.8v5h4v-5zM1734.1,143.9v5h2v-5zM1731.1,143.7v5h2v-5zM1775,140.8v8h4v-8zM1695.1,158.3v5h6v-5zM1786,148.7v8h4v-8zM1720.5,158v5h2v-5zM1746.5,147.6v5h6v-5zM1759.7,135.9v5h2v-5zM1759.7,142.9v8h3v-8zM1716.1,156.9v8h3v-8zM1745.3,137.9v3h6v-3zM1769.4,141.2v5h2v-5zM1773.4,130.8v8h3v-8zM1714.4,158.2v5h6v-5zM1750.3,141.9v8h2v-8zM1703.9,162.1v5h6v-5zM1757.8,143.2v5h6v-5zM1723.5,140.4v8h2v-8zM1709.6,163.1v8h4v-8zM1705.2,156.3v5h2v-5zM1738.6,135.8v3h4v-3zM1733.7,142.9v3h3v-3zM1711.8,163.9v8h3v-8zM1760.4,135v8h2v-8zM1718.1,153.5v3h6v-3zM1766.5,144.2v8h2v-8zM1761.9,140.6v5h2v-5zM1770.9,144.5v8h3v-8zM1730.1,147.9v8h3v-8zM1724,145.6v3h3v-3zM1716.5,157.2v3h4v-3zM1737,139.9v5h3v-5zM1779,140.9v3h4v-3zM1706.4,157.3v3h6v-3zM1736.8,144.1v8h6v-8zM1729.6,153.7v3h6v-3zM1699.3,164.6v3h3v-3zM1756.7,134.4v5h3v-5zM1759.7,143.5v5h2v-5zM1700,164.1v3h2v-3zM1766.8,132v3h2v-3zM1756.5,132.8v8h4v-8zM1726.1,155.5v8h3v-8zM1720.8,155v3h3v-3zM1769.4,133.1v3h4v-3zM1739.4,145.3v8h4v-8zM1723.1,151.2v3h6v-3zM1719.2,151.2v8h6v-8zM1692.6,167.8v5h6v-5zM1758.5,143.2v8h4v-8zM1720.7,144.7v5h2v-5zM1718.8,157.7v8h3v-8zM1768.7,140.4v3h3v-3zM1720.3,155.5v8h2v-8zM1737,135.9v3h3v-3zM1713.3,154.4v3h4v-3zM1758.7,145.4v3h4v-3zM1713.9,160.6v3h4v-3zM1704.7,156.8v8h4v-8zM1771,133.2v8h2v-8zM1742.8,141.5v3h4v-3zM1760.8,145.2v3h6v-3zM1747.9,148.7v3h3v-3zM1736.6,139.9v8h2v-8zM1775.7,147.3v3h6v-3zM1776.3,156.3v3h3v-3zM1718.6,137.3v3h6v-3zM1799.8,160.4v4h6v-4zM1827.6,149.5v8h4v-8zM1811.5,153.4v4h3v-4zM1808.4,151.9v12h4v-12zM1820.3,160.7v4h3v-4zM1834.9,143.6v4h4v-4zM1832.7,145v12h3v-12zM1822,147.4v8h2v-8zM1807,164.3v4h6v-4zM1803.7,142.5v8h3v-8zM1794.3,163v4h4v-4zM1819.3,149.5v12h3v-12zM1789.6,150v12h3v-12zM1829.4,146.5v4h6v-4zM1802.4,161.5v8h3v-8zM1824.1,144.2v4h4v-4zM1775.6,158.3v8h6v-8zM1834.2,155.5v12h6v-12zM1823.6,159.8v4h2v-4zM1799.2,152v4h4v-4zM1805.9,162.8v4h3v-4zM1821.1,152.4v4h3v-4zM1832.8,158.6v12h3v-12zM1845.2,141.3v8h6v-8zM1779.2,171.7v4h4v-4zM1840.8,148.3v4h2v-4zM1813.1,161.9v8h4v-8zM1859.3,151.1v4h3v-4zM1786.2,163.9v8h4v-8zM1844.9,152.6v12h4v-12zM1783,158.5v8h4v-8zM1785.5,166.3v12h3v-12zM1805,157.1v12h2v-12zM1858.3,150.7v12h2v-12zM1775.5,165.9v12h3v-12zM1815.8,161.6v8h3v-8zM1819.6,154.8v12h4v-12zM1828.8,157.7v8h2v-8zM1833.2,159.2v4h6v-4zM1808.2,153.8v12h2v-12zM1791.6,158.2v12h3v-12zM1777.9,166.8v8h4v-8zM1780.6,147.9v12h4v-12zM1798.8,153.6v12h4v-12zM1795.6,160.4v12h2v-12zM1796.1,178.5v12h3v-12zM1804.3,158.2v12h3v-12zM1844.9,138.5v12h4v-12zM1825.3,150.6v12h6v-12zM1798.2,158.7v12h3v-12zM1829.3,144.2v4h4v-4zM1792.1,156.8v8h2v-8zM1821.1,157.1v8h3v-8zM1838.6,157.3v4h3v-4zM1770.4,157.8v12h4v-12zM1848.9,146.2v4h6v-4zM1854.2,156v4h6v-4zM1818.2,153.1v8h2v-8zM1841.2,142v12h6v-12zM1842,152.2v8h3v-8zM1844.9,156.8v8h4v-8zM1834.3,160.7v8h6v-8zM1816.7,154v4h4v-4zM1787.8,163.8v8h4v-8zM1815,155.9v4h4v-4zM1814.9,151.4v4h4v-4zM1826.7,146v12h2v-12zM1839.7,161.3v12h4v-12zM1798,152.7v4h6v-4zM1815.9,158.9v8h4v-8zM1816.8,149.2v4h4v-4zM1843.9,145.5v8h3v-8zM1800.4,159.6v12h4v-12zM1853.1,150.7v8h2v-8zM1780.5,159.3v4h3v-4zM1785.8,156.6v4h3v-4zM1794.8,153.1v4h6v-4zM1786.9,160.9v4h4v-4zM1835.4,138.7v4h6v-4zM1817.6,157.8v12h4v-12zM1827.7,152.7v12h6v-12zM1826.2,144v12h4v-12zM1815.7,156.8v12h6v-12zM1800.8,155.8v4h6v-4zM1830.9,142.6v8h2v-8zM1851,145.9v12h2v-12zM1800.1,156.1v4h6v-4zM1785.8,177.3v4h4v-4zM1850.6,160.7v4h6v-4zM1836,153.3v8h6v-8zM1797.8,156.9v4h4v-4zM1818.5,166.4v4h4v-4zM1796,160.1v4h3v-4zM1828.6,162.8v12h4v-12zM1803.6,164.3v12h2v-12zM1829,153.5v4h6v-4zM1803.6,162.5v8h2v-8zM1792.7,155.9v8h2v-8zM1809.6,159.2v4h2v-4zM1816.4,151.1v12h2v-12zM1783.8,162.2v8h6v-8zM1829.9,142v4h3v-4zM1820.5,154.7v8h4v-8zM1835.6,156.9v12h4v-12zM1769,167.6v12h6v-12zM1788.3,170.3v4h6v-4zM1824.8,148.8v12h3v-12zM1800.8,156.7v8h2v-8zM1773.7,161.6v4h4v-4zM1784.7,159.2v8h6v-8zM1824,144.7v8h2v-8zM1818.2,158.7v4h3v-4zM1798.8,169.5v12h6v-12zM1786.3,152.8v12h6v-12zM1786.4,160.2v8h3v-8zM1849,147.8v8h4v-8zM1841.7,144.3v12h2v-12zM1793.7,165.9v8h2v-8zM1820.5,154.7v12h3v-12zM1845.7,147.8v12h2v-12zM1817.7,148.1v12h4v-12zM1833.6,155.1v8h4v-8zM1825.5,154.8v8h4v-8zM1823.4,152.1v8h2v-8zM1832.4,148.1v12h3v-12zM1820.6,149.9v4h6v-4zM1822.7,164.5v12h4v-12zM1793,162v12h2v-12zM1837.6,144v12h6v-12zM1799.1,149.8v12h2v-12zM1854.3,151.7v8h3v-8zM1778.6,165.1v4h6v-4zM1790.9,165.8v4h3v-4zM1829.9,156.1v8h2v-8zM1828.2,148.3v4h4v-4zM1790.5,164.9v4h4v-4zM1841.3,160.2v8h6v-8zM1802.1,148.6v8h6v-8zM1840,165.7v12h6v-12zM1842.4,156.4v12h6v-12zM1802.3,169.6v4h3v-4zM1839.4,154.5v4h6v-4zM1781,152.3v8h6v-8zM1822.1,153v4h2v-4zM1824.5,150.2v12h3v-12zM1851,153.5v4h4v-4zM1815.8,161.1v4h6v-4zM1780.5,164.4v8h4v-8zM1836.1,155.5v4h4v-4zM1831.4,154.4v4h2v-4zM1905.8,215.5v12h3v-12zM1913,252v4h3v-4zM1883.3,185.5v8h2v-8zM1888.3,183.4v8h2v-8zM1897,209.5v4h2v-4zM1905.7,220.3v8h3v-8zM1878.7,180.1v12h2v-12zM1869.5,158.8v12h2v-12zM1915.2,250.2v4h4v-4zM1886.7,181.7v12h3v-12zM1912.3,234v12h4v-12zM1876.8,183.7v8h4v-8zM1904,214.9v12h3v-12zM1867.8,154v12h2v-12zM1895.6,202.9v8h4v-8zM1907.7,226.8v8h3v-8zM1911.1,218v12h4v-12zM1903.4,210.9v12h4v-12zM1877.9,178.2v12h3v-12zM1891.6,202.3v12h4v-12zM1882.8,178.9v12h2v-12zM1913.2,232.7v4h3v-4zM1892.1,192.5v8h3v-8zM1876.5,158.5v12h4v-12zM1918.2,242.5v4h3v-4zM1914.6,231.3v4h2v-4zM1886.9,194.7v4h3v-4zM1885.3,188.3v12h2v-12zM1875.2,175.2v8h4v-8zM1906.1,218.2v4h4v-4zM1883.8,176.1v12h4v-12zM1898.5,201.6v8h4v-8zM1913.9,228.3v12h2v-12zM1879.8,183v8h2v-8zM1884.8,179.3v4h3v-4zM1914.1,233.3v8h2v-8zM1894.4,199.4v12h3v-12zM1870.4,166.1v4h3v-4zM1872.5,172.9v8h4v-8zM1861.5,168v8h2v-8zM1882.2,178.7v8h3v-8zM1866.6,168.6v12h4v-12zM1881.4,180.3v4h2v-4zM1860.8,162.7v12h3v-12zM1906.6,228.1v8h4v-8zM1916,242.1v8h4v-8zM1911,232.7v8h3v-8zM1881.8,173.6v4h2v-4zM1912.9,222.2v12h4v-12zM1912.7,239.7v4h4v-4zM1909.9,225.3v4h4v-4zM1914.1,231.8v8h4v-8zM1923.6,252.4v12h2v-12zM1889.4,185.6v12h2v-12zM1880,181.2v4h3v-4zM1872,165.6v4h3v-4zM1924.3,243.7v12h4v-12zM1901.6,204.1v4h3v-4zM1897.9,204.4v4h4v-4zM1907.1,217.6v12h4v-12zM1864.2,157.1v12h4v-12zM1893.5,205.1v4h4v-4zM1913,233.1v12h3v-12zM1910.2,227v12h4v-12zM1905.9,210.5v4h4v-4zM1876,171.6v8h4v-8zM1889,190.2v12h2v-12zM1901.5,211.9v4h2v-4zM1908.5,235.4v4h4v-4zM1896.5,208.7v8h4v-8zM1895,197.8v12h2v-12zM1926.7,251.6v12h2v-12zM1896.9,195.3v12h3v-12zM1913.6,244.1v4h3v-4zM1878.9,168.3v8h3v-8zM1903.5,203.6v4h2v-4zM1861.6,155.6v12h4v-12zM1895.5,194.5v8h4v-8zM1908.5,220.3v8h2v-8zM1869.4,172.5v4h3v-4zM1863.9,205.2v8h6v-8zM1865.1,211.4v3h3v-3zM1862.7,203.9v3h3v-3zM1859.9,205.1v2h4v-2zM1861.8,208.3v2h3v-2zM1867.1,198.3v8h4v-8zM1858.4,196.5v5h6v-5zM1865.4,206.3v2h4v-2zM1862.4,198.8v3h3v-3zM1865,209.4v3h3v-3zM1974.4,152.3v2h6v-2zM1965.1,179.4v5h2v-5zM1977.1,168.6v8h6v-8zM1994.8,154.9v2h2v-2zM2005,163.3v8h6v-8zM1970.9,166.8v5h2v-5zM1989.4,157.4v8h6v-8zM1973.2,180.3v12h6v-12zM2007.2,181.6v2h4v-2zM1996.8,183.4v5h6v-5zM2000.7,185.3v3h4v-3zM1967.4,181.3v2h3v-2zM1975.1,157.7v12h4v-12zM1972.6,173.6v12h2v-12zM1984.2,181.4v12h4v-12zM1988.3,156v12h2v-12zM1966.3,168.1v5h2v-5zM2006.7,182.2v3h3v-3zM1965.2,172.6v2h3v-2zM2007,175.5v3h4v-3zM1977.2,156.3v8h4v-8zM1969.2,161.5v2h4v-2zM2018.9,204.8v8h2v-8zM2030.4,203.9v8h6v-8zM2000.7,176.4v12h3v-12zM2011.4,181.5v2h4v-2zM2023,192.2v2h4v-2zM2007.8,180v5h2v-5zM2006.8,202.6v12h6v-12zM2006.9,203.5v12h3v-12zM2005.5,204v5h4v-5zM1992.4,204.3v8h6v-8zM2019.7,213.9v2h2v-2zM2015.4,181.3v3h2v-3zM2019.7,207.5v8h4v-8zM2025,207.7v5h3v-5zM2028.3,200.5v3h3v-3zM2021.1,198.7v3h2v-3zM2026.8,201.9v3h2v-3zM2000,205.7v12h6v-12zM2015.6,197.6v2h2v-2zM2010.4,200.2v5h3v-5zM2016.3,212.5v2h4v-2zM2014.8,179.1v8h3v-8zM2018.1,195.8v12h2v-12zM1989.4,198.7v2h3v-2zM2019,197.9v3h2v-3zM2035.6,180.1v8h6v-8zM2020.6,201.6v5h6v-5zM1995.5,177.5v12h3v-12zM2013.3,193.4v8h3v-8zM2021.2,179.6v3h2v-3zM2028,203.3v8h3v-8zM2058.6,236v8h4v-8zM2068.1,248.7v3h3v-3zM2041.4,217.8v3h2v-3zM2084.8,270.9v5h2v-5zM2091.6,281.7v8h4v-8zM2067.7,240.8v8h2v-8zM2086,267.9v5h2v-5zM2096.7,296.3v8h3v-8zM2022.8,200.6v3h4v-3zM2071,237.4v8h4v-8zM2094.2,276v3h2v-3zM2100.3,286.4v8h2v-8zM2079.8,274.1v8h2v-8zM2045.1,216.1v5h4v-5zM2071.1,239.1v8h3v-8zM2080.4,276.4v5h2v-5zM2044.4,221.4v5h2v-5zM2027,201v3h2v-3zM2038,207.7v5h4v-5zM2051.3,228.8v8h3v-8zM2072.3,250.4v5h2v-5zM2032.8,208.1v3h3v-3zM2073.1,242.9v8h3v-8zM2036.4,213.7v5h3v-5zM2047.9,216.2v3h2v-3zM2044.9,209.5v5h3v-5zM2090.5,272.3v5h2v-5zM2081,267.9v5h3v-5zM2090.2,282v3h3v-3zM2046.1,218.1v5h2v-5zM2053.9,225.9v8h2v-8zM2081.6,278.8v5h3v-5zM2074.8,260.7v5h2v-5zM2041.8,201.6v5h3v-5zM2078.8,256.7v5h4v-5zM2097.3,290.5v8h3v-8zM2097.1,296.6v3h3v-3zM2039.4,202.9v5h4v-5zM2057.2,233.1v8h3v-8zM2050.9,220.9v8h3v-8zM2055.1,234.8v3h3v-3zM2033.5,205.4v3h3v-3zM2076.7,254.9v5h4v-5zM2043.6,213.8v3h2v-3zM2070.2,246.8v5h3v-5zM2094.9,280.7v5h2v-5zM2041,213.9v8h2v-8zM2082.4,266.5v3h2v-3zM2049.2,217.9v5h4v-5zM2050,216.6v3h3v-3zM2086.7,280.4v5h3v-5zM2091.4,275v8h3v-8zM2070.2,248.9v5h2v-5zM2088,282.1v3h3v-3zM2076.4,269.9v5h4v-5zM2067.7,241.9v8h4v-8zM2060.6,229.8v3h4v-3zM2039.9,207.5v8h4v-8zM2097.6,281.5v8h4v-8zM2079.1,268.9v8h4v-8zM2089.3,281.8v8h4v-8zM2040.5,222.8v5h2v-5zM2057.3,234.2v8h2v-8zM2046,225v5h3v-5zM2076.6,258.5v5h4v-5zM2087.5,263.9v8h2v-8zM2038.7,206.6v8h3v-8zM2084.5,257.4v3h4v-3zM2027.5,198.2v3h4v-3zM2091.3,279.2v8h4v-8zM2054.2,227.9v3h4v-3zM2038.9,218.7v3h2v-3zM2086.3,274v5h4v-5zM2078.3,273.4v5h4v-5zM2096.2,274.4v8h2v-8zM2085.1,262.5v5h4v-5zM2058.4,231.9v5h4v-5zM2049.6,228.1v3h2v-3zM2061.5,241.4v5h3v-5zM2034.4,204v3h4v-3zM2070.6,248.3v5h4v-5zM2029.5,199.9v8h3v-8zM2032.4,212.3v8h2v-8zM2032.7,204.3v8h3v-8zM2065.7,248.5v3h4v-3zM2030.9,204.9v3h2v-3zM2065.1,236.6v8h3v-8zM2069.4,256.7v3h2v-3zM2065.8,259.4v8h2v-8zM2041.9,211.7v5h3v-5zM2048.2,218.7v3h4v-3zM2057.3,214.6v3h3v-3zM2072.9,252.3v5h4v-5zM2095,280v8h2v-8zM2073.1,262.9v5h2v-5zM2034,199.2v8h2v-8zM2072.8,269v5h3v-5zM2087.9,276.9v5h4v-5zM2042.4,215.3v3h4v-3zM2102,296.7v8h2v-8zM2027,196.8v8h3v-8zM2063.5,244.3v3h2v-3zM2087.1,270.3v5h3v-5zM2068.6,256.3v8h3v-8zM2093.7,282.4v5h3v-5zM2042.5,232.7v3h2v-3zM2049.2,227.3v5h2v-5zM2079.5,249v5h3v-5zM2097.8,300.1v3h3v-3zM2076.1,245v8h3v-8zM2064.4,244.3v8h3v-8zM2028.6,191.3v3h3v-3zM2064.7,253.9v3h4v-3zM2069.4,239.5v8h3v-8zM2050.9,222.8v8h2v-8zM2090.2,275.6v8h3v-8zM2037.5,209.9v3h2v-3zM2039,209.1v8h4v-8zM2094.5,286.7v5h3v-5zM2034.3,196.8v4h4v-4zM2022.6,235.9v4h3v-4zM2029,202.7v2h2v-2zM2003.8,218.8v6h2v-6zM2009.9,210.7v6h3v-6zM2022.3,215.7v4h4v-4zM2033.6,203.6v4h4v-4zM2007.2,251.6v6h4v-6zM2032.5,201.2v2h2v-2zM2022.4,238.4v4h2v-4zM2000.1,252.4v4h3v-4zM2002.7,209.1v6h3v-6zM2036.6,243.3v2h2v-2zM2015.8,252.7v6h2v-6zM2023.3,195.3v4h4v-4zM2043.5,256.3v4h4v-4zM2002.4,225v2h4v-2zM2033.7,193.7v6h4v-6zM2011.8,238.5v6h3v-6zM2018.9,211.8v4h2v-4zM2030.9,194.5v4h4v-4zM2022,238.1v2h4v-2zM2040.6,239.9v4h4v-4zM2027.1,241.5v4h3v-4zM2007.6,199.1v4h3v-4zM2016.1,236v2h3v-2zM2006.4,226v4h3v-4zM2023.8,201.1v4h3v-4zM2039.6,210v4h4v-4zM2044.3,226.8v6h4v-6zM2046.7,194v6h2v-6zM2009.5,203.8v6h2v-6zM2002.9,253.7v2h3v-2zM2007.8,227.8v2h2v-2zM2029.8,248.2v2h4v-2zM2039.9,239.3v4h2v-4zM2018.6,214v6h2v-6zM2013.1,236v4h4v-4zM2033.3,199.3v2h4v-2zM2018.4,230.4v2h3v-2zM2024.9,206.5v2h2v-2zM2005.5,244.1v2h4v-2zM2032.4,214.8v4h4v-4zM2003.7,223.8v4h2v-4zM2045.7,199.7v2h3v-2zM2047.5,204.8v6h4v-6zM2011.4,226.6v6h4v-6zM2040.7,237.6v6h3v-6zM2028.9,218.3v6h2v-6zM2026.5,231.6v2h4v-2zM2043.5,227v2h4v-2zM2005.6,249.5v2h4v-2zM2019.4,254.2v2h3v-2zM2040.2,196.1v6h4v-6zM2037.1,248.9v4h3v-4zM2090.2,226.8v5h2v-5zM2062,236.1v5h4v-5zM2085.4,224.8v5h4v-5zM2083.6,222v8h2v-8zM2087.4,228.9v3h2v-3zM2044.3,259.4v3h4v-3zM2087.6,230.5v3h2v-3zM2057.6,257.2v8h3v-8zM2052.7,217.3v8h4v-8zM2080.9,239v8h4v-8zM2054,267.2v3h4v-3zM2083.9,226.3v8h3v-8zM2047.7,256.6v3h2v-3zM2045.2,228.9v5h4v-5zM2086.3,228.2v3h2v-3zM2092.2,225.1v8h4v-8zM2073.2,266.1v8h2v-8zM2085.8,283v5h3v-5zM2068.2,266.8v3h2v-3zM2065.2,270.4v5h2v-5zM2040.5,224v5h3v-5zM2066.1,284.5v5h2v-5zM2068.4,219.7v5h2v-5zM2051,254.9v5h4v-5zM2090.4,229.3v8h4v-8zM2079.1,255.5v8h3v-8zM2049.6,222.7v5h2v-5zM2095.4,225.8v3h3v-3zM2072.4,231.4v3h2v-3zM2055.8,221.3v8h4v-8zM2056.9,217.2v8h4v-8zM2041.3,215.1v3h4v-3zM2045.2,269.8v5h2v-5zM2077,242.2v5h2v-5zM2040.7,239.5v8h4v-8zM2043.9,243.6v8h4v-8zM2069.2,253.8v3h4v-3zM2087.7,244.8v8h2v-8zM2063.4,221.8v8h2v-8zM2046.2,221.4v8h4v-8zM2072.8,276.2v3h3v-3zM2040.4,269.1v8h3v-8zM2059.4,278.5v8h2v-8zM2042.4,277.7v5h3v-5zM2040.6,230.9v8h4v-8zM2048.1,276.3v8h4v-8zM2053.3,239.4v5h2v-5zM2088.8,237.5v3h2v-3zM2093,250.8v3h4v-3zM2048.6,278.4v3h3v-3zM2066.6,248.6v5h3v-5zM2051.5,252v3h3v-3zM2055.6,219.3v3h2v-3zM2041.9,249.5v5h4v-5zM2078,224.3v8h3v-8zM2042.7,284.9v8h3v-8zM2070.9,284v5h4v-5zM2082.9,217.5v5h2v-5zM2077,218.1v5h4v-5zM2080.9,225.2v8h4v-8zM2068.5,285.8v8h3v-8zM2086.4,286.6v5h4v-5zM2071,230.4v3h3v-3zM2076.7,268.7v3h2v-3zM2047.3,261v8h3v-8zM2053.7,287.1v5h2v-5zM2041.3,223.4v8h2v-8zM2040.4,245.5v3h2v-3zM2093.9,282.4v5h4v-5zM2070.6,227.3v3h3v-3zM2074,254v5h2v-5zM2074.8,268.3v3h2v-3zM2073,267.6v8h3v-8zM2063.1,253.2v8h4v-8zM2064.2,255.8v5h3v-5zM2076.2,255v8h3v-8zM2061.9,284.7v3h3v-3zM2045.4,224.9v5h3v-5zM2039.3,276.8v8h4v-8zM2053.3,255v8h2v-8zM2067.4,286.4v3h4v-3zM2039.5,223v3h3v-3zM2054.8,231.9v5h4v-5zM2080.7,260.3v3h2v-3zM2046.4,282.3v8h4v-8zM2086.3,257v5h4v-5zM2040.1,224v3h2v-3zM2094.5,260.8v5h3v-5zM2073.4,252.2v8h3v-8zM2056.8,271.8v8h4v-8zM2083.1,235.6v5h2v-5zM2060.3,233.5v8h3v-8zM2041.5,226.2v3h2v-3zM2065.4,232.4v5h4v-5zM2076.8,232.2v5h2v-5zM2090.1,263.7v5h4v-5zM2067,259.4v8h3v-8zM2093.9,274.4v8h3v-8zM2051.1,222.2v5h4v-5zM2081.5,266.9v8h2v-8zM2093.8,224v3h3v-3zM2045.3,274.1v5h3v-5zM2059.1,250.5v5h2v-5zM2085.9,280v5h2v-5zM2045.3,235.2v8h3v-8zM2049,271v3h2v-3zM2048.1,280.8v8h4v-8zM2093.3,227.9v3h2v-3zM2077.3,259.3v3h3v-3zM2076.3,277.6v5h4v-5zM2097.3,302.9v8h2v-8zM2112,322.1v3h2v-3zM2107.3,314.8v3h2v-3zM2089.8,298v5h3v-5zM2094.5,304.1v5h3v-5zM2091,301.2v8h2v-8zM2118.8,326.1v8h2v-8zM2106.7,314.5v8h2v-8zM2114,320.8v3h2v-3zM2109.1,311.4v8h3v-8zM2105.2,315.2v3h3v-3zM2124.1,332v5h2v-5zM2120.4,325v8h3v-8zM2114.3,321.9v3h3v-3zM2106.8,314.1v5h3v-5zM2121.3,330.7v3h2v-3zM2109.9,307.1v8h2v-8zM2103.3,312.4v3h2v-3zM2127.6,332.8v5h3v-5zM2115.8,325.1v3h2v-3zM2086.6,298.1v5h3v-5zM2099,304.7v5h2v-5zM2119.3,327.2v5h3v-5zM2123.1,328.7v5h3v-5zM2118.9,328.4v5h3v-5zM2097.7,303.2v8h2v-8zM2095.4,298.9v5h3v-5zM2097.7,305.8v5h3v-5zM2123.8,333.9v3h3v-3zM2103.9,312.4v3h2v-3zM2126.9,333v5h3v-5zM2106.7,314.5v5h2v-5zM2123.5,329.1v3h3v-3zM2109.4,314v3h2v-3zM2124.9,326.4v8h2v-8zM2109.6,316.2v3h3v-3zM2114.2,322.3v3h2v-3zM2119.8,325.8v3h3v-3zM2102.6,310.7v5h3v-5zM2104,311.3v3h3v-3zM2112.9,316.2v8h2v-8zM2105.5,313.7v8h3v-8zM2105.5,309.6v5h2v-5zM2105,315.1v8h2v-8zM2122.5,329.4v3h3v-3zM2139.5,275.7v8h2v-8zM2143.8,282.9v8h2v-8zM2142.8,281.8v4h1v-4zM2140,257.9v4h1v-4zM2138.3,255.7v8h2v-8zM2141.9,280.4v4h1v-4zM2143.3,279.9v4h1v-4zM2142,273v4h2v-4zM2141,279.9v4h1v-4zM2138.1,260.9v8h2v-8zM1724.6,420.1v2h6v-2zM1722.2,419.8v2h6v-2zM1717.3,414.9v12h4v-12zM1709.8,421.1v3h3v-3zM1709.3,418.1v5h6v-5zM1705,422.3v3h3v-3zM1713.4,419.8v12h6v-12zM1724,416.9v2h2v-2zM1707.2,421v5h3v-5zM1733.3,419v3h4v-3zM1721.9,414.2v12h6v-12zM1719.4,420.4v2h4v-2zM1708.5,419.9v5h4v-5zM1711.1,415.3v12h6v-12zM1711.6,420.2v12h2v-12zM1723.3,415v5h4v-5zM1718.8,417.1v12h4v-12zM1731.5,415v2h4v-2zM1806.3,388.9v6h2v-6zM1799.5,388.5v4h3v-4zM1787.9,395.8v10h3v-10zM1816,391.6v6h3v-6zM1766,402.5v10h3v-10zM1789.9,394.5v10h3v-10zM1806.4,390.2v4h4v-4zM1779.8,402.5v4h3v-4zM1786.3,403.2v4h2v-4zM1763.7,404.8v4h4v-4zM1837.9,410.5v6h3v-6zM1762.9,405.3v4h4v-4zM1781.5,394v6h2v-6zM1797.3,388.5v6h3v-6zM1827.4,398.1v10h2v-10zM1824.3,402.2v4h2v-4zM1777.1,402.8v4h3v-4zM1771.5,401.5v10h4v-10zM1766.1,408.5v10h2v-10zM1776.3,403.1v4h2v-4zM1771.1,403.1v10h3v-10zM1788.1,392.7v10h4v-10zM1807.2,388.4v4h4v-4zM1832.5,406.3v6h4v-6zM1766.1,404.6v10h3v-10zM1795.6,393.3v10h3v-10zM1827,402.9v10h4v-10zM1819.5,401.4v10h3v-10zM1795.3,394.3v10h4v-10zM1832.1,399.5v6h2v-6zM1804.4,388.1v10h2v-10zM1797.5,388.4v4h4v-4zM1799.4,394.4v6h4v-6zM1770.1,402.4v6h2v-6zM1818.2,386.5v6h2v-6zM1803.4,402.5v4h2v-4zM1783.8,400.7v4h4v-4zM1791.6,392.2v4h4v-4zM1819.5,399.4v4h4v-4zM1778.7,396.8v10h2v-10zM1784.4,400.8v4h3v-4zM1796.1,389.2v10h4v-10zM1765.2,404.1v6h2v-6zM1802,386.4v10h2v-10zM1792,397.5v4h4v-4zM1769.9,402.5v10h3v-10zM1773.6,398.7v4h2v-4zM1794.3,391.5v4h4v-4zM1826.1,398.4v10h4v-10zM1782.3,397.7v4h4v-4zM1821.3,402.4v4h4v-4zM1778.9,405.6v10h4v-10zM1812.3,400.2v4h4v-4zM1813.7,389.1v6h4v-6zM1785.1,398.8v6h4v-6zM1815.1,399.6v4h4v-4zM1783.2,391.3v10h2v-10zM1769.7,406.7v10h3v-10zM1767.1,406.7v10h4v-10zM1761.2,407.6v10h3v-10zM1835.3,405.5v10h3v-10zM1807.6,394.1v6h2v-6zM1801,393.2v10h2v-10zM1835.1,409.1v4h4v-4zM1806.5,388v6h2v-6zM1831,410v10h2v-10zM1798.5,390.7v4h4v-4zM1780.8,394.9v10h3v-10zM1828,404.7v4h4v-4zM1811.4,385.5v10h3v-10zM2077.4,441.7v3h3v-3zM2104.1,437.6v3h4v-3zM2101.2,420.9v2h4v-2zM2080.6,422.1v8h3v-8zM2094.4,426.9v2h2v-2zM2108.9,424v2h2v-2zM2096.7,430.6v5h6v-5zM2091.9,423.2v5h6v-5zM2084.1,418.9v12h4v-12zM2081.8,429.9v3h2v-3zM2099.3,423.7v8h4v-8zM2088.9,431.9v3h3v-3zM2097.3,433v5h3v-5zM2091.4,426.9v8h2v-8zM2077.9,431.6v2h2v-2zM2083.1,437.7v3h4v-3zM2087.7,422.5v12h4v-12zM2080,438.8v2h3v-2zM2103.5,438.8v2h3v-2zM2085.3,420.5v3h6v-3zM2081.7,441.3v2h2v-2zM2087.5,420.4v3h2v-3zM2416.9,347.2v14h2v-14zM2399.1,368.7v20h3v-20zM2398.1,352.1v14h3v-14zM2409.5,370.1v20h2v-20zM2397.1,368.2v8h2v-8zM2409.7,331.7v14h2v-14zM2403,353.3v14h3v-14zM2416.7,369.9v14h2v-14zM2392,337.4v20h3v-20zM2414.6,352.1v14h2v-14zM2403.1,346.3v14h2v-14zM2393.7,354.3v20h3v-20zM2405.6,364.2v20h1v-20zM2408.4,331.5v14h3v-14zM2397.3,348.6v8h2v-8zM2391.7,340.5v20h2v-20zM2413.2,362.8v20h3v-20zM2412.3,328.2v20h1v-20zM2393,344.5v8h2v-8zM2394.8,355.9v20h3v-20zM2410.1,330.5v20h2v-20zM2391.8,359.9v14h1v-14zM2414.4,344.5v14h3v-14zM2402.3,358.3v8h2v-8zM2404.6,335.1v20h2v-20zM2394.8,357.8v8h3v-8zM2472.2,293.4v8h3v-8zM2471.4,293.9v8h2v-8zM2485,251.8v4h3v-4zM2473.8,282.8v4h2v-4zM2478.1,266.6v8h3v-8zM2477.2,270.9v4h3v-4zM2479.3,285.8v4h2v-4zM2477.3,274.3v8h3v-8zM2484.2,259.5v8h2v-8zM2472,289.3v8h2v-8zM2473.3,283.2v8h2v-8zM2471.5,286.9v8h2v-8zM2482.3,262.2v4h3v-4zM2471.8,291.3v4h3v-4zM2478.2,270.6v4h3v-4zM2478.3,271.3v8h3v-8zM2482,257.9v4h2v-4zM2475.5,290.3v4h2v-4zM2484.9,249.6v8h2v-8zM2470.2,294.2v4h2v-4zM2482.5,270v4h2v-4zM2479.3,268.6v8h3v-8zM2484.2,256.8v4h3v-4zM2477,277.6v4h3v-4zM2485.1,252.1v4h3v-4zM2469.8,293.9v4h2v-4zM2506,329v6h2v-6zM2501.1,332.9v6h2v-6zM2501.3,317.8v6h2v-6zM2505.6,303.6v10h2v-10zM2505.3,321.8v6h2v-6zM2504.3,331.7v6h2v-6zM2504.6,333.9v6h2v-6zM2501.7,337.7v6h2v-6z" fill="#00ffff"/>
<path d="M1398.6,382.5v12h2v-12zM1396.9,379.7v12h2v-12zM1398.5,381.3v8h2v-8zM1399.5,394.9v8h2v-8zM1467.1,372v6h2v-6zM1467.8,370.8v6h2v-6zM1463.2,357.6v6h2v-6zM1464.6,359.6v8h2v-8zM1464.7,360.2v8h2v-8zM1651.5,387.3v12h2v-12zM1648,378.2v8h2v-8zM1650.7,381.7v8h3v-8zM1652.7,388.9v8h2v-8zM1646.5,360.2v12h2v-12zM1647.7,377v12h3v-12zM1647.5,365v12h3v-12zM1652.7,397.2v12h2v-12zM1713.3,419.6v8h2v-8zM1727.3,416.1v6h2v-6zM1727.4,418v6h2v-6zM1729.5,416.7v6h2v-6zM1724.7,418.6v6h2v-6zM1724.1,417.4v8h2v-8zM1724.2,418.2v8h3v-8zM1719.8,421.1v6h2v-6zM1793.2,396.7v10h3v-10zM1788.3,399.5v6h3v-6zM1810.4,394.7v6h3v-6zM1792.8,398.7v6h2v-6zM1798.5,394.6v10h3v-10zM1801.5,394.5v10h3v-10zM1774.7,405.2v6h3v-6zM1775.7,403v6h3v-6zM1785.3,398.9v10h2v-10zM1774.7,407.8v6h3v-6zM1774.2,402.5v10h3v-10zM1787.1,399v6h3v-6zM1783,398.5v10h3v-10zM1798.5,394.2v10h3v-10zM1787.7,399.7v10h2v-10zM1779.8,402.3v6h3v-6zM1778.1,402.3v6h3v-6zM1784,399v10h3v-10zM2096.3,426.2v10h2v-10zM2098.8,420.8v10h3v-10zM2090.5,431.1v10h3v-10zM2091.4,432.1v10h2v-10zM2096.8,418v10h3v-10zM2093.3,426v6h3v-6zM2099.9,427v6h3v-6zM2089.6,423.2v6h2v-6zM2403.3,350.2v14h2v-14zM2410.2,351.8v14h1v-14zM2400.8,353v8h2v-8zM2402.1,364.8v20h1v-20zM2394.5,376v8h2v-8zM2394.1,346.2v14h2v-14zM2409.3,372.1v14h2v-14zM2409.3,340.9v14h2v-14zM2397.9,354.2v20h1v-20zM2396.2,349.5v14h1v-14zM2407.4,357.6v8h2v-8zM2397.6,343.5v14h1v-14z" fill="#ffb6c1"/>
</g>
<g clip-path="url(#pc)">
<path d="M1374.2,322.5h33.6l-16.8,28.6zM2046.7,202.4h33.6l-16.8,28.6zM2117.5,363.7h33.6l-16.8,28.6zM2152.9,301.5h33.6l-16.8,28.6zM2188.3,286.4h33.6l-16.8,28.6zM2223.7,312.4h33.6l-16.8,28.6zM2259.1,296.6h33.6l-16.8,28.6zM2294.5,314.7h33.6l-16.8,28.6zM2329.9,312.4h33.6l-16.8,28.6zM2365.3,333.8h33.6l-16.8,28.6zM2400.7,388.6h33.6l-16.8,28.6zM2436.1,351.5h33.6l-16.8,28.6zM2471.5,365.5h33.6l-16.8,28.6zM2506.9,425.9h33.6l-16.8,28.6zM2542.3,326.4h33.6l-16.8,28.6zM2577.7,303.6h33.6l-16.8,28.6zM2613.1,292.6h33.6l-16.8,28.6zM2648.5,319.4h33.6l-16.8,28.6zM2683.9,344.6h33.6l-16.8,28.6zM2719.2,312.4h33.6l-16.8,28.6zM2754.6,354.3h33.6l-16.8,28.6zM2790,349.2h33.6l-16.8,28.6zM2825.4,416.5h33.6l-16.8,28.6zM2860.8,377.6h33.6l-16.8,28.6zM2896.2,359.7h33.6l-16.8,28.6zM2931.6,370.6h33.6l-16.8,28.6zM2967,370.6h33.6l-16.8,28.6zM3002.4,365.5h33.6l-16.8,28.6zM3037.8,382.3h33.6l-16.8,28.6zM3073.2,351.5h33.6l-16.8,28.6zM3108.6,296.6h33.6l-16.8,28.6zM3144,340.5h33.6l-16.8,28.6zM3179.4,425.5h33.6l-16.8,28.6zM3214.8,391.2h33.6l-16.8,28.6zM3250.2,368.6h33.6l-16.8,28.6zM3285.6,367.4h33.6l-16.8,28.6zM3321,368.1h33.6l-16.8,28.6zM3356.4,304.5h33.6l-16.8,28.6zM3391.8,287.8h33.6l-16.8,28.6zM3427.2,287.8h33.6l-16.8,28.6zM3462.5,270.7h33.6l-16.8,28.6zM3497.9,289.4h33.6l-16.8,28.6zM3533.3,284.7h33.6l-16.8,28.6zM3568.7,314.3h33.6l-16.8,28.6zM3604.1,322.5h33.6l-16.8,28.6zM1374.2,378.5h33.6l-16.8,-28.6zM2046.7,288h33.6l-16.8,-28.6zM2117.5,479.7h33.6l-16.8,-28.6zM2152.9,463.8h33.6l-16.8,-28.6zM2188.3,477.8h33.6l-16.8,-28.6zM2223.7,486.4h33.6l-16.8,-28.6zM2259.1,488.3h33.6l-16.8,-28.6zM2294.5,506.9h33.6l-16.8,-28.6zM2329.9,513.4h33.6l-16.8,-28.6zM2365.3,513.9h33.6l-16.8,-28.6zM2400.7,543.5h33.6l-16.8,-28.6zM2436.1,539.5h33.6l-16.8,-28.6zM2471.5,514.4h33.6l-16.8,-28.6zM2506.9,536.5h33.6l-16.8,-28.6zM2542.3,523.2h33.6l-16.8,-28.6zM2577.7,516.2h33.6l-16.8,-28.6zM2613.1,527.2h33.6l-16.8,-28.6zM2648.5,541.4h33.6l-16.8,-28.6zM2683.9,528.3h33.6l-16.8,-28.6zM2719.2,537.7h33.6l-16.8,-28.6zM2754.6,541.4h33.6l-16.8,-28.6zM2790,530.2h33.6l-16.8,-28.6zM2825.4,525.5h33.6l-16.8,-28.6zM2860.8,536.5h33.6l-16.8,-28.6zM2896.2,534.4h33.6l-16.8,-28.6zM2931.6,521.4h33.6l-16.8,-28.6zM2967,514.4h33.6l-16.8,-28.6zM3002.4,527.4h33.6l-16.8,-28.6zM3037.8,523.7h33.6l-16.8,-28.6zM3073.2,516.2h33.6l-16.8,-28.6zM3108.6,509.2h33.6l-16.8,-28.6zM3144,523.8h33.6l-16.8,-28.6zM3179.4,527.4h33.6l-16.8,-28.6zM3214.8,541.3h33.6l-16.8,-28.6zM3250.2,536.7h33.6l-16.8,-28.6zM3285.6,537.6h33.6l-16.8,-28.6zM3321,550.4h33.6l-16.8,-28.6zM3356.4,553.5h33.6l-16.8,-28.6zM3391.8,564.4h33.6l-16.8,-28.6zM3427.2,574.4h33.6l-16.8,-28.6zM3462.5,580.2h33.6l-16.8,-28.6zM3497.9,560.4h33.6l-16.8,-28.6zM3533.3,558.6h33.6l-16.8,-28.6zM3568.7,571.6h33.6l-16.8,-28.6zM3604.1,590.7h33.6l-16.8,-28.6zM1209.1,958l5,-8l5,8zM1669.2,958l5,-8l5,8zM1917,958l5,-8l5,8zM1987.8,958l5,-8l5,8z" fill="#ff0000"/>
<text class="lib" x="1567" y="318.9" font-size="58.33" transform="rotate(0.5 1567 318.9)">230</text>
<text class="lib" x="1578.8" y="519.9" font-size="58.33">250</text>
<text class="lib" x="1567" y="750.9" font-size="58.33" transform="rotate(-1.3 1567 750.9)">273</text>
<text class="lib" x="1567" y="820.2" font-size="58.33">279</text>
<text class="lib" x="1434.7" y="915.9" font-size="58.33" transform="rotate(0.4 1434.7 915.9)">279</text>
<text class="lib" x="3079" y="137" font-size="58.33" transform="rotate(-7.3 3079 137)">210</text>
<path d="M1214.1,637.2V672.1M1187.7,637.2h52.8M1187.7,672.1h52.8M1391,482.7V529.3M1364.6,482.7h52.8M1364.6,529.3h52.8M1851.2,695V741.6M1824.8,695h52.8M1824.8,741.6h52.8M1957.4,850V898.7M1931,850h52.8M1931,898.7h52.8M1992.8,633V667.1M1966.4,633h52.8M1966.4,667.1h52.8M3019.2,662.1V693.9M2992.8,662.1h52.8M2992.8,693.9h52.8M1674.2,737V752.5M1647.8,737h52.8M1647.8,752.5h52.8M1886.6,665.9V685.3M1860.2,665.9h52.8M1860.2,685.3h52.8M2098.9,533.8V573.6M2072.5,533.8h52.8M2072.5,573.6h52.8M2559.1,757.2V782.8M2532.7,757.2h52.8M2532.7,782.8h52.8M2983.8,758V789M2957.4,758h52.8M2957.4,789h52.8M3302.4,587V765.9M3276,587h52.8M3276,765.9h52.8M1072.5,950.6V970M1046.1,950.6h52.8M1107.9,957V970M1081.5,957h52.8M1143.3,952V970M1116.9,952h52.8M1178.7,944.2V970M1152.3,944.2h52.8M1426.4,935.1V970M1400,935.1h52.8M2134.3,950.6V970M2107.9,950.6h52.8M2169.7,936.5V970M2143.3,936.5h52.8M2205.1,941.5V970M2178.7,941.5h52.8M2275.9,939V970M2249.5,939h52.8M2311.3,945.8V970M2284.9,945.8h52.8M2346.7,889.9V946.8M2320.3,889.9h52.8M2320.3,946.8h52.8M2382.1,940V970M2355.7,940h52.8M2417.5,898.7V970M2391.1,898.7h52.8M2594.5,805.8V970M2568.1,805.8h52.8M2629.9,877V970M2603.5,877h52.8M2806.8,896.9V970M2780.4,896.9h52.8M3054.6,925.6V970M3028.2,925.6h52.8M3160.8,916.3V970M3134.4,916.3h52.8M3196.2,891.6V970M3169.8,891.6h52.8M3231.6,908.6V970M3205.2,908.6h52.8M3267,908.6V970M3240.6,908.6h52.8M3337.8,950.3V970M3311.4,950.3h52.8M3373.2,923.1V970M3346.8,923.1h52.8M3408.6,884.8V970M3382.2,884.8h52.8M3444,888.2V970M3417.6,888.2h52.8M3479.3,907.6V970M3452.9,907.6h52.8M3550.1,855.7V970M3523.7,855.7h52.8M3585.5,857.1V970M3559.1,857.1h52.8" stroke="#32cd32" stroke-width="4.2" fill="none"/>
<circle cx="1214.1" cy="654.7" r="16.6" fill="#32cd32"/><circle cx="1391" cy="505.2" r="16.6" fill="#32cd32"/><circle cx="1851.2" cy="718" r="16.6" fill="#32cd32"/><circle cx="1957.4" cy="874.9" r="16.6" fill="#32cd32"/><circle cx="1992.8" cy="649.6" r="16.6" fill="#32cd32"/><circle cx="3019.2" cy="677.8" r="16.6" fill="#32cd32"/><circle cx="1674.2" cy="744.7" r="13.8" fill="#fff" stroke="#32cd32" stroke-width="5.8"/><circle cx="1886.6" cy="675.6" r="13.8" fill="#fff" stroke="#32cd32" stroke-width="5.8"/><circle cx="2098.9" cy="553.5" r="13.8" fill="#fff" stroke="#32cd32" stroke-width="5.8"/><circle cx="2559.1" cy="770" r="13.8" fill="#fff" stroke="#32cd32" stroke-width="5.8"/><circle cx="2983.8" cy="773.3" r="13.8" fill="#fff" stroke="#32cd32" stroke-width="5.8"/><circle cx="3302.4" cy="676.3" r="13.8" fill="#fff" stroke="#32cd32" stroke-width="5.8"/><circle cx="1072.5" cy="955.5" r="13.8" fill="#fff" stroke="#32cd32" stroke-width="5.8"/><circle cx="1107.9" cy="962" r="13.8" fill="#fff" stroke="#32cd32" stroke-width="5.8"/><circle cx="1143.3" cy="956.5" r="13.8" fill="#fff" stroke="#32cd32" stroke-width="5.8"/><circle cx="1178.7" cy="951.6" r="13.8" fill="#fff" stroke="#32cd32" stroke-width="5.8"/><circle cx="1426.4" cy="947.7" r="13.8" fill="#fff" stroke="#32cd32" stroke-width="5.8"/><circle cx="2134.3" cy="956.5" r="13.8" fill="#fff" stroke="#32cd32" stroke-width="5.8"/><circle cx="2169.7" cy="958" r="13.8" fill="#fff" stroke="#32cd32" stroke-width="5.8"/><circle cx="2205.1" cy="955.5" r="13.8" fill="#fff" stroke="#32cd32" stroke-width="5.8"/><circle cx="2275.9" cy="952.6" r="13.8" fill="#fff" stroke="#32cd32" stroke-width="5.8"/><circle cx="2311.3" cy="956.5" r="13.8" fill="#fff" stroke="#32cd32" stroke-width="5.8"/><circle cx="2346.7" cy="918.6" r="13.8" fill="#fff" stroke="#32cd32" stroke-width="5.8"/><circle cx="2382.1" cy="958" r="13.8" fill="#fff" stroke="#32cd32" stroke-width="5.8"/><circle cx="2417.5" cy="938.5" r="13.8" fill="#fff" stroke="#32cd32" stroke-width="5.8"/><circle cx="2594.5" cy="900.4" r="13.8" fill="#fff" stroke="#32cd32" stroke-width="5.8"/><circle cx="2629.9" cy="919.5" r="13.8" fill="#fff" stroke="#32cd32" stroke-width="5.8"/><circle cx="2806.8" cy="939" r="13.8" fill="#fff" stroke="#32cd32" stroke-width="5.8"/><circle cx="3054.6" cy="956.1" r="13.8" fill="#fff" stroke="#32cd32" stroke-width="5.8"/><circle cx="3160.8" cy="953.7" r="13.8" fill="#fff" stroke="#32cd32" stroke-width="5.8"/><circle cx="3196.2" cy="933" r="13.8" fill="#fff" stroke="#32cd32" stroke-width="5.8"/><circle cx="3231.6" cy="956.1" r="13.8" fill="#fff" stroke="#32cd32" stroke-width="5.8"/><circle cx="3267" cy="956.1" r="13.8" fill="#fff" stroke="#32cd32" stroke-width="5.8"/><circle cx="3337.8" cy="958.6" r="13.8" fill="#fff" stroke="#32cd32" stroke-width="5.8"/><circle cx="3373.2" cy="956.1" r="13.8" fill="#fff" stroke="#32cd32" stroke-width="5.8"/><circle cx="3408.6" cy="944" r="13.8" fill="#fff" stroke="#32cd32" stroke-width="5.8"/><circle cx="3444" cy="944" r="13.8" fill="#fff" stroke="#32cd32" stroke-width="5.8"/><circle cx="3479.3" cy="956.1" r="13.8" fill="#fff" stroke="#32cd32" stroke-width="5.8"/><circle cx="3550.1" cy="944" r="13.8" fill="#fff" stroke="#32cd32" stroke-width="5.8"/><circle cx="3585.5" cy="943" r="13.8" fill="#fff" stroke="#32cd32" stroke-width="5.8"/>
<path d="M1072.5,242.8V426M1046.1,242.8h52.8M1046.1,426h52.8M1107.9,278.2V387.8M1081.5,278.2h52.8M1081.5,387.8h52.8M1143.3,244.9V384M1116.9,244.9h52.8M1116.9,384h52.8M1178.7,263.9V403.9M1152.3,263.9h52.8M1152.3,403.9h52.8M1426.4,304.9V362.9M1400,304.9h52.8M1400,362.9h52.8M1674.2,255V414.1M1647.8,255h52.8M1647.8,414.1h52.8M1815.8,118V191M1789.4,118h52.8M1789.4,191h52.8M1886.6,263.9V404.9M1860.2,263.9h52.8M1860.2,404.9h52.8M1922,522.7V540.9M1895.6,522.7h52.8M1895.6,540.9h52.8M2028.2,236V271.3M2001.8,236h52.8M2001.8,271.3h52.8M2063.5,239.9V264.2M2037.1,239.9h52.8M2037.1,264.2h52.8M2098.9,312.8V349.7M2072.5,312.8h52.8M2072.5,349.7h52.8M2134.3,203V224.9M2107.9,203h52.8M2107.9,224.9h52.8M2169.7,241V272.1M2143.3,241h52.8M2143.3,272.1h52.8M2205.1,271V294.6M2178.7,271h52.8M2178.7,294.6h52.8M2240.5,240.7V258.9M2214.1,240.7h52.8M2214.1,258.9h52.8M2275.9,242.8V281.5M2249.5,242.8h52.8M2249.5,281.5h52.8M2311.3,274.7V301.9M2284.9,274.7h52.8M2284.9,301.9h52.8M2346.7,280.9V307.1M2320.3,280.9h52.8M2320.3,307.1h52.8M2382.1,283.8V310M2355.7,283.8h52.8M2355.7,310h52.8M2417.5,301.9V324.6M2391.1,301.9h52.8M2391.1,324.6h52.8M2452.9,301.9V326.9M2426.5,301.9h52.8M2426.5,326.9h52.8M2488.3,611V636M2461.9,611h52.8M2461.9,636h52.8M2523.7,558.9V636M2497.3,558.9h52.8M2497.3,636h52.8M2559.1,220.2V452M2532.7,220.2h52.8M2532.7,452h52.8M2594.5,352.7V401.7M2568.1,352.7h52.8M2568.1,401.7h52.8M2629.9,301.9V335.7M2603.5,301.9h52.8M2603.5,335.7h52.8M2665.3,434V458.7M2638.9,434h52.8M2638.9,458.7h52.8M2700.7,568.9V630.9M2674.3,568.9h52.8M2674.3,630.9h52.8M2736.1,585.2V607M2709.7,585.2h52.8M2709.7,607h52.8M2771.4,632.8V686.8M2745,632.8h52.8M2745,686.8h52.8M2806.8,385.1V451.7M2780.4,385.1h52.8M2780.4,451.7h52.8M2842.2,611.8V668.9M2815.8,611.8h52.8M2815.8,668.9h52.8M2877.6,562.1V640.4M2851.2,562.1h52.8M2851.2,640.4h52.8M2913,575.2V645M2886.6,575.2h52.8M2886.6,645h52.8M2948.4,591.2V652.1M2922,591.2h52.8M2922,652.1h52.8M2983.8,212V460.3M2957.4,212h52.8M2957.4,460.3h52.8M3054.6,268.2V350.8M3028.2,268.2h52.8M3028.2,350.8h52.8M3090,605V662.7M3063.6,605h52.8M3063.6,662.7h52.8M3125.4,619.9V640.7M3099,619.9h52.8M3099,640.7h52.8M3160.8,306V364.7M3134.4,306h52.8M3134.4,364.7h52.8M3196.2,297V336M3169.8,297h52.8M3169.8,336h52.8M3231.6,312V377.4M3205.2,312h52.8M3205.2,377.4h52.8M3267,305.7V355.8M3240.6,305.7h52.8M3240.6,355.8h52.8M3302.4,305V353.5M3276,305h52.8M3276,353.5h52.8M3337.8,299.4V358.6M3311.4,299.4h52.8M3311.4,358.6h52.8M3373.2,284V329.7M3346.8,284h52.8M3346.8,329.7h52.8M3408.6,312.7V344.6M3382.2,312.7h52.8M3382.2,344.6h52.8M3444,312.7V346.5M3417.6,312.7h52.8M3417.6,346.5h52.8M3479.3,267.3V285.9M3452.9,267.3h52.8M3452.9,285.9h52.8M3514.7,254.5V271.9M3488.3,254.5h52.8M3488.3,271.9h52.8M3550.1,294.8V306.9M3523.7,294.8h52.8M3523.7,306.9h52.8M3585.5,312V318M3559.1,312h52.8M3559.1,318h52.8M3620.9,266.1V285.9M3594.5,266.1h52.8M3594.5,285.9h52.8M3656.3,286.5V307.6M3629.9,286.5h52.8M3629.9,307.6h52.8" stroke="#0000ff" stroke-width="4.2" fill="none"/>
<circle cx="1072.5" cy="334.2" r="13.8" fill="#fff" stroke="#0000ff" stroke-width="5.8"/><circle cx="1107.9" cy="332.8" r="13.8" fill="#fff" stroke="#0000ff" stroke-width="5.8"/><circle cx="1143.3" cy="314.1" r="13.8" fill="#fff" stroke="#0000ff" stroke-width="5.8"/><circle cx="1178.7" cy="333.9" r="13.8" fill="#fff" stroke="#0000ff" stroke-width="5.8"/><circle cx="1426.4" cy="333.6" r="13.8" fill="#fff" stroke="#0000ff" stroke-width="5.8"/><circle cx="1674.2" cy="334.4" r="13.8" fill="#fff" stroke="#0000ff" stroke-width="5.8"/><circle cx="1815.8" cy="154.6" r="16.6" fill="#0000ff"/><circle cx="1886.6" cy="334.4" r="13.8" fill="#fff" stroke="#0000ff" stroke-width="5.8"/><circle cx="1922" cy="532" r="16.6" fill="#0000ff"/><circle cx="2028.2" cy="253.6" r="16.6" fill="#0000ff"/><circle cx="2063.5" cy="251.8" r="16.6" fill="#0000ff"/><circle cx="2098.9" cy="331.3" r="13.8" fill="#fff" stroke="#0000ff" stroke-width="5.8"/><circle cx="2134.3" cy="214" r="13.8" fill="#fff" stroke="#0000ff" stroke-width="5.8"/><circle cx="2169.7" cy="256.3" r="13.8" fill="#fff" stroke="#0000ff" stroke-width="5.8"/><circle cx="2205.1" cy="282.2" r="13.8" fill="#fff" stroke="#0000ff" stroke-width="5.8"/><circle cx="2240.5" cy="250" r="16.6" fill="#0000ff"/><circle cx="2275.9" cy="262" r="13.8" fill="#fff" stroke="#0000ff" stroke-width="5.8"/><circle cx="2311.3" cy="288.7" r="13.8" fill="#fff" stroke="#0000ff" stroke-width="5.8"/><circle cx="2346.7" cy="293.5" r="13.8" fill="#fff" stroke="#0000ff" stroke-width="5.8"/><circle cx="2382.1" cy="297" r="13.8" fill="#fff" stroke="#0000ff" stroke-width="5.8"/><circle cx="2417.5" cy="315.9" r="13.8" fill="#fff" stroke="#0000ff" stroke-width="5.8"/><circle cx="2452.9" cy="313.9" r="16.6" fill="#0000ff"/><circle cx="2488.3" cy="623.3" r="16.6" fill="#0000ff"/><circle cx="2523.7" cy="598" r="16.6" fill="#0000ff"/><circle cx="2559.1" cy="335.9" r="13.8" fill="#fff" stroke="#0000ff" stroke-width="5.8"/><circle cx="2594.5" cy="377" r="13.8" fill="#fff" stroke="#0000ff" stroke-width="5.8"/><circle cx="2629.9" cy="318.8" r="13.8" fill="#fff" stroke="#0000ff" stroke-width="5.8"/><circle cx="2665.3" cy="446.3" r="16.6" fill="#0000ff"/><circle cx="2700.7" cy="599.6" r="16.6" fill="#0000ff"/><circle cx="2736.1" cy="595.5" r="16.6" fill="#0000ff"/><circle cx="2771.4" cy="659.9" r="16.6" fill="#0000ff"/><circle cx="2806.8" cy="418.4" r="13.8" fill="#fff" stroke="#0000ff" stroke-width="5.8"/><circle cx="2842.2" cy="640.4" r="16.6" fill="#0000ff"/><circle cx="2877.6" cy="600.7" r="16.6" fill="#0000ff"/><circle cx="2913" cy="609.7" r="16.6" fill="#0000ff"/><circle cx="2948.4" cy="621.1" r="16.6" fill="#0000ff"/><circle cx="2983.8" cy="336.9" r="13.8" fill="#fff" stroke="#0000ff" stroke-width="5.8"/><circle cx="3054.6" cy="309.6" r="13.8" fill="#fff" stroke="#0000ff" stroke-width="5.8"/><circle cx="3090" cy="634.1" r="16.6" fill="#0000ff"/><circle cx="3125.4" cy="631" r="16.6" fill="#0000ff"/><circle cx="3160.8" cy="335" r="13.8" fill="#fff" stroke="#0000ff" stroke-width="5.8"/><circle cx="3196.2" cy="316.3" r="13.8" fill="#fff" stroke="#0000ff" stroke-width="5.8"/><circle cx="3231.6" cy="344.1" r="13.8" fill="#fff" stroke="#0000ff" stroke-width="5.8"/><circle cx="3267" cy="330.6" r="13.8" fill="#fff" stroke="#0000ff" stroke-width="5.8"/><circle cx="3302.4" cy="329.7" r="13.8" fill="#fff" stroke="#0000ff" stroke-width="5.8"/><circle cx="3337.8" cy="329" r="13.8" fill="#fff" stroke="#0000ff" stroke-width="5.8"/><circle cx="3373.2" cy="307.3" r="13.8" fill="#fff" stroke="#0000ff" stroke-width="5.8"/><circle cx="3408.6" cy="329.7" r="13.8" fill="#fff" stroke="#0000ff" stroke-width="5.8"/><circle cx="3444" cy="329.7" r="13.8" fill="#fff" stroke="#0000ff" stroke-width="5.8"/><circle cx="3479.3" cy="276.1" r="13.8" fill="#fff" stroke="#0000ff" stroke-width="5.8"/><circle cx="3514.7" cy="263.1" r="16.6" fill="#0000ff"/><circle cx="3550.1" cy="301" r="13.8" fill="#fff" stroke="#0000ff" stroke-width="5.8"/><circle cx="3585.5" cy="315" r="13.8" fill="#fff" stroke="#0000ff" stroke-width="5.8"/><circle cx="3620.9" cy="275.4" r="16.6" fill="#0000ff"/><circle cx="3656.3" cy="297" r="16.6" fill="#0000ff"/>
<polyline points="636.3,114.1 720,118 801.9,122.7 923,135.3 1029,136.3 1281.3,135.3 1382.2,131.3 1508.4,122.7 1900,122.7 2220.5,125.2 2330,121 2400,117.8 2465.6,112.5 2490,110" fill="none" stroke="#000" stroke-width="4" stroke-linejoin="round"/>
<polyline points="2510,110 2531,112.7 2642,119.3 2702.8,121.3 2773.5,113.7 3073.7,112.7" fill="none" stroke="#000" stroke-width="4" stroke-linejoin="round"/>
<polyline points="3538,112.7 3637,114.2" fill="none" stroke="#000" stroke-width="4" stroke-linejoin="round"/>
<polyline points="266,326 340,325.5 655,324.5 946.6,318.6 1004.7,306.6 1230.4,302 1562,298.7" fill="none" stroke="#000" stroke-width="4" stroke-linejoin="round"/>
<polyline points="1666,296.8 1910.4,295.4 2087.3,296.7 2300,289.5 2760,284.2 3200,284.5 3429.5,285.4 3637,281.7" fill="none" stroke="#000" stroke-width="4" stroke-linejoin="round"/>
<polyline points="266,500 1250,500 1574,499.9" fill="none" stroke="#000" stroke-width="4" stroke-linejoin="round"/>
<polyline points="1678,499.9 2100,501.6 2283,502.3 2376,503.4 2650,498.1 2793.3,504.6 2800.3,504.6 2821.3,483.6 2810.8,465 3200,460.8 3499.4,461.8 3637,453.6" fill="none" stroke="#000" stroke-width="4" stroke-linejoin="round"/>
<polyline points="266,732 1100,731.1 1333,734.3 1562.8,730.2" fill="none" stroke="#000" stroke-width="4" stroke-linejoin="round"/>
<polyline points="1667.2,727.5 2100,718.7 2317.6,714.5 2400,717 2500,722.2 2631,727.9 3100,727 3179.4,725.6 3637,731.5" fill="none" stroke="#000" stroke-width="4" stroke-linejoin="round"/>
<polyline points="266,810.5 1100,800.5 1562.8,800.9" fill="none" stroke="#000" stroke-width="4" stroke-linejoin="round"/>
<polyline points="1667.2,799 2100,797.1 2172,794.5 2400,792.6 2500,793.6 3082,796 3100,797.2 3637,805.7" fill="none" stroke="#000" stroke-width="4" stroke-linejoin="round"/>
<polyline points="266,853 341.5,855.5 1000,866.2 1213.5,867.2 1380,871.2 1500,873.8 1620,876.3 1787,888.4 1620,893.4 1534.2,895" fill="none" stroke="#000" stroke-width="4" stroke-linejoin="round"/>
<polyline points="266,891 1100,893.5 1430,895.9" fill="none" stroke="#000" stroke-width="4" stroke-linejoin="round"/>
</g>
<path d="M266,109V960M263,957H3640M266,112H347M266,217.6H347M266,323.2H347M266,428.9H347M266,534.5H347M266,640.1H347M266,745.8H347M266,851.4H347M266,957H347M266,957V894M336.2,957V924M406.5,957V924M476.7,957V924M546.9,957V894M617.1,957V924M687.4,957V924M757.6,957V924M827.8,957V894M898.1,957V924M968.3,957V924M1038.5,957V924M1108.7,957V894M1179,957V924M1249.2,957V924M1319.4,957V924M1389.7,957V894M1459.9,957V924M1530.1,957V924M1600.4,957V924M1670.6,957V894M1740.8,957V924M1811,957V924M1881.3,957V924M1951.5,957V894M2021.7,957V924M2092,957V924M2162.2,957V924M2232.4,957V894M2302.6,957V924M2372.9,957V924M2443.1,957V924M2513.3,957V894M2583.6,957V924M2653.8,957V924M2724,957V924M2794.2,957V894M2864.5,957V924M2934.7,957V924M3004.9,957V924M3075.2,957V894M3145.4,957V924M3215.6,957V924M3285.8,957V924M3356.1,957V894M3426.3,957V924M3496.5,957V924M3566.8,957V924M3637,957V894" stroke="#000" stroke-width="6" fill="none" shape-rendering="crispEdges"/>
<text x="231.5" y="136.8" font-size="66.67" text-anchor="end">12.1</text>
<text x="231.5" y="242.4" font-size="66.67" text-anchor="end">10.6</text>
<text x="231.5" y="348.1" font-size="66.67" text-anchor="end">9.14</text>
<text x="231.5" y="453.7" font-size="66.67" text-anchor="end">7.65</text>
<text x="231.5" y="559.3" font-size="66.67" text-anchor="end">6.15</text>
<text x="231.5" y="664.9" font-size="66.67" text-anchor="end">4.65</text>
<text x="231.5" y="770.5" font-size="66.67" text-anchor="end">3.16</text>
<text x="231.5" y="876.2" font-size="66.67" text-anchor="end">1.66</text>
<text x="231.5" y="981.8" font-size="66.67" text-anchor="end">0.16</text>
<text x="266" y="1036" font-size="75" text-anchor="middle">0</text>
<text x="546.9" y="1036" font-size="75" text-anchor="middle">2</text>
<text x="827.8" y="1036" font-size="75" text-anchor="middle">4</text>
<text x="1108.8" y="1036" font-size="75" text-anchor="middle">6</text>
<text x="1389.7" y="1036" font-size="75" text-anchor="middle">8</text>
<text x="1670.6" y="1036" font-size="75" text-anchor="middle">10</text>
<text x="1951.5" y="1036" font-size="75" text-anchor="middle">12</text>
<text x="2232.4" y="1036" font-size="75" text-anchor="middle">14</text>
<text x="2513.3" y="1036" font-size="75" text-anchor="middle">16</text>
<text x="2794.3" y="1036" font-size="75" text-anchor="middle">18</text>
<text x="3075.2" y="1036" font-size="75" text-anchor="middle">20</text>
<text x="3356.1" y="1036" font-size="75" text-anchor="middle">22</text>
<text x="3637" y="1036" font-size="75" text-anchor="middle">24</text>
<text x="1953.2" y="1116" font-size="76.1" text-anchor="middle">Time (UTC)</text>
<text transform="translate(36 534.5) rotate(-90)" font-size="66.67" text-anchor="middle">Height AMSL (km)</text>
<text class="lib" x="1951.6" y="77" font-size="100.7" text-anchor="middle">Palaiseau: 2025/10/18</text>
<rect x="266" y="1144" width="3371" height="56" fill="url(#cb)"/>
<path d="M263,1200H3640M266,1200V1183M378.4,1200V1190M490.7,1200V1190M603.1,1200V1190M715.5,1200V1190M827.8,1200V1190M940.2,1200V1190M1052.6,1200V1190M1164.9,1200V1190M1277.3,1200V1190M1389.7,1200V1183M1502,1200V1190M1614.4,1200V1190M1726.8,1200V1190M1839.1,1200V1190M1951.5,1200V1190M2063.9,1200V1190M2176.2,1200V1190M2288.6,1200V1190M2401,1200V1190M2513.3,1200V1183M2625.7,1200V1190M2738.1,1200V1190M2850.4,1200V1190M2962.8,1200V1190M3075.2,1200V1190M3187.5,1200V1190M3299.9,1200V1190M3412.3,1200V1190M3524.6,1200V1190M3637,1200V1183" stroke="#000" stroke-width="6" fill="none" shape-rendering="crispEdges"/>
<text x="257.5" y="1263" font-size="59.5" text-anchor="middle">Clear</text>
<text x="1390.5" y="1263" font-size="59.5" text-anchor="middle">Water</text>
<text x="2514.5" y="1263" font-size="59.5" text-anchor="middle">Ice</text>
<text x="3638" y="1263" font-size="59.5" text-anchor="middle">Other</text>
<rect x="249" y="1313" width="651.2" height="334.7" fill="#fff" stroke="#000" stroke-width="6"/>
<circle cx="286.9" cy="1383.8" r="17" fill="#32cd32"/>
<circle cx="286.9" cy="1469.9" r="13.8" fill="#fff" stroke="#32cd32" stroke-width="6.4"/>
<path d="M270.6,1550.4l32.6,32.6M303.2,1550.4l-32.6,32.6" stroke="#32cd32" stroke-width="5.5" fill="none"/>
<text x="324.7" y="1404.6" font-size="58.6">SEV-OCA SL Wat</text>
<text x="324.7" y="1491.1" font-size="58.6">SEV-OCA 2L Wat</text>
<text x="324.7" y="1587.5" font-size="58.6">OCA High Err Wat</text>
<rect x="1040.5" y="1313" width="571.5" height="228" fill="#fff" stroke="#000" stroke-width="6"/>
<circle cx="1077.3" cy="1383.8" r="17" fill="#0000ff"/>
<circle cx="1077.3" cy="1469.9" r="13.8" fill="#fff" stroke="#0000ff" stroke-width="6.4"/>
<text x="1115.2" y="1404.6" font-size="58.6">SEV-OCA SL Ice</text>
<text x="1115.2" y="1491.1" font-size="58.6">SEV-OCA 2L Ice</text>
<rect x="2328.3" y="1313" width="558.4" height="401.2" fill="#fff" stroke="#000" stroke-width="6"/>
<path d="M2347.6,1393.5h34l-17,-29z" fill="#ff0000"/>
<path d="M2347.6,1460.5h34l-17,29z" fill="#ff0000"/>
<path d="M2353.2,1563.8h22.8l-11.4,-19.7z" fill="#fff" stroke="#ff0000" stroke-width="6.5"/>
<path d="M2353.2,1636.7h22.8l-11.4,19.7z" fill="#fff" stroke="#ff0000" stroke-width="6.5"/>
<text x="2402.3" y="1404.6" font-size="58.6">ACTRIS CBH</text>
<text x="2402.3" y="1491.1" font-size="58.6">ACTRIS CTH</text>
<text x="2402.3" y="1577.3" font-size="58.6">ACTRIS CBH BL</text>
<text x="2402.3" y="1663.6" font-size="58.6">ACTRIS CTH BL</text>
</svg></body></html>
